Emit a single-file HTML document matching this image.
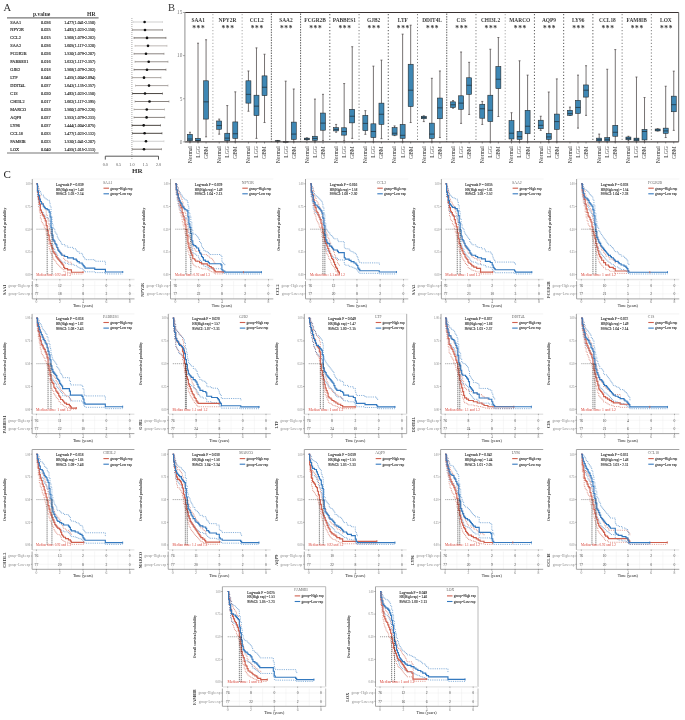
<!DOCTYPE html>
<html><head><meta charset="utf-8"><title>Figure</title>
<style>
html,body{margin:0;padding:0;background:#fff;}
body{width:685px;height:720px;overflow:hidden;}
svg{display:block;}
text{font-family:"Liberation Serif",serif;}
</style></head><body>
<svg width="685" height="720" viewBox="0 0 685 720">
<rect width="685" height="720" fill="#fff"/>
<text x="3.5" y="10.6" font-size="10.5" font-family="Liberation Serif, serif" fill="#333">A</text>
<text x="168" y="10.6" font-size="10.5" font-family="Liberation Serif, serif" fill="#333">B</text>
<text x="3.6" y="178.2" font-size="11" font-family="Liberation Serif, serif" fill="#222">C</text>
<g font-family="Liberation Serif, serif" stroke-width="0.14">
<text x="33" y="15.6" font-size="5.6" font-weight="bold" fill="#333">p.value</text>
<text x="95.5" y="15.6" font-size="5.6" font-weight="bold" fill="#333" text-anchor="end">HR</text>
<line x1="7" y1="17.9" x2="98.6" y2="17.9" stroke="#777" stroke-width="1.1"/>
<line x1="7" y1="153" x2="98.6" y2="153" stroke="#777" stroke-width="1.1"/>
<text x="10.3" y="23.5" font-size="4.3" fill="#2a2a2a" stroke="#2a2a2a">SAA1</text>
<text x="41" y="23.5" font-size="4.3" fill="#2a2a2a" stroke="#2a2a2a">0.036</text>
<text x="95.3" y="23.5" font-size="4.3" fill="#2a2a2a" stroke="#2a2a2a" text-anchor="end" textLength="31" lengthAdjust="spacingAndGlyphs">1.477(1.041-2.150)</text>
<text x="10.3" y="31.45" font-size="4.3" fill="#2a2a2a" stroke="#2a2a2a">NPY2R</text>
<text x="41" y="31.45" font-size="4.3" fill="#2a2a2a" stroke="#2a2a2a">0.025</text>
<text x="95.3" y="31.45" font-size="4.3" fill="#2a2a2a" stroke="#2a2a2a" text-anchor="end" textLength="31" lengthAdjust="spacingAndGlyphs">1.492(1.023-2.150)</text>
<text x="10.3" y="39.4" font-size="4.3" fill="#2a2a2a" stroke="#2a2a2a">CCL2</text>
<text x="41" y="39.4" font-size="4.3" fill="#2a2a2a" stroke="#2a2a2a">0.015</text>
<text x="95.3" y="39.4" font-size="4.3" fill="#2a2a2a" stroke="#2a2a2a" text-anchor="end" textLength="31" lengthAdjust="spacingAndGlyphs">1.568(1.079-2.282)</text>
<text x="10.3" y="47.35" font-size="4.3" fill="#2a2a2a" stroke="#2a2a2a">SAA2</text>
<text x="41" y="47.35" font-size="4.3" fill="#2a2a2a" stroke="#2a2a2a">0.036</text>
<text x="95.3" y="47.35" font-size="4.3" fill="#2a2a2a" stroke="#2a2a2a" text-anchor="end" textLength="31" lengthAdjust="spacingAndGlyphs">1.605(1.117-2.320)</text>
<text x="10.3" y="55.3" font-size="4.3" fill="#2a2a2a" stroke="#2a2a2a">FCGR2B</text>
<text x="41" y="55.3" font-size="4.3" fill="#2a2a2a" stroke="#2a2a2a">0.026</text>
<text x="95.3" y="55.3" font-size="4.3" fill="#2a2a2a" stroke="#2a2a2a" text-anchor="end" textLength="31" lengthAdjust="spacingAndGlyphs">1.530(1.079-2.207)</text>
<text x="10.3" y="63.25" font-size="4.3" fill="#2a2a2a" stroke="#2a2a2a">PABBES1</text>
<text x="41" y="63.25" font-size="4.3" fill="#2a2a2a" stroke="#2a2a2a">0.016</text>
<text x="95.3" y="63.25" font-size="4.3" fill="#2a2a2a" stroke="#2a2a2a" text-anchor="end" textLength="31" lengthAdjust="spacingAndGlyphs">1.632(1.117-2.357)</text>
<text x="10.3" y="71.2" font-size="4.3" fill="#2a2a2a" stroke="#2a2a2a">GJB2</text>
<text x="41" y="71.2" font-size="4.3" fill="#2a2a2a" stroke="#2a2a2a">0.018</text>
<text x="95.3" y="71.2" font-size="4.3" fill="#2a2a2a" stroke="#2a2a2a" text-anchor="end" textLength="31" lengthAdjust="spacingAndGlyphs">1.568(1.079-2.282)</text>
<text x="10.3" y="79.15" font-size="4.3" fill="#2a2a2a" stroke="#2a2a2a">LTF</text>
<text x="41" y="79.15" font-size="4.3" fill="#2a2a2a" stroke="#2a2a2a">0.046</text>
<text x="95.3" y="79.15" font-size="4.3" fill="#2a2a2a" stroke="#2a2a2a" text-anchor="end" textLength="31" lengthAdjust="spacingAndGlyphs">1.455(1.004-2.094)</text>
<text x="10.3" y="87.1" font-size="4.3" fill="#2a2a2a" stroke="#2a2a2a">DDIT4L</text>
<text x="41" y="87.1" font-size="4.3" fill="#2a2a2a" stroke="#2a2a2a">0.037</text>
<text x="95.3" y="87.1" font-size="4.3" fill="#2a2a2a" stroke="#2a2a2a" text-anchor="end" textLength="31" lengthAdjust="spacingAndGlyphs">1.643(1.135-2.357)</text>
<text x="10.3" y="95.05" font-size="4.3" fill="#2a2a2a" stroke="#2a2a2a">C1S</text>
<text x="41" y="95.05" font-size="4.3" fill="#2a2a2a" stroke="#2a2a2a">0.020</text>
<text x="95.3" y="95.05" font-size="4.3" fill="#2a2a2a" stroke="#2a2a2a" text-anchor="end" textLength="31" lengthAdjust="spacingAndGlyphs">1.492(1.023-2.150)</text>
<text x="10.3" y="103" font-size="4.3" fill="#2a2a2a" stroke="#2a2a2a">CHI3L2</text>
<text x="41" y="103" font-size="4.3" fill="#2a2a2a" stroke="#2a2a2a">0.017</text>
<text x="95.3" y="103" font-size="4.3" fill="#2a2a2a" stroke="#2a2a2a" text-anchor="end" textLength="31" lengthAdjust="spacingAndGlyphs">1.662(1.117-2.395)</text>
<text x="10.3" y="110.95" font-size="4.3" fill="#2a2a2a" stroke="#2a2a2a">MARCO</text>
<text x="41" y="110.95" font-size="4.3" fill="#2a2a2a" stroke="#2a2a2a">0.028</text>
<text x="95.3" y="110.95" font-size="4.3" fill="#2a2a2a" stroke="#2a2a2a" text-anchor="end" textLength="31" lengthAdjust="spacingAndGlyphs">1.560(1.079-2.226)</text>
<text x="10.3" y="118.9" font-size="4.3" fill="#2a2a2a" stroke="#2a2a2a">AQP9</text>
<text x="41" y="118.9" font-size="4.3" fill="#2a2a2a" stroke="#2a2a2a">0.037</text>
<text x="95.3" y="118.9" font-size="4.3" fill="#2a2a2a" stroke="#2a2a2a" text-anchor="end" textLength="31" lengthAdjust="spacingAndGlyphs">1.553(1.079-2.233)</text>
<text x="10.3" y="126.85" font-size="4.3" fill="#2a2a2a" stroke="#2a2a2a">LY96</text>
<text x="41" y="126.85" font-size="4.3" fill="#2a2a2a" stroke="#2a2a2a">0.037</text>
<text x="95.3" y="126.85" font-size="4.3" fill="#2a2a2a" stroke="#2a2a2a" text-anchor="end" textLength="31" lengthAdjust="spacingAndGlyphs">1.444(1.004-2.075)</text>
<text x="10.3" y="134.8" font-size="4.3" fill="#2a2a2a" stroke="#2a2a2a">CCL18</text>
<text x="41" y="134.8" font-size="4.3" fill="#2a2a2a" stroke="#2a2a2a">0.033</text>
<text x="95.3" y="134.8" font-size="4.3" fill="#2a2a2a" stroke="#2a2a2a" text-anchor="end" textLength="31" lengthAdjust="spacingAndGlyphs">1.477(1.023-2.132)</text>
<text x="10.3" y="142.75" font-size="4.3" fill="#2a2a2a" stroke="#2a2a2a">FAM8IB</text>
<text x="41" y="142.75" font-size="4.3" fill="#2a2a2a" stroke="#2a2a2a">0.023</text>
<text x="95.3" y="142.75" font-size="4.3" fill="#2a2a2a" stroke="#2a2a2a" text-anchor="end" textLength="31" lengthAdjust="spacingAndGlyphs">1.530(1.041-2.207)</text>
<text x="10.3" y="150.7" font-size="4.3" fill="#2a2a2a" stroke="#2a2a2a">LOX</text>
<text x="41" y="150.7" font-size="4.3" fill="#2a2a2a" stroke="#2a2a2a">0.040</text>
<text x="95.3" y="150.7" font-size="4.3" fill="#2a2a2a" stroke="#2a2a2a" text-anchor="end" textLength="31" lengthAdjust="spacingAndGlyphs">1.455(1.015-2.113)</text>
</g>
<line x1="131.9" y1="18" x2="131.9" y2="159.5" stroke="#777" stroke-width="0.7" stroke-dasharray="0.9 1.1"/>
<line x1="133" y1="22" x2="162.5" y2="22" stroke="#cfcfcf" stroke-width="1.0"/>
<line x1="133" y1="21" x2="133" y2="23" stroke="#cfcfcf" stroke-width="0.6"/>
<line x1="162.5" y1="21" x2="162.5" y2="23" stroke="#cfcfcf" stroke-width="0.6"/>
<circle cx="144.6" cy="22" r="1.3" fill="#111"/>
<line x1="132.5" y1="29.95" x2="162.5" y2="29.95" stroke="#8a8480" stroke-width="1.0"/>
<line x1="132.5" y1="28.95" x2="132.5" y2="30.95" stroke="#8a8480" stroke-width="0.6"/>
<line x1="162.5" y1="28.95" x2="162.5" y2="30.95" stroke="#8a8480" stroke-width="0.6"/>
<circle cx="145" cy="29.95" r="1.3" fill="#111"/>
<line x1="134" y1="37.9" x2="166" y2="37.9" stroke="#6e6864" stroke-width="1.0"/>
<line x1="134" y1="36.9" x2="134" y2="38.9" stroke="#6e6864" stroke-width="0.6"/>
<line x1="166" y1="36.9" x2="166" y2="38.9" stroke="#6e6864" stroke-width="0.6"/>
<circle cx="147" cy="37.9" r="1.3" fill="#111"/>
<line x1="135" y1="45.85" x2="167" y2="45.85" stroke="#bdb8b4" stroke-width="1.0"/>
<line x1="135" y1="44.85" x2="135" y2="46.85" stroke="#bdb8b4" stroke-width="0.6"/>
<line x1="167" y1="44.85" x2="167" y2="46.85" stroke="#bdb8b4" stroke-width="0.6"/>
<circle cx="148" cy="45.85" r="1.3" fill="#111"/>
<line x1="134" y1="53.8" x2="164" y2="53.8" stroke="#8a8480" stroke-width="1.0"/>
<line x1="134" y1="52.8" x2="134" y2="54.8" stroke="#8a8480" stroke-width="0.6"/>
<line x1="164" y1="52.8" x2="164" y2="54.8" stroke="#8a8480" stroke-width="0.6"/>
<circle cx="146" cy="53.8" r="1.3" fill="#111"/>
<line x1="135" y1="61.75" x2="168" y2="61.75" stroke="#9a9490" stroke-width="1.0"/>
<line x1="135" y1="60.75" x2="135" y2="62.75" stroke="#9a9490" stroke-width="0.6"/>
<line x1="168" y1="60.75" x2="168" y2="62.75" stroke="#9a9490" stroke-width="0.6"/>
<circle cx="148.7" cy="61.75" r="1.3" fill="#111"/>
<line x1="134" y1="69.7" x2="166" y2="69.7" stroke="#6e6864" stroke-width="1.0"/>
<line x1="134" y1="68.7" x2="134" y2="70.7" stroke="#6e6864" stroke-width="0.6"/>
<line x1="166" y1="68.7" x2="166" y2="70.7" stroke="#6e6864" stroke-width="0.6"/>
<circle cx="147" cy="69.7" r="1.3" fill="#111"/>
<line x1="132" y1="77.65" x2="161" y2="77.65" stroke="#aaa5a0" stroke-width="1.0"/>
<line x1="132" y1="76.65" x2="132" y2="78.65" stroke="#aaa5a0" stroke-width="0.6"/>
<line x1="161" y1="76.65" x2="161" y2="78.65" stroke="#aaa5a0" stroke-width="0.6"/>
<circle cx="144" cy="77.65" r="1.3" fill="#111"/>
<line x1="135.5" y1="85.6" x2="168" y2="85.6" stroke="#a8a3a0" stroke-width="1.0"/>
<line x1="135.5" y1="84.6" x2="135.5" y2="86.6" stroke="#a8a3a0" stroke-width="0.6"/>
<line x1="168" y1="84.6" x2="168" y2="86.6" stroke="#a8a3a0" stroke-width="0.6"/>
<circle cx="149" cy="85.6" r="1.3" fill="#111"/>
<line x1="132.5" y1="93.55" x2="162.5" y2="93.55" stroke="#4a4540" stroke-width="1.0"/>
<line x1="132.5" y1="92.55" x2="132.5" y2="94.55" stroke="#4a4540" stroke-width="0.6"/>
<line x1="162.5" y1="92.55" x2="162.5" y2="94.55" stroke="#4a4540" stroke-width="0.6"/>
<circle cx="145" cy="93.55" r="1.3" fill="#111"/>
<line x1="135" y1="101.5" x2="169" y2="101.5" stroke="#8a8480" stroke-width="1.0"/>
<line x1="135" y1="100.5" x2="135" y2="102.5" stroke="#8a8480" stroke-width="0.6"/>
<line x1="169" y1="100.5" x2="169" y2="102.5" stroke="#8a8480" stroke-width="0.6"/>
<circle cx="149.5" cy="101.5" r="1.3" fill="#111"/>
<line x1="134" y1="109.45" x2="164.5" y2="109.45" stroke="#aaa5a0" stroke-width="1.0"/>
<line x1="134" y1="108.45" x2="134" y2="110.45" stroke="#aaa5a0" stroke-width="0.6"/>
<line x1="164.5" y1="108.45" x2="164.5" y2="110.45" stroke="#aaa5a0" stroke-width="0.6"/>
<circle cx="146.8" cy="109.45" r="1.3" fill="#111"/>
<line x1="134" y1="117.4" x2="164.7" y2="117.4" stroke="#8a8480" stroke-width="1.0"/>
<line x1="134" y1="116.4" x2="134" y2="118.4" stroke="#8a8480" stroke-width="0.6"/>
<line x1="164.7" y1="116.4" x2="164.7" y2="118.4" stroke="#8a8480" stroke-width="0.6"/>
<circle cx="146.6" cy="117.4" r="1.3" fill="#111"/>
<line x1="132" y1="125.35" x2="160.5" y2="125.35" stroke="#4a4540" stroke-width="1.0"/>
<line x1="132" y1="124.35" x2="132" y2="126.35" stroke="#4a4540" stroke-width="0.6"/>
<line x1="160.5" y1="124.35" x2="160.5" y2="126.35" stroke="#4a4540" stroke-width="0.6"/>
<circle cx="143.7" cy="125.35" r="1.3" fill="#111"/>
<line x1="132.5" y1="133.3" x2="162" y2="133.3" stroke="#4a4540" stroke-width="1.0"/>
<line x1="132.5" y1="132.3" x2="132.5" y2="134.3" stroke="#4a4540" stroke-width="0.6"/>
<line x1="162" y1="132.3" x2="162" y2="134.3" stroke="#4a4540" stroke-width="0.6"/>
<circle cx="144.6" cy="133.3" r="1.3" fill="#111"/>
<line x1="133" y1="141.25" x2="164" y2="141.25" stroke="#d0d0d0" stroke-width="1.0"/>
<line x1="133" y1="140.25" x2="133" y2="142.25" stroke="#d0d0d0" stroke-width="0.6"/>
<line x1="164" y1="140.25" x2="164" y2="142.25" stroke="#d0d0d0" stroke-width="0.6"/>
<circle cx="146" cy="141.25" r="1.3" fill="#111"/>
<line x1="132.3" y1="149.2" x2="161.5" y2="149.2" stroke="#7a7470" stroke-width="1.0"/>
<line x1="132.3" y1="148.2" x2="132.3" y2="150.2" stroke="#7a7470" stroke-width="0.6"/>
<line x1="161.5" y1="148.2" x2="161.5" y2="150.2" stroke="#7a7470" stroke-width="0.6"/>
<circle cx="144" cy="149.2" r="1.3" fill="#111"/>
<path d="M105.3 159.6V156.2H158.5V159.6" fill="none" stroke="#444" stroke-width="0.9"/>
<text x="105.3" y="166" font-size="4.2" fill="#555" text-anchor="middle" font-family="Liberation Serif, serif">0.0</text>
<text x="118.6" y="166" font-size="4.2" fill="#555" text-anchor="middle" font-family="Liberation Serif, serif">0.5</text>
<text x="131.9" y="166" font-size="4.2" fill="#555" text-anchor="middle" font-family="Liberation Serif, serif">1.0</text>
<text x="145.2" y="166" font-size="4.2" fill="#555" text-anchor="middle" font-family="Liberation Serif, serif">1.5</text>
<text x="158.5" y="166" font-size="4.2" fill="#555" text-anchor="middle" font-family="Liberation Serif, serif">2.0</text>
<text x="137.3" y="173" font-size="7" font-weight="bold" fill="#333" text-anchor="middle" font-family="Liberation Serif, serif">HR</text>
<g>
<line x1="212.9" y1="14.0" x2="212.9" y2="141.85" stroke="#a8a8a8" stroke-width="1.0" stroke-dasharray="1.2 2"/>
<line x1="242.13" y1="14.0" x2="242.13" y2="141.85" stroke="#a8a8a8" stroke-width="1.0" stroke-dasharray="1.2 2"/>
<line x1="271.36" y1="13.5" x2="271.36" y2="141.85" stroke="#3a3a3a" stroke-width="0.8" stroke-dasharray="1.5 1.1"/>
<line x1="300.59" y1="13.5" x2="300.59" y2="141.85" stroke="#3a3a3a" stroke-width="0.8" stroke-dasharray="1.5 1.1"/>
<line x1="329.82" y1="14.0" x2="329.82" y2="141.85" stroke="#555" stroke-width="1.0" stroke-dasharray="1.2 2"/>
<line x1="359.05" y1="14.0" x2="359.05" y2="141.85" stroke="#808080" stroke-width="1.0" stroke-dasharray="1.2 2"/>
<line x1="388.28" y1="14.0" x2="388.28" y2="141.85" stroke="#555" stroke-width="1.0" stroke-dasharray="1.2 2"/>
<line x1="417.51" y1="14.0" x2="417.51" y2="141.85" stroke="#808080" stroke-width="1.0" stroke-dasharray="1.2 2"/>
<line x1="446.74" y1="13.5" x2="446.74" y2="141.85" stroke="#3a3a3a" stroke-width="0.8" stroke-dasharray="1.5 1.1"/>
<line x1="475.97" y1="14.0" x2="475.97" y2="141.85" stroke="#808080" stroke-width="1.0" stroke-dasharray="1.2 2"/>
<line x1="505.2" y1="14.0" x2="505.2" y2="141.85" stroke="#a8a8a8" stroke-width="1.0" stroke-dasharray="1.2 2"/>
<line x1="534.43" y1="14.0" x2="534.43" y2="141.85" stroke="#555" stroke-width="1.0" stroke-dasharray="1.2 2"/>
<line x1="563.66" y1="14.0" x2="563.66" y2="141.85" stroke="#555" stroke-width="1.0" stroke-dasharray="1.2 2"/>
<line x1="592.89" y1="14.0" x2="592.89" y2="141.85" stroke="#555" stroke-width="1.0" stroke-dasharray="1.2 2"/>
<line x1="622.12" y1="14.0" x2="622.12" y2="141.85" stroke="#808080" stroke-width="1.0" stroke-dasharray="1.2 2"/>
<line x1="651.35" y1="14.0" x2="651.35" y2="141.85" stroke="#808080" stroke-width="1.0" stroke-dasharray="1.2 2"/>
<text x="198.22" y="22.3" font-size="5.4" font-family="Liberation Serif, serif" font-weight="bold" fill="#3a3a3a" text-anchor="middle">SAA1</text>
<text x="198.82" y="30.6" font-size="7.4" font-family="Liberation Serif, serif" font-weight="bold" fill="#333" text-anchor="middle" letter-spacing="0.7">***</text>
<line x1="189.97" y1="132.28" x2="189.97" y2="141.85" stroke="#4a4444" stroke-width="0.75"/>
<line x1="188.97" y1="132.28" x2="190.97" y2="132.28" stroke="#4a4444" stroke-width="0.7"/>
<line x1="188.97" y1="141.85" x2="190.97" y2="141.85" stroke="#4a4444" stroke-width="0.7"/>
<rect x="187.47" y="134.35" width="5" height="6.38" fill="#3e87b4" stroke="#222" stroke-width="0.55"/>
<line x1="187.47" y1="139" x2="192.47" y2="139" stroke="#1a1a1a" stroke-width="0.6"/>
<line x1="189.97" y1="141.85" x2="189.97" y2="143.45" stroke="#555" stroke-width="0.7"/>
<text transform="translate(191.87,146.15) rotate(-90)" font-size="5.6" font-family="Liberation Serif, serif" fill="#333" text-anchor="end">Normal</text>
<line x1="198.02" y1="43.2" x2="198.02" y2="141.85" stroke="#4a4444" stroke-width="0.75"/>
<line x1="197.02" y1="43.2" x2="199.02" y2="43.2" stroke="#4a4444" stroke-width="0.7"/>
<line x1="197.02" y1="141.85" x2="199.02" y2="141.85" stroke="#4a4444" stroke-width="0.7"/>
<rect x="195.52" y="138.31" width="5" height="2.67" fill="#3e87b4" stroke="#222" stroke-width="0.55"/>
<line x1="195.52" y1="140.56" x2="200.52" y2="140.56" stroke="#1a1a1a" stroke-width="0.6"/>
<line x1="198.02" y1="141.85" x2="198.02" y2="143.45" stroke="#555" stroke-width="0.7"/>
<text transform="translate(199.92,146.15) rotate(-90)" font-size="5.6" font-family="Liberation Serif, serif" fill="#333" text-anchor="end">LGG</text>
<line x1="206.07" y1="39.75" x2="206.07" y2="136.85" stroke="#4a4444" stroke-width="0.75"/>
<line x1="205.07" y1="39.75" x2="207.07" y2="39.75" stroke="#4a4444" stroke-width="0.7"/>
<line x1="205.07" y1="136.85" x2="207.07" y2="136.85" stroke="#4a4444" stroke-width="0.7"/>
<rect x="203.57" y="80.8" width="5" height="38.29" fill="#3e87b4" stroke="#222" stroke-width="0.55"/>
<line x1="203.57" y1="101.84" x2="208.57" y2="101.84" stroke="#1a1a1a" stroke-width="0.6"/>
<line x1="206.07" y1="141.85" x2="206.07" y2="143.45" stroke="#555" stroke-width="0.7"/>
<text transform="translate(207.97,146.15) rotate(-90)" font-size="5.6" font-family="Liberation Serif, serif" fill="#333" text-anchor="end">GBM</text>
<text x="227.45" y="22.3" font-size="5.4" font-family="Liberation Serif, serif" font-weight="bold" fill="#3a3a3a" text-anchor="middle">NPY2R</text>
<text x="228.05" y="30.6" font-size="7.4" font-family="Liberation Serif, serif" font-weight="bold" fill="#333" text-anchor="middle" letter-spacing="0.7">***</text>
<line x1="219.2" y1="119.08" x2="219.2" y2="134.18" stroke="#4a4444" stroke-width="0.75"/>
<line x1="218.2" y1="119.08" x2="220.2" y2="119.08" stroke="#4a4444" stroke-width="0.7"/>
<line x1="218.2" y1="134.18" x2="220.2" y2="134.18" stroke="#4a4444" stroke-width="0.7"/>
<rect x="216.7" y="120.98" width="5" height="8.28" fill="#3e87b4" stroke="#222" stroke-width="0.55"/>
<line x1="216.7" y1="125.47" x2="221.7" y2="125.47" stroke="#1a1a1a" stroke-width="0.6"/>
<line x1="219.2" y1="141.85" x2="219.2" y2="143.45" stroke="#555" stroke-width="0.7"/>
<text transform="translate(221.1,146.15) rotate(-90)" font-size="5.6" font-family="Liberation Serif, serif" fill="#333" text-anchor="end">Normal</text>
<line x1="227.25" y1="105.55" x2="227.25" y2="141.85" stroke="#4a4444" stroke-width="0.75"/>
<line x1="226.25" y1="105.55" x2="228.25" y2="105.55" stroke="#4a4444" stroke-width="0.7"/>
<line x1="226.25" y1="141.85" x2="228.25" y2="141.85" stroke="#4a4444" stroke-width="0.7"/>
<rect x="224.75" y="133.23" width="5" height="7.5" fill="#3e87b4" stroke="#222" stroke-width="0.55"/>
<line x1="224.75" y1="138.14" x2="229.75" y2="138.14" stroke="#1a1a1a" stroke-width="0.6"/>
<line x1="227.25" y1="141.85" x2="227.25" y2="143.45" stroke="#555" stroke-width="0.7"/>
<text transform="translate(229.15,146.15) rotate(-90)" font-size="5.6" font-family="Liberation Serif, serif" fill="#333" text-anchor="end">LGG</text>
<line x1="235.3" y1="91.83" x2="235.3" y2="141.85" stroke="#4a4444" stroke-width="0.75"/>
<line x1="234.3" y1="91.83" x2="236.3" y2="91.83" stroke="#4a4444" stroke-width="0.7"/>
<line x1="234.3" y1="141.85" x2="236.3" y2="141.85" stroke="#4a4444" stroke-width="0.7"/>
<rect x="232.8" y="121.93" width="5" height="16.47" fill="#3e87b4" stroke="#222" stroke-width="0.55"/>
<line x1="232.8" y1="133.74" x2="237.8" y2="133.74" stroke="#1a1a1a" stroke-width="0.6"/>
<line x1="235.3" y1="141.85" x2="235.3" y2="143.45" stroke="#555" stroke-width="0.7"/>
<text transform="translate(237.2,146.15) rotate(-90)" font-size="5.6" font-family="Liberation Serif, serif" fill="#333" text-anchor="end">GBM</text>
<text x="256.68" y="22.3" font-size="5.4" font-family="Liberation Serif, serif" font-weight="bold" fill="#3a3a3a" text-anchor="middle">CCL2</text>
<text x="257.28" y="30.6" font-size="7.4" font-family="Liberation Serif, serif" font-weight="bold" fill="#333" text-anchor="middle" letter-spacing="0.7">***</text>
<line x1="248.43" y1="70.97" x2="248.43" y2="111.24" stroke="#4a4444" stroke-width="0.75"/>
<line x1="247.43" y1="70.97" x2="249.43" y2="70.97" stroke="#4a4444" stroke-width="0.7"/>
<line x1="247.43" y1="111.24" x2="249.43" y2="111.24" stroke="#4a4444" stroke-width="0.7"/>
<rect x="245.93" y="80.8" width="5" height="22.33" fill="#3e87b4" stroke="#222" stroke-width="0.55"/>
<line x1="245.93" y1="94.34" x2="250.93" y2="94.34" stroke="#1a1a1a" stroke-width="0.6"/>
<line x1="248.43" y1="141.85" x2="248.43" y2="143.45" stroke="#555" stroke-width="0.7"/>
<text transform="translate(250.33,146.15) rotate(-90)" font-size="5.6" font-family="Liberation Serif, serif" fill="#333" text-anchor="end">Normal</text>
<line x1="256.48" y1="47.86" x2="256.48" y2="138.4" stroke="#4a4444" stroke-width="0.75"/>
<line x1="255.48" y1="47.86" x2="257.48" y2="47.86" stroke="#4a4444" stroke-width="0.7"/>
<line x1="255.48" y1="138.4" x2="257.48" y2="138.4" stroke="#4a4444" stroke-width="0.7"/>
<rect x="253.98" y="95.2" width="5" height="20.35" fill="#3e87b4" stroke="#222" stroke-width="0.55"/>
<line x1="253.98" y1="106.15" x2="258.98" y2="106.15" stroke="#1a1a1a" stroke-width="0.6"/>
<line x1="256.48" y1="141.85" x2="256.48" y2="143.45" stroke="#555" stroke-width="0.7"/>
<text transform="translate(258.38,146.15) rotate(-90)" font-size="5.6" font-family="Liberation Serif, serif" fill="#333" text-anchor="end">LGG</text>
<line x1="264.53" y1="54.24" x2="264.53" y2="122.53" stroke="#4a4444" stroke-width="0.75"/>
<line x1="263.53" y1="54.24" x2="265.53" y2="54.24" stroke="#4a4444" stroke-width="0.7"/>
<line x1="263.53" y1="122.53" x2="265.53" y2="122.53" stroke="#4a4444" stroke-width="0.7"/>
<rect x="262.03" y="75.88" width="5" height="19.75" fill="#3e87b4" stroke="#222" stroke-width="0.55"/>
<line x1="262.03" y1="87.26" x2="267.03" y2="87.26" stroke="#1a1a1a" stroke-width="0.6"/>
<line x1="264.53" y1="141.85" x2="264.53" y2="143.45" stroke="#555" stroke-width="0.7"/>
<text transform="translate(266.43,146.15) rotate(-90)" font-size="5.6" font-family="Liberation Serif, serif" fill="#333" text-anchor="end">GBM</text>
<text x="285.91" y="22.3" font-size="5.4" font-family="Liberation Serif, serif" font-weight="bold" fill="#3a3a3a" text-anchor="middle">SAA2</text>
<text x="286.51" y="30.6" font-size="7.4" font-family="Liberation Serif, serif" font-weight="bold" fill="#333" text-anchor="middle" letter-spacing="0.7">***</text>
<line x1="277.66" y1="140.47" x2="277.66" y2="141.85" stroke="#4a4444" stroke-width="0.75"/>
<line x1="276.66" y1="140.47" x2="278.66" y2="140.47" stroke="#4a4444" stroke-width="0.7"/>
<line x1="276.66" y1="141.85" x2="278.66" y2="141.85" stroke="#4a4444" stroke-width="0.7"/>
<rect x="275.16" y="140.73" width="5" height="0.78" fill="#3e87b4" stroke="#222" stroke-width="0.55"/>
<line x1="275.16" y1="141.16" x2="280.16" y2="141.16" stroke="#1a1a1a" stroke-width="0.6"/>
<line x1="277.66" y1="141.85" x2="277.66" y2="143.45" stroke="#555" stroke-width="0.7"/>
<text transform="translate(279.56,146.15) rotate(-90)" font-size="5.6" font-family="Liberation Serif, serif" fill="#333" text-anchor="end">Normal</text>
<line x1="285.71" y1="81.14" x2="285.71" y2="141.85" stroke="#4a4444" stroke-width="0.75"/>
<line x1="284.71" y1="81.14" x2="286.71" y2="81.14" stroke="#4a4444" stroke-width="0.7"/>
<line x1="284.71" y1="141.85" x2="286.71" y2="141.85" stroke="#4a4444" stroke-width="0.7"/>
<rect x="283.21" y="141.59" width="5" height="0.6" fill="#3e87b4" stroke="#222" stroke-width="0.55"/>
<line x1="283.21" y1="141.76" x2="288.21" y2="141.76" stroke="#1a1a1a" stroke-width="0.6"/>
<line x1="285.71" y1="141.85" x2="285.71" y2="143.45" stroke="#555" stroke-width="0.7"/>
<text transform="translate(287.61,146.15) rotate(-90)" font-size="5.6" font-family="Liberation Serif, serif" fill="#333" text-anchor="end">LGG</text>
<line x1="293.76" y1="88.99" x2="293.76" y2="141.85" stroke="#4a4444" stroke-width="0.75"/>
<line x1="292.76" y1="88.99" x2="294.76" y2="88.99" stroke="#4a4444" stroke-width="0.7"/>
<line x1="292.76" y1="141.85" x2="294.76" y2="141.85" stroke="#4a4444" stroke-width="0.7"/>
<rect x="291.26" y="122.1" width="5" height="17.33" fill="#3e87b4" stroke="#222" stroke-width="0.55"/>
<line x1="291.26" y1="134.09" x2="296.26" y2="134.09" stroke="#1a1a1a" stroke-width="0.6"/>
<line x1="293.76" y1="141.85" x2="293.76" y2="143.45" stroke="#555" stroke-width="0.7"/>
<text transform="translate(295.66,146.15) rotate(-90)" font-size="5.6" font-family="Liberation Serif, serif" fill="#333" text-anchor="end">GBM</text>
<text x="315.14" y="22.3" font-size="5.4" font-family="Liberation Serif, serif" font-weight="bold" fill="#3a3a3a" text-anchor="middle">FCGR2B</text>
<text x="315.74" y="30.6" font-size="7.4" font-family="Liberation Serif, serif" font-weight="bold" fill="#333" text-anchor="middle" letter-spacing="0.7">***</text>
<line x1="306.89" y1="137.8" x2="306.89" y2="140.13" stroke="#4a4444" stroke-width="0.75"/>
<line x1="305.89" y1="137.8" x2="307.89" y2="137.8" stroke="#4a4444" stroke-width="0.7"/>
<line x1="305.89" y1="140.13" x2="307.89" y2="140.13" stroke="#4a4444" stroke-width="0.7"/>
<rect x="304.39" y="138.14" width="5" height="1.64" fill="#3e87b4" stroke="#222" stroke-width="0.55"/>
<line x1="304.39" y1="139" x2="309.39" y2="139" stroke="#1a1a1a" stroke-width="0.6"/>
<line x1="306.89" y1="141.85" x2="306.89" y2="143.45" stroke="#555" stroke-width="0.7"/>
<text transform="translate(308.79,146.15) rotate(-90)" font-size="5.6" font-family="Liberation Serif, serif" fill="#333" text-anchor="end">Normal</text>
<line x1="314.94" y1="99.08" x2="314.94" y2="141.85" stroke="#4a4444" stroke-width="0.75"/>
<line x1="313.94" y1="99.08" x2="315.94" y2="99.08" stroke="#4a4444" stroke-width="0.7"/>
<line x1="313.94" y1="141.85" x2="315.94" y2="141.85" stroke="#4a4444" stroke-width="0.7"/>
<rect x="312.44" y="136.24" width="5" height="4.14" fill="#3e87b4" stroke="#222" stroke-width="0.55"/>
<line x1="312.44" y1="138.4" x2="317.44" y2="138.4" stroke="#1a1a1a" stroke-width="0.6"/>
<line x1="314.94" y1="141.85" x2="314.94" y2="143.45" stroke="#555" stroke-width="0.7"/>
<text transform="translate(316.84,146.15) rotate(-90)" font-size="5.6" font-family="Liberation Serif, serif" fill="#333" text-anchor="end">LGG</text>
<line x1="322.99" y1="94.34" x2="322.99" y2="140.73" stroke="#4a4444" stroke-width="0.75"/>
<line x1="321.99" y1="94.34" x2="323.99" y2="94.34" stroke="#4a4444" stroke-width="0.7"/>
<line x1="321.99" y1="140.73" x2="323.99" y2="140.73" stroke="#4a4444" stroke-width="0.7"/>
<rect x="320.49" y="113.05" width="5" height="17.16" fill="#3e87b4" stroke="#222" stroke-width="0.55"/>
<line x1="320.49" y1="123.14" x2="325.49" y2="123.14" stroke="#1a1a1a" stroke-width="0.6"/>
<line x1="322.99" y1="141.85" x2="322.99" y2="143.45" stroke="#555" stroke-width="0.7"/>
<text transform="translate(324.89,146.15) rotate(-90)" font-size="5.6" font-family="Liberation Serif, serif" fill="#333" text-anchor="end">GBM</text>
<text x="344.37" y="22.3" font-size="5.4" font-family="Liberation Serif, serif" font-weight="bold" fill="#3a3a3a" text-anchor="middle">PABBES1</text>
<text x="344.97" y="30.6" font-size="7.4" font-family="Liberation Serif, serif" font-weight="bold" fill="#333" text-anchor="middle" letter-spacing="0.7">***</text>
<line x1="336.12" y1="124.43" x2="336.12" y2="132.28" stroke="#4a4444" stroke-width="0.75"/>
<line x1="335.12" y1="124.43" x2="337.12" y2="124.43" stroke="#4a4444" stroke-width="0.7"/>
<line x1="335.12" y1="132.28" x2="337.12" y2="132.28" stroke="#4a4444" stroke-width="0.7"/>
<rect x="333.62" y="127.62" width="5" height="3.28" fill="#3e87b4" stroke="#222" stroke-width="0.55"/>
<line x1="333.62" y1="129.35" x2="338.62" y2="129.35" stroke="#1a1a1a" stroke-width="0.6"/>
<line x1="336.12" y1="141.85" x2="336.12" y2="143.45" stroke="#555" stroke-width="0.7"/>
<text transform="translate(338.02,146.15) rotate(-90)" font-size="5.6" font-family="Liberation Serif, serif" fill="#333" text-anchor="end">Normal</text>
<line x1="344.17" y1="83.56" x2="344.17" y2="140.73" stroke="#4a4444" stroke-width="0.75"/>
<line x1="343.17" y1="83.56" x2="345.17" y2="83.56" stroke="#4a4444" stroke-width="0.7"/>
<line x1="343.17" y1="140.73" x2="345.17" y2="140.73" stroke="#4a4444" stroke-width="0.7"/>
<rect x="341.67" y="127.79" width="5" height="7.33" fill="#3e87b4" stroke="#222" stroke-width="0.55"/>
<line x1="341.67" y1="131.5" x2="346.67" y2="131.5" stroke="#1a1a1a" stroke-width="0.6"/>
<line x1="344.17" y1="141.85" x2="344.17" y2="143.45" stroke="#555" stroke-width="0.7"/>
<text transform="translate(346.07,146.15) rotate(-90)" font-size="5.6" font-family="Liberation Serif, serif" fill="#333" text-anchor="end">LGG</text>
<line x1="352.22" y1="46.73" x2="352.22" y2="138.4" stroke="#4a4444" stroke-width="0.75"/>
<line x1="351.22" y1="46.73" x2="353.22" y2="46.73" stroke="#4a4444" stroke-width="0.7"/>
<line x1="351.22" y1="138.4" x2="353.22" y2="138.4" stroke="#4a4444" stroke-width="0.7"/>
<rect x="349.72" y="109.34" width="5" height="13.54" fill="#3e87b4" stroke="#222" stroke-width="0.55"/>
<line x1="349.72" y1="116.24" x2="354.72" y2="116.24" stroke="#1a1a1a" stroke-width="0.6"/>
<line x1="352.22" y1="141.85" x2="352.22" y2="143.45" stroke="#555" stroke-width="0.7"/>
<text transform="translate(354.12,146.15) rotate(-90)" font-size="5.6" font-family="Liberation Serif, serif" fill="#333" text-anchor="end">GBM</text>
<text x="373.6" y="22.3" font-size="5.4" font-family="Liberation Serif, serif" font-weight="bold" fill="#3a3a3a" text-anchor="middle">GJB2</text>
<text x="374.2" y="30.6" font-size="7.4" font-family="Liberation Serif, serif" font-weight="bold" fill="#333" text-anchor="middle" letter-spacing="0.7">***</text>
<line x1="365.35" y1="110.63" x2="365.35" y2="134.35" stroke="#4a4444" stroke-width="0.75"/>
<line x1="364.35" y1="110.63" x2="366.35" y2="110.63" stroke="#4a4444" stroke-width="0.7"/>
<line x1="364.35" y1="134.35" x2="366.35" y2="134.35" stroke="#4a4444" stroke-width="0.7"/>
<rect x="362.85" y="115.38" width="5" height="15.26" fill="#3e87b4" stroke="#222" stroke-width="0.55"/>
<line x1="362.85" y1="123.4" x2="367.85" y2="123.4" stroke="#1a1a1a" stroke-width="0.6"/>
<line x1="365.35" y1="141.85" x2="365.35" y2="143.45" stroke="#555" stroke-width="0.7"/>
<text transform="translate(367.25,146.15) rotate(-90)" font-size="5.6" font-family="Liberation Serif, serif" fill="#333" text-anchor="end">Normal</text>
<line x1="373.4" y1="66.14" x2="373.4" y2="141.85" stroke="#4a4444" stroke-width="0.75"/>
<line x1="372.4" y1="66.14" x2="374.4" y2="66.14" stroke="#4a4444" stroke-width="0.7"/>
<line x1="372.4" y1="141.85" x2="374.4" y2="141.85" stroke="#4a4444" stroke-width="0.7"/>
<rect x="370.9" y="123.83" width="5" height="13.71" fill="#3e87b4" stroke="#222" stroke-width="0.55"/>
<line x1="370.9" y1="131.5" x2="375.9" y2="131.5" stroke="#1a1a1a" stroke-width="0.6"/>
<line x1="373.4" y1="141.85" x2="373.4" y2="143.45" stroke="#555" stroke-width="0.7"/>
<text transform="translate(375.3,146.15) rotate(-90)" font-size="5.6" font-family="Liberation Serif, serif" fill="#333" text-anchor="end">LGG</text>
<line x1="381.45" y1="60.1" x2="381.45" y2="138.66" stroke="#4a4444" stroke-width="0.75"/>
<line x1="380.45" y1="60.1" x2="382.45" y2="60.1" stroke="#4a4444" stroke-width="0.7"/>
<line x1="380.45" y1="138.66" x2="382.45" y2="138.66" stroke="#4a4444" stroke-width="0.7"/>
<rect x="378.95" y="103.13" width="5" height="21.3" fill="#3e87b4" stroke="#222" stroke-width="0.55"/>
<line x1="378.95" y1="114.26" x2="383.95" y2="114.26" stroke="#1a1a1a" stroke-width="0.6"/>
<line x1="381.45" y1="141.85" x2="381.45" y2="143.45" stroke="#555" stroke-width="0.7"/>
<text transform="translate(383.35,146.15) rotate(-90)" font-size="5.6" font-family="Liberation Serif, serif" fill="#333" text-anchor="end">GBM</text>
<text x="402.83" y="22.3" font-size="5.4" font-family="Liberation Serif, serif" font-weight="bold" fill="#3a3a3a" text-anchor="middle">LTF</text>
<text x="403.43" y="30.6" font-size="7.4" font-family="Liberation Serif, serif" font-weight="bold" fill="#333" text-anchor="middle" letter-spacing="0.7">***</text>
<line x1="394.58" y1="125.9" x2="394.58" y2="135.64" stroke="#4a4444" stroke-width="0.75"/>
<line x1="393.58" y1="125.9" x2="395.58" y2="125.9" stroke="#4a4444" stroke-width="0.7"/>
<line x1="393.58" y1="135.64" x2="395.58" y2="135.64" stroke="#4a4444" stroke-width="0.7"/>
<rect x="392.08" y="127.62" width="5" height="7.5" fill="#3e87b4" stroke="#222" stroke-width="0.55"/>
<line x1="392.08" y1="133.23" x2="397.08" y2="133.23" stroke="#1a1a1a" stroke-width="0.6"/>
<line x1="394.58" y1="141.85" x2="394.58" y2="143.45" stroke="#555" stroke-width="0.7"/>
<text transform="translate(396.48,146.15) rotate(-90)" font-size="5.6" font-family="Liberation Serif, serif" fill="#333" text-anchor="end">Normal</text>
<line x1="402.63" y1="34.14" x2="402.63" y2="141.85" stroke="#4a4444" stroke-width="0.75"/>
<line x1="401.63" y1="34.14" x2="403.63" y2="34.14" stroke="#4a4444" stroke-width="0.7"/>
<line x1="401.63" y1="141.85" x2="403.63" y2="141.85" stroke="#4a4444" stroke-width="0.7"/>
<rect x="400.13" y="124.43" width="5" height="13.97" fill="#3e87b4" stroke="#222" stroke-width="0.55"/>
<line x1="400.13" y1="135.3" x2="405.13" y2="135.3" stroke="#1a1a1a" stroke-width="0.6"/>
<line x1="402.63" y1="141.85" x2="402.63" y2="143.45" stroke="#555" stroke-width="0.7"/>
<text transform="translate(404.53,146.15) rotate(-90)" font-size="5.6" font-family="Liberation Serif, serif" fill="#333" text-anchor="end">LGG</text>
<line x1="410.68" y1="25.18" x2="410.68" y2="122.53" stroke="#4a4444" stroke-width="0.75"/>
<line x1="409.68" y1="25.18" x2="411.68" y2="25.18" stroke="#4a4444" stroke-width="0.7"/>
<line x1="409.68" y1="122.53" x2="411.68" y2="122.53" stroke="#4a4444" stroke-width="0.7"/>
<rect x="408.18" y="64.24" width="5" height="42.34" fill="#3e87b4" stroke="#222" stroke-width="0.55"/>
<line x1="408.18" y1="90.2" x2="413.18" y2="90.2" stroke="#1a1a1a" stroke-width="0.6"/>
<line x1="410.68" y1="141.85" x2="410.68" y2="143.45" stroke="#555" stroke-width="0.7"/>
<text transform="translate(412.58,146.15) rotate(-90)" font-size="5.6" font-family="Liberation Serif, serif" fill="#333" text-anchor="end">GBM</text>
<text x="432.06" y="22.3" font-size="5.4" font-family="Liberation Serif, serif" font-weight="bold" fill="#3a3a3a" text-anchor="middle">DDIT4L</text>
<text x="432.66" y="30.6" font-size="7.4" font-family="Liberation Serif, serif" font-weight="bold" fill="#333" text-anchor="middle" letter-spacing="0.7">***</text>
<line x1="423.81" y1="115.81" x2="423.81" y2="121.59" stroke="#4a4444" stroke-width="0.75"/>
<line x1="422.81" y1="115.81" x2="424.81" y2="115.81" stroke="#4a4444" stroke-width="0.7"/>
<line x1="422.81" y1="121.59" x2="424.81" y2="121.59" stroke="#4a4444" stroke-width="0.7"/>
<rect x="421.31" y="116.24" width="5" height="2.5" fill="#3e87b4" stroke="#222" stroke-width="0.55"/>
<line x1="421.31" y1="117.45" x2="426.31" y2="117.45" stroke="#1a1a1a" stroke-width="0.6"/>
<line x1="423.81" y1="141.85" x2="423.81" y2="143.45" stroke="#555" stroke-width="0.7"/>
<text transform="translate(425.71,146.15) rotate(-90)" font-size="5.6" font-family="Liberation Serif, serif" fill="#333" text-anchor="end">Normal</text>
<line x1="431.86" y1="78.3" x2="431.86" y2="141.85" stroke="#4a4444" stroke-width="0.75"/>
<line x1="430.86" y1="78.3" x2="432.86" y2="78.3" stroke="#4a4444" stroke-width="0.7"/>
<line x1="430.86" y1="141.85" x2="432.86" y2="141.85" stroke="#4a4444" stroke-width="0.7"/>
<rect x="429.36" y="123.14" width="5" height="15.26" fill="#3e87b4" stroke="#222" stroke-width="0.55"/>
<line x1="429.36" y1="134.09" x2="434.36" y2="134.09" stroke="#1a1a1a" stroke-width="0.6"/>
<line x1="431.86" y1="141.85" x2="431.86" y2="143.45" stroke="#555" stroke-width="0.7"/>
<text transform="translate(433.76,146.15) rotate(-90)" font-size="5.6" font-family="Liberation Serif, serif" fill="#333" text-anchor="end">LGG</text>
<line x1="439.91" y1="70.97" x2="439.91" y2="137.54" stroke="#4a4444" stroke-width="0.75"/>
<line x1="438.91" y1="70.97" x2="440.91" y2="70.97" stroke="#4a4444" stroke-width="0.7"/>
<line x1="438.91" y1="137.54" x2="440.91" y2="137.54" stroke="#4a4444" stroke-width="0.7"/>
<rect x="437.41" y="98.04" width="5" height="20.7" fill="#3e87b4" stroke="#222" stroke-width="0.55"/>
<line x1="437.41" y1="107.87" x2="442.41" y2="107.87" stroke="#1a1a1a" stroke-width="0.6"/>
<line x1="439.91" y1="141.85" x2="439.91" y2="143.45" stroke="#555" stroke-width="0.7"/>
<text transform="translate(441.81,146.15) rotate(-90)" font-size="5.6" font-family="Liberation Serif, serif" fill="#333" text-anchor="end">GBM</text>
<text x="461.29" y="22.3" font-size="5.4" font-family="Liberation Serif, serif" font-weight="bold" fill="#3a3a3a" text-anchor="middle">C1S</text>
<text x="461.89" y="30.6" font-size="7.4" font-family="Liberation Serif, serif" font-weight="bold" fill="#333" text-anchor="middle" letter-spacing="0.7">***</text>
<line x1="453.04" y1="100.54" x2="453.04" y2="108.22" stroke="#4a4444" stroke-width="0.75"/>
<line x1="452.04" y1="100.54" x2="454.04" y2="100.54" stroke="#4a4444" stroke-width="0.7"/>
<line x1="452.04" y1="108.22" x2="454.04" y2="108.22" stroke="#4a4444" stroke-width="0.7"/>
<rect x="450.54" y="101.84" width="5" height="5.61" fill="#3e87b4" stroke="#222" stroke-width="0.55"/>
<line x1="450.54" y1="104.77" x2="455.54" y2="104.77" stroke="#1a1a1a" stroke-width="0.6"/>
<line x1="453.04" y1="141.85" x2="453.04" y2="143.45" stroke="#555" stroke-width="0.7"/>
<text transform="translate(454.94,146.15) rotate(-90)" font-size="5.6" font-family="Liberation Serif, serif" fill="#333" text-anchor="end">Normal</text>
<line x1="461.09" y1="51.99" x2="461.09" y2="123.4" stroke="#4a4444" stroke-width="0.75"/>
<line x1="460.09" y1="51.99" x2="462.09" y2="51.99" stroke="#4a4444" stroke-width="0.7"/>
<line x1="460.09" y1="123.4" x2="462.09" y2="123.4" stroke="#4a4444" stroke-width="0.7"/>
<rect x="458.59" y="95.8" width="5" height="13.54" fill="#3e87b4" stroke="#222" stroke-width="0.55"/>
<line x1="458.59" y1="103.13" x2="463.59" y2="103.13" stroke="#1a1a1a" stroke-width="0.6"/>
<line x1="461.09" y1="141.85" x2="461.09" y2="143.45" stroke="#555" stroke-width="0.7"/>
<text transform="translate(462.99,146.15) rotate(-90)" font-size="5.6" font-family="Liberation Serif, serif" fill="#333" text-anchor="end">LGG</text>
<line x1="469.14" y1="62.34" x2="469.14" y2="114.43" stroke="#4a4444" stroke-width="0.75"/>
<line x1="468.14" y1="62.34" x2="470.14" y2="62.34" stroke="#4a4444" stroke-width="0.7"/>
<line x1="468.14" y1="114.43" x2="470.14" y2="114.43" stroke="#4a4444" stroke-width="0.7"/>
<rect x="466.64" y="77.78" width="5" height="16.56" fill="#3e87b4" stroke="#222" stroke-width="0.55"/>
<line x1="466.64" y1="85.28" x2="471.64" y2="85.28" stroke="#1a1a1a" stroke-width="0.6"/>
<line x1="469.14" y1="141.85" x2="469.14" y2="143.45" stroke="#555" stroke-width="0.7"/>
<text transform="translate(471.04,146.15) rotate(-90)" font-size="5.6" font-family="Liberation Serif, serif" fill="#333" text-anchor="end">GBM</text>
<text x="490.52" y="22.3" font-size="5.4" font-family="Liberation Serif, serif" font-weight="bold" fill="#3a3a3a" text-anchor="middle">CHI3L2</text>
<text x="491.12" y="30.6" font-size="7.4" font-family="Liberation Serif, serif" font-weight="bold" fill="#333" text-anchor="middle" letter-spacing="0.7">***</text>
<line x1="482.27" y1="101.41" x2="482.27" y2="124.43" stroke="#4a4444" stroke-width="0.75"/>
<line x1="481.27" y1="101.41" x2="483.27" y2="101.41" stroke="#4a4444" stroke-width="0.7"/>
<line x1="481.27" y1="124.43" x2="483.27" y2="124.43" stroke="#4a4444" stroke-width="0.7"/>
<rect x="479.77" y="104.25" width="5" height="13.97" fill="#3e87b4" stroke="#222" stroke-width="0.55"/>
<line x1="479.77" y1="108.74" x2="484.77" y2="108.74" stroke="#1a1a1a" stroke-width="0.6"/>
<line x1="482.27" y1="141.85" x2="482.27" y2="143.45" stroke="#555" stroke-width="0.7"/>
<text transform="translate(484.17,146.15) rotate(-90)" font-size="5.6" font-family="Liberation Serif, serif" fill="#333" text-anchor="end">Normal</text>
<line x1="490.32" y1="49.24" x2="490.32" y2="141.85" stroke="#4a4444" stroke-width="0.75"/>
<line x1="489.32" y1="49.24" x2="491.32" y2="49.24" stroke="#4a4444" stroke-width="0.7"/>
<line x1="489.32" y1="141.85" x2="491.32" y2="141.85" stroke="#4a4444" stroke-width="0.7"/>
<rect x="487.82" y="95.2" width="5" height="26.39" fill="#3e87b4" stroke="#222" stroke-width="0.55"/>
<line x1="487.82" y1="110.29" x2="492.82" y2="110.29" stroke="#1a1a1a" stroke-width="0.6"/>
<line x1="490.32" y1="141.85" x2="490.32" y2="143.45" stroke="#555" stroke-width="0.7"/>
<text transform="translate(492.22,146.15) rotate(-90)" font-size="5.6" font-family="Liberation Serif, serif" fill="#333" text-anchor="end">LGG</text>
<line x1="498.37" y1="37.51" x2="498.37" y2="116.5" stroke="#4a4444" stroke-width="0.75"/>
<line x1="497.37" y1="37.51" x2="499.37" y2="37.51" stroke="#4a4444" stroke-width="0.7"/>
<line x1="497.37" y1="116.5" x2="499.37" y2="116.5" stroke="#4a4444" stroke-width="0.7"/>
<rect x="495.87" y="66.48" width="5" height="22.16" fill="#3e87b4" stroke="#222" stroke-width="0.55"/>
<line x1="495.87" y1="79.24" x2="500.87" y2="79.24" stroke="#1a1a1a" stroke-width="0.6"/>
<line x1="498.37" y1="141.85" x2="498.37" y2="143.45" stroke="#555" stroke-width="0.7"/>
<text transform="translate(500.27,146.15) rotate(-90)" font-size="5.6" font-family="Liberation Serif, serif" fill="#333" text-anchor="end">GBM</text>
<text x="519.75" y="22.3" font-size="5.4" font-family="Liberation Serif, serif" font-weight="bold" fill="#3a3a3a" text-anchor="middle">MARCO</text>
<text x="520.35" y="30.6" font-size="7.4" font-family="Liberation Serif, serif" font-weight="bold" fill="#333" text-anchor="middle" letter-spacing="0.7">***</text>
<line x1="511.5" y1="112.7" x2="511.5" y2="140.99" stroke="#4a4444" stroke-width="0.75"/>
<line x1="510.5" y1="112.7" x2="512.5" y2="112.7" stroke="#4a4444" stroke-width="0.7"/>
<line x1="510.5" y1="140.99" x2="512.5" y2="140.99" stroke="#4a4444" stroke-width="0.7"/>
<rect x="509" y="120.55" width="5" height="18.45" fill="#3e87b4" stroke="#222" stroke-width="0.55"/>
<line x1="509" y1="133.23" x2="514" y2="133.23" stroke="#1a1a1a" stroke-width="0.6"/>
<line x1="511.5" y1="141.85" x2="511.5" y2="143.45" stroke="#555" stroke-width="0.7"/>
<text transform="translate(513.4,146.15) rotate(-90)" font-size="5.6" font-family="Liberation Serif, serif" fill="#333" text-anchor="end">Normal</text>
<line x1="519.55" y1="60.79" x2="519.55" y2="141.85" stroke="#4a4444" stroke-width="0.75"/>
<line x1="518.55" y1="60.79" x2="520.55" y2="60.79" stroke="#4a4444" stroke-width="0.7"/>
<line x1="518.55" y1="141.85" x2="520.55" y2="141.85" stroke="#4a4444" stroke-width="0.7"/>
<rect x="517.05" y="131.33" width="5" height="8.11" fill="#3e87b4" stroke="#222" stroke-width="0.55"/>
<line x1="517.05" y1="136.68" x2="522.05" y2="136.68" stroke="#1a1a1a" stroke-width="0.6"/>
<line x1="519.55" y1="141.85" x2="519.55" y2="143.45" stroke="#555" stroke-width="0.7"/>
<text transform="translate(521.45,146.15) rotate(-90)" font-size="5.6" font-family="Liberation Serif, serif" fill="#333" text-anchor="end">LGG</text>
<line x1="527.6" y1="75.11" x2="527.6" y2="141.85" stroke="#4a4444" stroke-width="0.75"/>
<line x1="526.6" y1="75.11" x2="528.6" y2="75.11" stroke="#4a4444" stroke-width="0.7"/>
<line x1="526.6" y1="141.85" x2="528.6" y2="141.85" stroke="#4a4444" stroke-width="0.7"/>
<rect x="525.1" y="110.29" width="5" height="23.46" fill="#3e87b4" stroke="#222" stroke-width="0.55"/>
<line x1="525.1" y1="126.24" x2="530.1" y2="126.24" stroke="#1a1a1a" stroke-width="0.6"/>
<line x1="527.6" y1="141.85" x2="527.6" y2="143.45" stroke="#555" stroke-width="0.7"/>
<text transform="translate(529.5,146.15) rotate(-90)" font-size="5.6" font-family="Liberation Serif, serif" fill="#333" text-anchor="end">GBM</text>
<text x="548.98" y="22.3" font-size="5.4" font-family="Liberation Serif, serif" font-weight="bold" fill="#3a3a3a" text-anchor="middle">AQP9</text>
<text x="549.58" y="30.6" font-size="7.4" font-family="Liberation Serif, serif" font-weight="bold" fill="#333" text-anchor="middle" letter-spacing="0.7">***</text>
<line x1="540.73" y1="116.24" x2="540.73" y2="130.38" stroke="#4a4444" stroke-width="0.75"/>
<line x1="539.73" y1="116.24" x2="541.73" y2="116.24" stroke="#4a4444" stroke-width="0.7"/>
<line x1="539.73" y1="130.38" x2="541.73" y2="130.38" stroke="#4a4444" stroke-width="0.7"/>
<rect x="538.23" y="120.21" width="5" height="8.54" fill="#3e87b4" stroke="#222" stroke-width="0.55"/>
<line x1="538.23" y1="125.29" x2="543.23" y2="125.29" stroke="#1a1a1a" stroke-width="0.6"/>
<line x1="540.73" y1="141.85" x2="540.73" y2="143.45" stroke="#555" stroke-width="0.7"/>
<text transform="translate(542.63,146.15) rotate(-90)" font-size="5.6" font-family="Liberation Serif, serif" fill="#333" text-anchor="end">Normal</text>
<line x1="548.78" y1="92.01" x2="548.78" y2="141.85" stroke="#4a4444" stroke-width="0.75"/>
<line x1="547.78" y1="92.01" x2="549.78" y2="92.01" stroke="#4a4444" stroke-width="0.7"/>
<line x1="547.78" y1="141.85" x2="549.78" y2="141.85" stroke="#4a4444" stroke-width="0.7"/>
<rect x="546.28" y="133.4" width="5" height="6.04" fill="#3e87b4" stroke="#222" stroke-width="0.55"/>
<line x1="546.28" y1="136.93" x2="551.28" y2="136.93" stroke="#1a1a1a" stroke-width="0.6"/>
<line x1="548.78" y1="141.85" x2="548.78" y2="143.45" stroke="#555" stroke-width="0.7"/>
<text transform="translate(550.68,146.15) rotate(-90)" font-size="5.6" font-family="Liberation Serif, serif" fill="#333" text-anchor="end">LGG</text>
<line x1="556.83" y1="78.9" x2="556.83" y2="141.85" stroke="#4a4444" stroke-width="0.75"/>
<line x1="555.83" y1="78.9" x2="557.83" y2="78.9" stroke="#4a4444" stroke-width="0.7"/>
<line x1="555.83" y1="141.85" x2="557.83" y2="141.85" stroke="#4a4444" stroke-width="0.7"/>
<rect x="554.33" y="114.08" width="5" height="15.35" fill="#3e87b4" stroke="#222" stroke-width="0.55"/>
<line x1="554.33" y1="121.59" x2="559.33" y2="121.59" stroke="#1a1a1a" stroke-width="0.6"/>
<line x1="556.83" y1="141.85" x2="556.83" y2="143.45" stroke="#555" stroke-width="0.7"/>
<text transform="translate(558.73,146.15) rotate(-90)" font-size="5.6" font-family="Liberation Serif, serif" fill="#333" text-anchor="end">GBM</text>
<text x="578.21" y="22.3" font-size="5.4" font-family="Liberation Serif, serif" font-weight="bold" fill="#3a3a3a" text-anchor="middle">LY96</text>
<text x="578.81" y="30.6" font-size="7.4" font-family="Liberation Serif, serif" font-weight="bold" fill="#333" text-anchor="middle" letter-spacing="0.7">***</text>
<line x1="569.96" y1="107.1" x2="569.96" y2="115.38" stroke="#4a4444" stroke-width="0.75"/>
<line x1="568.96" y1="107.1" x2="570.96" y2="107.1" stroke="#4a4444" stroke-width="0.7"/>
<line x1="568.96" y1="115.38" x2="570.96" y2="115.38" stroke="#4a4444" stroke-width="0.7"/>
<rect x="567.46" y="110.29" width="5" height="5.09" fill="#3e87b4" stroke="#222" stroke-width="0.55"/>
<line x1="567.46" y1="113.65" x2="572.46" y2="113.65" stroke="#1a1a1a" stroke-width="0.6"/>
<line x1="569.96" y1="141.85" x2="569.96" y2="143.45" stroke="#555" stroke-width="0.7"/>
<text transform="translate(571.86,146.15) rotate(-90)" font-size="5.6" font-family="Liberation Serif, serif" fill="#333" text-anchor="end">Normal</text>
<line x1="578.01" y1="75.11" x2="578.01" y2="128.14" stroke="#4a4444" stroke-width="0.75"/>
<line x1="577.01" y1="75.11" x2="579.01" y2="75.11" stroke="#4a4444" stroke-width="0.7"/>
<line x1="577.01" y1="128.14" x2="579.01" y2="128.14" stroke="#4a4444" stroke-width="0.7"/>
<rect x="575.51" y="100.37" width="5" height="13.11" fill="#3e87b4" stroke="#222" stroke-width="0.55"/>
<line x1="575.51" y1="107.44" x2="580.51" y2="107.44" stroke="#1a1a1a" stroke-width="0.6"/>
<line x1="578.01" y1="141.85" x2="578.01" y2="143.45" stroke="#555" stroke-width="0.7"/>
<text transform="translate(579.91,146.15) rotate(-90)" font-size="5.6" font-family="Liberation Serif, serif" fill="#333" text-anchor="end">LGG</text>
<line x1="586.06" y1="65.71" x2="586.06" y2="115.38" stroke="#4a4444" stroke-width="0.75"/>
<line x1="585.06" y1="65.71" x2="587.06" y2="65.71" stroke="#4a4444" stroke-width="0.7"/>
<line x1="585.06" y1="115.38" x2="587.06" y2="115.38" stroke="#4a4444" stroke-width="0.7"/>
<rect x="583.56" y="84.94" width="5" height="12.16" fill="#3e87b4" stroke="#222" stroke-width="0.55"/>
<line x1="583.56" y1="90.2" x2="588.56" y2="90.2" stroke="#1a1a1a" stroke-width="0.6"/>
<line x1="586.06" y1="141.85" x2="586.06" y2="143.45" stroke="#555" stroke-width="0.7"/>
<text transform="translate(587.96,146.15) rotate(-90)" font-size="5.6" font-family="Liberation Serif, serif" fill="#333" text-anchor="end">GBM</text>
<text x="607.44" y="22.3" font-size="5.4" font-family="Liberation Serif, serif" font-weight="bold" fill="#3a3a3a" text-anchor="middle">CCL18</text>
<text x="608.04" y="30.6" font-size="7.4" font-family="Liberation Serif, serif" font-weight="bold" fill="#333" text-anchor="middle" letter-spacing="0.7">***</text>
<line x1="599.19" y1="134.09" x2="599.19" y2="141.85" stroke="#4a4444" stroke-width="0.75"/>
<line x1="598.19" y1="134.09" x2="600.19" y2="134.09" stroke="#4a4444" stroke-width="0.7"/>
<line x1="598.19" y1="141.85" x2="600.19" y2="141.85" stroke="#4a4444" stroke-width="0.7"/>
<rect x="596.69" y="138.14" width="5" height="2.85" fill="#3e87b4" stroke="#222" stroke-width="0.55"/>
<line x1="596.69" y1="139.69" x2="601.69" y2="139.69" stroke="#1a1a1a" stroke-width="0.6"/>
<line x1="599.19" y1="141.85" x2="599.19" y2="143.45" stroke="#555" stroke-width="0.7"/>
<text transform="translate(601.09,146.15) rotate(-90)" font-size="5.6" font-family="Liberation Serif, serif" fill="#333" text-anchor="end">Normal</text>
<line x1="607.24" y1="69.24" x2="607.24" y2="141.85" stroke="#4a4444" stroke-width="0.75"/>
<line x1="606.24" y1="69.24" x2="608.24" y2="69.24" stroke="#4a4444" stroke-width="0.7"/>
<line x1="606.24" y1="141.85" x2="608.24" y2="141.85" stroke="#4a4444" stroke-width="0.7"/>
<rect x="604.74" y="137.54" width="5" height="3.45" fill="#3e87b4" stroke="#222" stroke-width="0.55"/>
<line x1="604.74" y1="139.26" x2="609.74" y2="139.26" stroke="#1a1a1a" stroke-width="0.6"/>
<line x1="607.24" y1="141.85" x2="607.24" y2="143.45" stroke="#555" stroke-width="0.7"/>
<text transform="translate(609.14,146.15) rotate(-90)" font-size="5.6" font-family="Liberation Serif, serif" fill="#333" text-anchor="end">LGG</text>
<line x1="615.29" y1="49.58" x2="615.29" y2="141.85" stroke="#4a4444" stroke-width="0.75"/>
<line x1="614.29" y1="49.58" x2="616.29" y2="49.58" stroke="#4a4444" stroke-width="0.7"/>
<line x1="614.29" y1="141.85" x2="616.29" y2="141.85" stroke="#4a4444" stroke-width="0.7"/>
<rect x="612.79" y="125.29" width="5" height="10.95" fill="#3e87b4" stroke="#222" stroke-width="0.55"/>
<line x1="612.79" y1="132.28" x2="617.79" y2="132.28" stroke="#1a1a1a" stroke-width="0.6"/>
<line x1="615.29" y1="141.85" x2="615.29" y2="143.45" stroke="#555" stroke-width="0.7"/>
<text transform="translate(617.19,146.15) rotate(-90)" font-size="5.6" font-family="Liberation Serif, serif" fill="#333" text-anchor="end">GBM</text>
<text x="636.67" y="22.3" font-size="5.4" font-family="Liberation Serif, serif" font-weight="bold" fill="#3a3a3a" text-anchor="middle">FAM8IB</text>
<text x="637.27" y="30.6" font-size="7.4" font-family="Liberation Serif, serif" font-weight="bold" fill="#333" text-anchor="middle" letter-spacing="0.7">***</text>
<line x1="628.42" y1="136.24" x2="628.42" y2="140.99" stroke="#4a4444" stroke-width="0.75"/>
<line x1="627.42" y1="136.24" x2="629.42" y2="136.24" stroke="#4a4444" stroke-width="0.7"/>
<line x1="627.42" y1="140.99" x2="629.42" y2="140.99" stroke="#4a4444" stroke-width="0.7"/>
<rect x="625.92" y="137.02" width="5" height="2.76" fill="#3e87b4" stroke="#222" stroke-width="0.55"/>
<line x1="625.92" y1="138.4" x2="630.92" y2="138.4" stroke="#1a1a1a" stroke-width="0.6"/>
<line x1="628.42" y1="141.85" x2="628.42" y2="143.45" stroke="#555" stroke-width="0.7"/>
<text transform="translate(630.32,146.15) rotate(-90)" font-size="5.6" font-family="Liberation Serif, serif" fill="#333" text-anchor="end">Normal</text>
<line x1="636.47" y1="77" x2="636.47" y2="141.85" stroke="#4a4444" stroke-width="0.75"/>
<line x1="635.47" y1="77" x2="637.47" y2="77" stroke="#4a4444" stroke-width="0.7"/>
<line x1="635.47" y1="141.85" x2="637.47" y2="141.85" stroke="#4a4444" stroke-width="0.7"/>
<rect x="633.97" y="138.14" width="5" height="2.59" fill="#3e87b4" stroke="#222" stroke-width="0.55"/>
<line x1="633.97" y1="139.26" x2="638.97" y2="139.26" stroke="#1a1a1a" stroke-width="0.6"/>
<line x1="636.47" y1="141.85" x2="636.47" y2="143.45" stroke="#555" stroke-width="0.7"/>
<text transform="translate(638.37,146.15) rotate(-90)" font-size="5.6" font-family="Liberation Serif, serif" fill="#333" text-anchor="end">LGG</text>
<line x1="644.52" y1="97.53" x2="644.52" y2="141.85" stroke="#4a4444" stroke-width="0.75"/>
<line x1="643.52" y1="97.53" x2="645.52" y2="97.53" stroke="#4a4444" stroke-width="0.7"/>
<line x1="643.52" y1="141.85" x2="645.52" y2="141.85" stroke="#4a4444" stroke-width="0.7"/>
<rect x="642.02" y="129.43" width="5" height="10.52" fill="#3e87b4" stroke="#222" stroke-width="0.55"/>
<line x1="642.02" y1="131.5" x2="647.02" y2="131.5" stroke="#1a1a1a" stroke-width="0.6"/>
<line x1="644.52" y1="141.85" x2="644.52" y2="143.45" stroke="#555" stroke-width="0.7"/>
<text transform="translate(646.42,146.15) rotate(-90)" font-size="5.6" font-family="Liberation Serif, serif" fill="#333" text-anchor="end">GBM</text>
<text x="665.9" y="22.3" font-size="5.4" font-family="Liberation Serif, serif" font-weight="bold" fill="#3a3a3a" text-anchor="middle">LOX</text>
<text x="666.5" y="30.6" font-size="7.4" font-family="Liberation Serif, serif" font-weight="bold" fill="#333" text-anchor="middle" letter-spacing="0.7">***</text>
<line x1="657.65" y1="128.74" x2="657.65" y2="131.07" stroke="#4a4444" stroke-width="0.75"/>
<line x1="656.65" y1="128.74" x2="658.65" y2="128.74" stroke="#4a4444" stroke-width="0.7"/>
<line x1="656.65" y1="131.07" x2="658.65" y2="131.07" stroke="#4a4444" stroke-width="0.7"/>
<rect x="655.15" y="129" width="5" height="1.9" fill="#3e87b4" stroke="#222" stroke-width="0.55"/>
<line x1="655.15" y1="129.95" x2="660.15" y2="129.95" stroke="#1a1a1a" stroke-width="0.6"/>
<line x1="657.65" y1="141.85" x2="657.65" y2="143.45" stroke="#555" stroke-width="0.7"/>
<text transform="translate(659.55,146.15) rotate(-90)" font-size="5.6" font-family="Liberation Serif, serif" fill="#333" text-anchor="end">Normal</text>
<line x1="665.7" y1="86.23" x2="665.7" y2="137.54" stroke="#4a4444" stroke-width="0.75"/>
<line x1="664.7" y1="86.23" x2="666.7" y2="86.23" stroke="#4a4444" stroke-width="0.7"/>
<line x1="664.7" y1="137.54" x2="666.7" y2="137.54" stroke="#4a4444" stroke-width="0.7"/>
<rect x="663.2" y="128.14" width="5" height="5.26" fill="#3e87b4" stroke="#222" stroke-width="0.55"/>
<line x1="663.2" y1="130.9" x2="668.2" y2="130.9" stroke="#1a1a1a" stroke-width="0.6"/>
<line x1="665.7" y1="141.85" x2="665.7" y2="143.45" stroke="#555" stroke-width="0.7"/>
<text transform="translate(667.6,146.15) rotate(-90)" font-size="5.6" font-family="Liberation Serif, serif" fill="#333" text-anchor="end">LGG</text>
<line x1="673.75" y1="71.14" x2="673.75" y2="130.38" stroke="#4a4444" stroke-width="0.75"/>
<line x1="672.75" y1="71.14" x2="674.75" y2="71.14" stroke="#4a4444" stroke-width="0.7"/>
<line x1="672.75" y1="130.38" x2="674.75" y2="130.38" stroke="#4a4444" stroke-width="0.7"/>
<rect x="671.25" y="96.15" width="5" height="15.61" fill="#3e87b4" stroke="#222" stroke-width="0.55"/>
<line x1="671.25" y1="104.68" x2="676.25" y2="104.68" stroke="#1a1a1a" stroke-width="0.6"/>
<line x1="673.75" y1="141.85" x2="673.75" y2="143.45" stroke="#555" stroke-width="0.7"/>
<text transform="translate(675.65,146.15) rotate(-90)" font-size="5.6" font-family="Liberation Serif, serif" fill="#333" text-anchor="end">GBM</text>
<line x1="184.9" y1="12.5" x2="678.7" y2="12.5" stroke="#3a3232" stroke-width="1.1"/>
<line x1="678.7" y1="12.5" x2="678.7" y2="141.85" stroke="#555" stroke-width="0.9"/>
<line x1="184.9" y1="141.85" x2="678.7" y2="141.85" stroke="#4a4444" stroke-width="1.1"/>
<line x1="184.9" y1="12.0" x2="184.9" y2="142.35" stroke="#9a9a9a" stroke-width="1.1"/>
<line x1="183.1" y1="141.85" x2="184.9" y2="141.85" stroke="#888" stroke-width="0.8"/>
<text x="182.3" y="143.65" font-size="5.2" font-family="Liberation Serif, serif" fill="#777" text-anchor="end">0</text>
<line x1="183.1" y1="98.73" x2="184.9" y2="98.73" stroke="#888" stroke-width="0.8"/>
<text x="182.3" y="100.53" font-size="5.2" font-family="Liberation Serif, serif" fill="#777" text-anchor="end">5</text>
<line x1="183.1" y1="55.62" x2="184.9" y2="55.62" stroke="#888" stroke-width="0.8"/>
<text x="182.3" y="57.42" font-size="5.2" font-family="Liberation Serif, serif" fill="#777" text-anchor="end">10</text>
<line x1="183.1" y1="12.5" x2="184.9" y2="12.5" stroke="#888" stroke-width="0.8"/>
<text x="182.3" y="14.3" font-size="5.2" font-family="Liberation Serif, serif" fill="#777" text-anchor="end">15</text>
</g>
<g font-family="Liberation Serif, serif"><line x1="36.5" y1="281.1" x2="36.5" y2="298.9" stroke="#e4e4e4" stroke-width="0.4"/>
<line x1="48.15" y1="281.1" x2="48.15" y2="298.9" stroke="#ececec" stroke-width="0.4"/>
<line x1="59.8" y1="281.1" x2="59.8" y2="298.9" stroke="#e4e4e4" stroke-width="0.4"/>
<line x1="71.45" y1="281.1" x2="71.45" y2="298.9" stroke="#ececec" stroke-width="0.4"/>
<line x1="83.1" y1="281.1" x2="83.1" y2="298.9" stroke="#e4e4e4" stroke-width="0.4"/>
<line x1="94.75" y1="281.1" x2="94.75" y2="298.9" stroke="#ececec" stroke-width="0.4"/>
<line x1="106.4" y1="281.1" x2="106.4" y2="298.9" stroke="#e4e4e4" stroke-width="0.4"/>
<line x1="118.05" y1="281.1" x2="118.05" y2="298.9" stroke="#ececec" stroke-width="0.4"/>
<line x1="129.7" y1="281.1" x2="129.7" y2="298.9" stroke="#e4e4e4" stroke-width="0.4"/>
<line x1="32.3" y1="285.6" x2="134.5" y2="285.6" stroke="#ececec" stroke-width="0.4"/>
<line x1="32.3" y1="293.9" x2="134.5" y2="293.9" stroke="#ececec" stroke-width="0.4"/>
<line x1="32.3" y1="179" x2="134.5" y2="179" stroke="#f2f2f2" stroke-width="0.8"/>
<line x1="32.3" y1="279.5" x2="134.5" y2="279.5" stroke="#e6e6e6" stroke-width="1.4"/>
<line x1="32.3" y1="179" x2="32.3" y2="279.5" stroke="#999" stroke-width="0.9"/>
<line x1="32.3" y1="281.1" x2="32.3" y2="298.9" stroke="#999" stroke-width="0.9"/>
<line x1="32.3" y1="298.9" x2="134.5" y2="298.9" stroke="#9a9a9a" stroke-width="0.9"/>
<line x1="31" y1="274.6" x2="32.3" y2="274.6" stroke="#666" stroke-width="0.5"/>
<text x="30.3" y="275.9" font-size="3.6" fill="#777" text-anchor="end" textLength="4.9" lengthAdjust="spacingAndGlyphs">0.00</text>
<line x1="31" y1="251.9" x2="32.3" y2="251.9" stroke="#666" stroke-width="0.5"/>
<text x="30.3" y="253.2" font-size="3.6" fill="#777" text-anchor="end" textLength="4.9" lengthAdjust="spacingAndGlyphs">0.25</text>
<line x1="31" y1="229.2" x2="32.3" y2="229.2" stroke="#666" stroke-width="0.5"/>
<text x="30.3" y="230.5" font-size="3.6" fill="#777" text-anchor="end" textLength="4.9" lengthAdjust="spacingAndGlyphs">0.50</text>
<line x1="31" y1="206.5" x2="32.3" y2="206.5" stroke="#666" stroke-width="0.5"/>
<text x="30.3" y="207.8" font-size="3.6" fill="#777" text-anchor="end" textLength="4.9" lengthAdjust="spacingAndGlyphs">0.75</text>
<line x1="31" y1="183.8" x2="32.3" y2="183.8" stroke="#666" stroke-width="0.5"/>
<text x="30.3" y="185.1" font-size="3.6" fill="#777" text-anchor="end" textLength="4.9" lengthAdjust="spacingAndGlyphs">1.00</text>
<line x1="36.5" y1="279.1" x2="36.5" y2="280.5" stroke="#666" stroke-width="0.5"/>
<line x1="36.5" y1="298.9" x2="36.5" y2="300.1" stroke="#555" stroke-width="0.6"/>
<text x="36.5" y="303.1" font-size="3.7" fill="#777" text-anchor="middle">0</text>
<line x1="59.8" y1="279.1" x2="59.8" y2="280.5" stroke="#666" stroke-width="0.5"/>
<line x1="59.8" y1="298.9" x2="59.8" y2="300.1" stroke="#555" stroke-width="0.6"/>
<text x="59.8" y="303.1" font-size="3.7" fill="#777" text-anchor="middle">2</text>
<line x1="83.1" y1="279.1" x2="83.1" y2="280.5" stroke="#666" stroke-width="0.5"/>
<line x1="83.1" y1="298.9" x2="83.1" y2="300.1" stroke="#555" stroke-width="0.6"/>
<text x="83.1" y="303.1" font-size="3.7" fill="#777" text-anchor="middle">4</text>
<line x1="106.4" y1="279.1" x2="106.4" y2="280.5" stroke="#666" stroke-width="0.5"/>
<line x1="106.4" y1="298.9" x2="106.4" y2="300.1" stroke="#555" stroke-width="0.6"/>
<text x="106.4" y="303.1" font-size="3.7" fill="#777" text-anchor="middle">6</text>
<line x1="129.7" y1="279.1" x2="129.7" y2="280.5" stroke="#666" stroke-width="0.5"/>
<line x1="129.7" y1="298.9" x2="129.7" y2="300.1" stroke="#555" stroke-width="0.6"/>
<text x="129.7" y="303.1" font-size="3.7" fill="#777" text-anchor="middle">8</text>
<text x="83" y="306.8" font-size="4.6" fill="#111" text-anchor="middle" textLength="20" lengthAdjust="spacingAndGlyphs">Time (years)</text>
<text transform="translate(6.3,229.2) rotate(-90)" font-size="3.6" fill="#3a3a3a" font-weight="bold" text-anchor="middle" textLength="43" lengthAdjust="spacingAndGlyphs">Overall survival probability</text>
<text x="30.3" y="286.9" font-size="3.8" fill="#8a8a8a" text-anchor="end" textLength="22" lengthAdjust="spacingAndGlyphs">group=High exp</text>
<text x="30.3" y="295.2" font-size="3.8" fill="#8a8a8a" text-anchor="end" textLength="21.7" lengthAdjust="spacingAndGlyphs">group=Low exp</text>
<line x1="31.1" y1="285.6" x2="32.3" y2="285.6" stroke="#666" stroke-width="0.5"/>
<line x1="31.1" y1="293.9" x2="32.3" y2="293.9" stroke="#666" stroke-width="0.5"/>
<text transform="translate(6,289.8) rotate(-90)" font-size="4.2" font-weight="bold" fill="#333" text-anchor="middle">SAA1</text>
<path d="M36.5 183.8H37.47V197.86H38.44V206.64H39.41V212.12H40.38V218.71H41.35V221.27H42.33V223.8H43.3V225.06H44.27V227.54H45.24V229.99H46.21V234.8H47.18V239.51H48.15V244.1H49.12V248.58H50.09V251.86H51.06V254.01H52.03V256.12H53V259.22H53.98V260.24H54.95V261.24H55.92V263.21H56.89V264.18H57.86V265.13H58.83V266.07H59.8V266.99H60.77V267.89H61.74V268.78H62.71V269.64H63.68V271.27H64.65V272.04H67.57V272.76H71.45V273.99H83.1" fill="none" stroke="#cf5f4e" stroke-width="0.75" stroke-dasharray="1.1 1.1" opacity="0.8"/>
<path d="M36.5 183.8H37.47V186.04H38.44V191.24H39.41V195.07H40.38V200.13H41.35V202.22H42.33V204.35H43.3V205.43H44.27V207.6H45.24V209.81H46.21V214.31H47.18V218.92H48.15V223.64H49.12V228.47H50.09V232.17H51.06V234.68H52.03V237.22H53V241.09H53.98V242.4H54.95V243.72H55.92V246.4H56.89V247.75H57.86V249.12H58.83V250.5H59.8V251.9H60.77V253.31H61.74V254.74H62.71V256.19H63.68V259.15H64.65V260.66H67.57V262.2H71.45V265.22H72.03" fill="none" stroke="#cf5f4e" stroke-width="0.75" stroke-dasharray="1.1 1.1" opacity="0.8"/>
<path d="M36.5 183.8H37.47V196.14H38.44V202.12H39.41V206.36H40.38V209.1H41.35V211.78H43.3V214.41H44.27V215.71H45.24V217.01H47.18V218.29H49.12V220.88H50.09V225.95H51.06V236.92H52.03V243.9H53V248.41H53.98V249.57H54.95V251.95H55.92V253.13H56.89V255.46H57.86V257.74H58.83V258.86H59.8V259.96H60.77V261.06H61.74V262.14H64.65V263.2H67.57V264.25H73.39V265.28H76.3V266.29H77.28V267.28H79.22V268.25H82.13V269.19H83.1V270.1H84.07V270.98H85.04V271.81H94.75V272.6H105.43V273.94H122.71" fill="none" stroke="#3479bf" stroke-width="0.75" stroke-dasharray="1.1 1.1" opacity="0.8"/>
<path d="M36.5 183.8H37.47V185.26H38.44V188.47H39.41V191.14H40.38V193H41.35V194.91H43.3V196.88H44.27V197.88H45.24V198.88H47.18V199.9H49.12V201.99H50.09V206.28H51.06V216.38H52.03V223.43H53V228.28H53.98V229.54H54.95V232.15H55.92V233.48H56.89V236.16H57.86V238.88H58.83V240.26H59.8V241.65H60.77V243.06H61.74V244.48H64.65V245.91H67.57V247.36H73.39V248.82H76.3V250.3H77.28V251.8H79.22V253.32H82.13V254.86H83.1V256.42H84.07V258.01H85.04V259.63H94.75V261.26H105.43V264.5H106.01" fill="none" stroke="#3479bf" stroke-width="0.75" stroke-dasharray="1.1 1.1" opacity="0.8"/>
<path d="M36.5 183.8H37.47V192.16H38.44V199.33H39.41V204.11H40.38V210.08H41.35V212.47H42.33V214.86H43.3V216.06H44.27V218.45H45.24V220.84H46.21V225.62H47.18V230.39H48.15V235.17H49.12V239.95H50.09V243.54H51.06V245.93H52.03V248.32H53V251.9H53.98V253.09H54.95V254.29H55.92V256.68H56.89V257.87H57.86V259.07H58.83V260.26H59.8V261.46H60.77V262.65H61.74V263.85H62.71V265.04H63.68V267.43H64.65V268.63H67.57V269.82H71.45V272.21H83.1" fill="none" stroke="#cf5f4e" stroke-width="1.15"/>
<line x1="83.1" y1="271.31" x2="83.1" y2="273.11" stroke="#cf5f4e" stroke-width="0.6"/>
<line x1="83.1" y1="271.21" x2="83.1" y2="273.21" stroke="#cf5f4e" stroke-width="0.7"/>
<path d="M36.5 183.8H37.47V190.88H38.44V195.59H39.41V199.13H40.38V201.49H41.35V203.85H43.3V206.21H44.27V207.38H45.24V208.56H47.18V209.74H49.12V212.14H50.09V216.95H51.06V227.76H52.03V234.97H53V239.77H53.98V241.01H54.95V243.6H55.92V244.89H56.89V247.47H57.86V250.06H58.83V251.35H59.8V252.64H60.77V253.93H61.74V255.22H64.65V256.51H67.57V257.81H73.39V259.1H76.3V260.39H77.28V261.68H79.22V262.97H82.13V264.27H83.1V265.56H84.07V266.85H85.04V268.14H94.75V269.43H105.43V272.02H122.71" fill="none" stroke="#3479bf" stroke-width="1.15"/>
<line x1="48.15" y1="208.84" x2="48.15" y2="210.64" stroke="#3479bf" stroke-width="0.6"/>
<line x1="53" y1="238.87" x2="53" y2="240.67" stroke="#3479bf" stroke-width="0.6"/>
<line x1="53.98" y1="240.11" x2="53.98" y2="241.91" stroke="#3479bf" stroke-width="0.6"/>
<line x1="122.71" y1="271.12" x2="122.71" y2="272.92" stroke="#3479bf" stroke-width="0.6"/>
<line x1="122.71" y1="271.02" x2="122.71" y2="273.02" stroke="#3479bf" stroke-width="0.7"/>
<line x1="36.5" y1="229.2" x2="52.03" y2="229.2" stroke="#777" stroke-width="0.7" stroke-dasharray="1.1 0.9"/>
<line x1="47.18" y1="229.2" x2="47.18" y2="274.6" stroke="#222" stroke-width="0.7" stroke-dasharray="1.1 0.9"/>
<line x1="52.03" y1="229.2" x2="52.03" y2="274.6" stroke="#222" stroke-width="0.7" stroke-dasharray="1.1 0.9"/>
<text x="69.8" y="186" font-size="3.9" fill="#333" stroke="#333" stroke-width="0.12" text-anchor="middle" textLength="27.5" lengthAdjust="spacingAndGlyphs">Log-rank P = 0.039</text>
<text x="69.8" y="190.7" font-size="3.9" fill="#333" stroke="#333" stroke-width="0.12" text-anchor="middle" textLength="27.5" lengthAdjust="spacingAndGlyphs">HR(High exp) = 1.48</text>
<text x="69.8" y="195.4" font-size="3.9" fill="#333" stroke="#333" stroke-width="0.12" text-anchor="middle" textLength="27.5" lengthAdjust="spacingAndGlyphs">95%CI: 1.03 - 2.14</text>
<text x="103" y="183.5" font-size="3.8" fill="#666">SAA1</text>
<line x1="103.5" y1="188.2" x2="109" y2="188.2" stroke="#cf5f4e" stroke-width="1.1"/>
<line x1="103.5" y1="193.8" x2="109" y2="193.8" stroke="#3479bf" stroke-width="1.1"/>
<text x="110.3" y="189.5" font-size="3.9" fill="#333" stroke="#333" stroke-width="0.1" textLength="22.2" lengthAdjust="spacingAndGlyphs">group=High exp</text>
<text x="110.3" y="195.1" font-size="3.9" fill="#333" stroke="#333" stroke-width="0.1" textLength="21.7" lengthAdjust="spacingAndGlyphs">group=Low exp</text>
<text x="36.2" y="275.8" font-size="3.8" fill="#d9453a" textLength="35" lengthAdjust="spacingAndGlyphs">Median time: 0.92 and 1.3</text>
<text x="36.5" y="286.9" font-size="3.7" fill="#444" text-anchor="middle">76</text>
<text x="59.8" y="286.9" font-size="3.7" fill="#444" text-anchor="middle">12</text>
<text x="83.1" y="286.9" font-size="3.7" fill="#444" text-anchor="middle">2</text>
<text x="106.4" y="286.9" font-size="3.7" fill="#444" text-anchor="middle">0</text>
<text x="129.7" y="286.9" font-size="3.7" fill="#444" text-anchor="middle">0</text>
<text x="36.5" y="295.2" font-size="3.7" fill="#444" text-anchor="middle">77</text>
<text x="59.8" y="295.2" font-size="3.7" fill="#444" text-anchor="middle">18</text>
<text x="83.1" y="295.2" font-size="3.7" fill="#444" text-anchor="middle">8</text>
<text x="106.4" y="295.2" font-size="3.7" fill="#444" text-anchor="middle">2</text>
<text x="129.7" y="295.2" font-size="3.7" fill="#444" text-anchor="middle">0</text></g><g font-family="Liberation Serif, serif"><line x1="175.3" y1="281.1" x2="175.3" y2="298.9" stroke="#e4e4e4" stroke-width="0.4"/>
<line x1="186.95" y1="281.1" x2="186.95" y2="298.9" stroke="#ececec" stroke-width="0.4"/>
<line x1="198.6" y1="281.1" x2="198.6" y2="298.9" stroke="#e4e4e4" stroke-width="0.4"/>
<line x1="210.25" y1="281.1" x2="210.25" y2="298.9" stroke="#ececec" stroke-width="0.4"/>
<line x1="221.9" y1="281.1" x2="221.9" y2="298.9" stroke="#e4e4e4" stroke-width="0.4"/>
<line x1="233.55" y1="281.1" x2="233.55" y2="298.9" stroke="#ececec" stroke-width="0.4"/>
<line x1="245.2" y1="281.1" x2="245.2" y2="298.9" stroke="#e4e4e4" stroke-width="0.4"/>
<line x1="256.85" y1="281.1" x2="256.85" y2="298.9" stroke="#ececec" stroke-width="0.4"/>
<line x1="268.5" y1="281.1" x2="268.5" y2="298.9" stroke="#e4e4e4" stroke-width="0.4"/>
<line x1="170.5" y1="285.6" x2="273.3" y2="285.6" stroke="#ececec" stroke-width="0.4"/>
<line x1="170.5" y1="293.9" x2="273.3" y2="293.9" stroke="#ececec" stroke-width="0.4"/>
<line x1="170.5" y1="179" x2="273.3" y2="179" stroke="#f2f2f2" stroke-width="0.8"/>
<line x1="170.5" y1="279.5" x2="273.3" y2="279.5" stroke="#e6e6e6" stroke-width="1.4"/>
<line x1="170.5" y1="179" x2="170.5" y2="279.5" stroke="#999" stroke-width="0.9"/>
<line x1="170.5" y1="281.1" x2="170.5" y2="298.9" stroke="#999" stroke-width="0.9"/>
<line x1="170.5" y1="298.9" x2="273.3" y2="298.9" stroke="#9a9a9a" stroke-width="0.9"/>
<line x1="169.2" y1="274.6" x2="170.5" y2="274.6" stroke="#666" stroke-width="0.5"/>
<text x="168.5" y="275.9" font-size="3.6" fill="#777" text-anchor="end" textLength="4.9" lengthAdjust="spacingAndGlyphs">0.00</text>
<line x1="169.2" y1="251.9" x2="170.5" y2="251.9" stroke="#666" stroke-width="0.5"/>
<text x="168.5" y="253.2" font-size="3.6" fill="#777" text-anchor="end" textLength="4.9" lengthAdjust="spacingAndGlyphs">0.25</text>
<line x1="169.2" y1="229.2" x2="170.5" y2="229.2" stroke="#666" stroke-width="0.5"/>
<text x="168.5" y="230.5" font-size="3.6" fill="#777" text-anchor="end" textLength="4.9" lengthAdjust="spacingAndGlyphs">0.50</text>
<line x1="169.2" y1="206.5" x2="170.5" y2="206.5" stroke="#666" stroke-width="0.5"/>
<text x="168.5" y="207.8" font-size="3.6" fill="#777" text-anchor="end" textLength="4.9" lengthAdjust="spacingAndGlyphs">0.75</text>
<line x1="169.2" y1="183.8" x2="170.5" y2="183.8" stroke="#666" stroke-width="0.5"/>
<text x="168.5" y="185.1" font-size="3.6" fill="#777" text-anchor="end" textLength="4.9" lengthAdjust="spacingAndGlyphs">1.00</text>
<line x1="175.3" y1="279.1" x2="175.3" y2="280.5" stroke="#666" stroke-width="0.5"/>
<line x1="175.3" y1="298.9" x2="175.3" y2="300.1" stroke="#555" stroke-width="0.6"/>
<text x="175.3" y="303.1" font-size="3.7" fill="#777" text-anchor="middle">0</text>
<line x1="198.6" y1="279.1" x2="198.6" y2="280.5" stroke="#666" stroke-width="0.5"/>
<line x1="198.6" y1="298.9" x2="198.6" y2="300.1" stroke="#555" stroke-width="0.6"/>
<text x="198.6" y="303.1" font-size="3.7" fill="#777" text-anchor="middle">2</text>
<line x1="221.9" y1="279.1" x2="221.9" y2="280.5" stroke="#666" stroke-width="0.5"/>
<line x1="221.9" y1="298.9" x2="221.9" y2="300.1" stroke="#555" stroke-width="0.6"/>
<text x="221.9" y="303.1" font-size="3.7" fill="#777" text-anchor="middle">4</text>
<line x1="245.2" y1="279.1" x2="245.2" y2="280.5" stroke="#666" stroke-width="0.5"/>
<line x1="245.2" y1="298.9" x2="245.2" y2="300.1" stroke="#555" stroke-width="0.6"/>
<text x="245.2" y="303.1" font-size="3.7" fill="#777" text-anchor="middle">6</text>
<line x1="268.5" y1="279.1" x2="268.5" y2="280.5" stroke="#666" stroke-width="0.5"/>
<line x1="268.5" y1="298.9" x2="268.5" y2="300.1" stroke="#555" stroke-width="0.6"/>
<text x="268.5" y="303.1" font-size="3.7" fill="#777" text-anchor="middle">8</text>
<text x="221.8" y="306.8" font-size="4.6" fill="#111" text-anchor="middle" textLength="20" lengthAdjust="spacingAndGlyphs">Time (years)</text>
<text transform="translate(144.5,229.2) rotate(-90)" font-size="3.6" fill="#3a3a3a" font-weight="bold" text-anchor="middle" textLength="43" lengthAdjust="spacingAndGlyphs">Overall survival probability</text>
<text x="168.5" y="286.9" font-size="3.8" fill="#8a8a8a" text-anchor="end" textLength="22" lengthAdjust="spacingAndGlyphs">group=High exp</text>
<text x="168.5" y="295.2" font-size="3.8" fill="#8a8a8a" text-anchor="end" textLength="21.7" lengthAdjust="spacingAndGlyphs">group=Low exp</text>
<line x1="169.3" y1="285.6" x2="170.5" y2="285.6" stroke="#666" stroke-width="0.5"/>
<line x1="169.3" y1="293.9" x2="170.5" y2="293.9" stroke="#666" stroke-width="0.5"/>
<text transform="translate(144.2,289.8) rotate(-90)" font-size="4.2" font-weight="bold" fill="#333" text-anchor="middle">NPY2R</text>
<path d="M175.3 183.8H176.27V194.69H177.24V199.39H178.21V205.23H179.18V209.41H180.15V213.46H181.12V216.11H182.1V221.38H183.07V225.24H184.04V229.02H185.01V233.96H185.98V238.77H186.95V244.62H187.92V251.4H188.89V255.75H189.86V257.87H190.83V259.95H191.8V261.99H192.78V264.95H194.72V265.9H195.69V266.84H199.57V267.88H201.51V268.88H207.34V269.85H209.28V270.78H211.22V271.67H213.16V272.5H214.13V273.25H215.1V273.91H223.41" fill="none" stroke="#cf5f4e" stroke-width="0.75" stroke-dasharray="1.1 1.1" opacity="0.8"/>
<path d="M175.3 183.8H176.27V184.56H177.24V186.85H178.21V190.32H179.18V193.13H180.15V196.06H181.12V198.07H182.1V202.28H183.07V205.53H184.04V208.85H185.01V213.4H185.98V218.06H186.95V224.05H187.92V231.49H188.89V236.61H189.86V239.22H190.83V241.87H191.8V244.56H192.78V248.69H194.72V250.1H195.69V251.51H199.57V253.02H201.51V254.56H207.34V256.12H209.28V257.7H211.22V259.32H213.16V260.97H214.13V262.63H215.1V264.23H215.69" fill="none" stroke="#cf5f4e" stroke-width="0.75" stroke-dasharray="1.1 1.1" opacity="0.8"/>
<path d="M175.3 183.8H176.27V194.55H177.24V200.67H178.21V204.96H179.18V207.73H180.15V210.44H181.12V211.78H182.1V214.41H183.07V215.71H184.04V217.01H185.01V218.29H186.95V219.56H187.92V225.8H188.89V233.03H189.86V236.55H190.83V242.45H191.8V249.29H192.78V252.61H193.75V253.69H195.69V254.77H196.66V255.84H198.6V257.96H199.57V260.03H200.54V261.05H201.51V263.05H202.48V264.03H203.45V265.95H205.4V266.88H208.31V267.8H209.28V268.7H220.93V269.57H221.9V272.73H222.87V273.4H224.81V273.98H261.51" fill="none" stroke="#3479bf" stroke-width="0.75" stroke-dasharray="1.1 1.1" opacity="0.8"/>
<path d="M175.3 183.8H176.27V184.55H177.24V187.62H178.21V190.23H179.18V192.06H180.15V193.95H181.12V194.91H182.1V196.88H183.07V197.88H184.04V198.88H185.01V199.9H186.95V200.93H187.92V206.19H188.89V212.75H189.86V216.13H190.83V222H191.8V229.28H192.78V233.03H193.75V234.3H195.69V235.57H196.66V236.85H198.6V239.45H199.57V242.08H200.54V243.41H201.51V246.11H202.48V247.48H203.45V250.25H205.4V251.66H208.31V253.08H209.28V254.53H220.93V255.99H221.9V262.05H222.87V263.61H224.81V265.11H225.4" fill="none" stroke="#3479bf" stroke-width="0.75" stroke-dasharray="1.1 1.1" opacity="0.8"/>
<path d="M175.3 183.8H176.27V189.77H177.24V193.36H178.21V198.14H179.18V201.72H180.15V205.31H181.12V207.69H182.1V212.56H183.07V216.21H184.04V219.86H185.01V224.73H185.98V229.59H186.95V235.67H187.92V242.97H188.89V247.84H189.86V250.27H190.83V252.7H191.8V255.14H192.78V258.79H194.72V260H195.69V261.22H199.57V262.56H201.51V263.9H207.34V265.23H209.28V266.57H211.22V267.91H213.16V269.25H214.13V270.59H215.1V271.92H223.41" fill="none" stroke="#cf5f4e" stroke-width="1.15"/>
<line x1="181.12" y1="206.79" x2="181.12" y2="208.59" stroke="#cf5f4e" stroke-width="0.6"/>
<line x1="197.63" y1="260.32" x2="197.63" y2="262.12" stroke="#cf5f4e" stroke-width="0.6"/>
<line x1="223.41" y1="271.02" x2="223.41" y2="272.82" stroke="#cf5f4e" stroke-width="0.6"/>
<line x1="223.41" y1="270.92" x2="223.41" y2="272.92" stroke="#cf5f4e" stroke-width="0.7"/>
<path d="M175.3 183.8H176.27V189.7H177.24V194.41H178.21V197.95H179.18V200.31H180.15V202.67H181.12V203.85H182.1V206.21H183.07V207.38H184.04V208.56H185.01V209.74H186.95V210.92H187.92V216.82H188.89V223.89H189.86V227.43H190.83V233.48H191.8V240.74H192.78V244.36H193.75V245.57H195.69V246.78H196.66V247.99H198.6V250.41H199.57V252.83H200.54V254.04H201.51V256.46H202.48V257.67H203.45V260.09H205.4V261.3H208.31V262.51H209.28V263.71H220.93V264.92H221.9V269.76H222.87V270.97H224.81V272.18H261.51" fill="none" stroke="#3479bf" stroke-width="1.15"/>
<line x1="189.86" y1="226.53" x2="189.86" y2="228.33" stroke="#3479bf" stroke-width="0.6"/>
<line x1="261.51" y1="271.28" x2="261.51" y2="273.08" stroke="#3479bf" stroke-width="0.6"/>
<line x1="261.51" y1="271.18" x2="261.51" y2="273.18" stroke="#3479bf" stroke-width="0.7"/>
<line x1="243.45" y1="271.08" x2="243.45" y2="273.28" stroke="#cf5f4e" stroke-width="0.8"/>
<line x1="175.3" y1="229.2" x2="190.83" y2="229.2" stroke="#777" stroke-width="0.7" stroke-dasharray="1.1 0.9"/>
<line x1="185.98" y1="229.2" x2="185.98" y2="274.6" stroke="#222" stroke-width="0.7" stroke-dasharray="1.1 0.9"/>
<line x1="190.83" y1="229.2" x2="190.83" y2="274.6" stroke="#222" stroke-width="0.7" stroke-dasharray="1.1 0.9"/>
<text x="208.6" y="186" font-size="3.9" fill="#333" stroke="#333" stroke-width="0.12" text-anchor="middle" textLength="27.5" lengthAdjust="spacingAndGlyphs">Log-rank P = 0.029</text>
<text x="208.6" y="190.7" font-size="3.9" fill="#333" stroke="#333" stroke-width="0.12" text-anchor="middle" textLength="27.5" lengthAdjust="spacingAndGlyphs">HR(High exp) = 1.49</text>
<text x="208.6" y="195.4" font-size="3.9" fill="#333" stroke="#333" stroke-width="0.12" text-anchor="middle" textLength="27.5" lengthAdjust="spacingAndGlyphs">95%CI: 1.04 - 2.13</text>
<text x="241.8" y="183.5" font-size="3.8" fill="#666">NPY2R</text>
<line x1="242.3" y1="188.2" x2="247.8" y2="188.2" stroke="#cf5f4e" stroke-width="1.1"/>
<line x1="242.3" y1="193.8" x2="247.8" y2="193.8" stroke="#3479bf" stroke-width="1.1"/>
<text x="249.1" y="189.5" font-size="3.9" fill="#333" stroke="#333" stroke-width="0.1" textLength="22.2" lengthAdjust="spacingAndGlyphs">group=High exp</text>
<text x="249.1" y="195.1" font-size="3.9" fill="#333" stroke="#333" stroke-width="0.1" textLength="21.7" lengthAdjust="spacingAndGlyphs">group=Low exp</text>
<text x="175" y="275.8" font-size="3.8" fill="#d9453a" textLength="35" lengthAdjust="spacingAndGlyphs">Median time: 0.92 and 1.3</text>
<text x="175.3" y="286.9" font-size="3.7" fill="#444" text-anchor="middle">76</text>
<text x="198.6" y="286.9" font-size="3.7" fill="#444" text-anchor="middle">10</text>
<text x="221.9" y="286.9" font-size="3.7" fill="#444" text-anchor="middle">2</text>
<text x="245.2" y="286.9" font-size="3.7" fill="#444" text-anchor="middle">0</text>
<text x="268.5" y="286.9" font-size="3.7" fill="#444" text-anchor="middle">0</text>
<text x="175.3" y="295.2" font-size="3.7" fill="#444" text-anchor="middle">77</text>
<text x="198.6" y="295.2" font-size="3.7" fill="#444" text-anchor="middle">22</text>
<text x="221.9" y="295.2" font-size="3.7" fill="#444" text-anchor="middle">8</text>
<text x="245.2" y="295.2" font-size="3.7" fill="#444" text-anchor="middle">2</text>
<text x="268.5" y="295.2" font-size="3.7" fill="#444" text-anchor="middle">0</text></g><g font-family="Liberation Serif, serif"><line x1="310.3" y1="281.1" x2="310.3" y2="298.9" stroke="#e4e4e4" stroke-width="0.4"/>
<line x1="321.95" y1="281.1" x2="321.95" y2="298.9" stroke="#ececec" stroke-width="0.4"/>
<line x1="333.6" y1="281.1" x2="333.6" y2="298.9" stroke="#e4e4e4" stroke-width="0.4"/>
<line x1="345.25" y1="281.1" x2="345.25" y2="298.9" stroke="#ececec" stroke-width="0.4"/>
<line x1="356.9" y1="281.1" x2="356.9" y2="298.9" stroke="#e4e4e4" stroke-width="0.4"/>
<line x1="368.55" y1="281.1" x2="368.55" y2="298.9" stroke="#ececec" stroke-width="0.4"/>
<line x1="380.2" y1="281.1" x2="380.2" y2="298.9" stroke="#e4e4e4" stroke-width="0.4"/>
<line x1="391.85" y1="281.1" x2="391.85" y2="298.9" stroke="#ececec" stroke-width="0.4"/>
<line x1="403.5" y1="281.1" x2="403.5" y2="298.9" stroke="#e4e4e4" stroke-width="0.4"/>
<line x1="305.5" y1="285.6" x2="408.3" y2="285.6" stroke="#ececec" stroke-width="0.4"/>
<line x1="305.5" y1="293.9" x2="408.3" y2="293.9" stroke="#ececec" stroke-width="0.4"/>
<line x1="305.5" y1="179" x2="408.3" y2="179" stroke="#f2f2f2" stroke-width="0.8"/>
<line x1="305.5" y1="279.5" x2="408.3" y2="279.5" stroke="#e6e6e6" stroke-width="1.4"/>
<line x1="305.5" y1="179" x2="305.5" y2="279.5" stroke="#999" stroke-width="0.9"/>
<line x1="305.5" y1="281.1" x2="305.5" y2="298.9" stroke="#999" stroke-width="0.9"/>
<line x1="305.5" y1="298.9" x2="408.3" y2="298.9" stroke="#9a9a9a" stroke-width="0.9"/>
<line x1="304.2" y1="274.6" x2="305.5" y2="274.6" stroke="#666" stroke-width="0.5"/>
<text x="303.5" y="275.9" font-size="3.6" fill="#777" text-anchor="end" textLength="4.9" lengthAdjust="spacingAndGlyphs">0.00</text>
<line x1="304.2" y1="251.9" x2="305.5" y2="251.9" stroke="#666" stroke-width="0.5"/>
<text x="303.5" y="253.2" font-size="3.6" fill="#777" text-anchor="end" textLength="4.9" lengthAdjust="spacingAndGlyphs">0.25</text>
<line x1="304.2" y1="229.2" x2="305.5" y2="229.2" stroke="#666" stroke-width="0.5"/>
<text x="303.5" y="230.5" font-size="3.6" fill="#777" text-anchor="end" textLength="4.9" lengthAdjust="spacingAndGlyphs">0.50</text>
<line x1="304.2" y1="206.5" x2="305.5" y2="206.5" stroke="#666" stroke-width="0.5"/>
<text x="303.5" y="207.8" font-size="3.6" fill="#777" text-anchor="end" textLength="4.9" lengthAdjust="spacingAndGlyphs">0.75</text>
<line x1="304.2" y1="183.8" x2="305.5" y2="183.8" stroke="#666" stroke-width="0.5"/>
<text x="303.5" y="185.1" font-size="3.6" fill="#777" text-anchor="end" textLength="4.9" lengthAdjust="spacingAndGlyphs">1.00</text>
<line x1="310.3" y1="279.1" x2="310.3" y2="280.5" stroke="#666" stroke-width="0.5"/>
<line x1="310.3" y1="298.9" x2="310.3" y2="300.1" stroke="#555" stroke-width="0.6"/>
<text x="310.3" y="303.1" font-size="3.7" fill="#777" text-anchor="middle">0</text>
<line x1="333.6" y1="279.1" x2="333.6" y2="280.5" stroke="#666" stroke-width="0.5"/>
<line x1="333.6" y1="298.9" x2="333.6" y2="300.1" stroke="#555" stroke-width="0.6"/>
<text x="333.6" y="303.1" font-size="3.7" fill="#777" text-anchor="middle">2</text>
<line x1="356.9" y1="279.1" x2="356.9" y2="280.5" stroke="#666" stroke-width="0.5"/>
<line x1="356.9" y1="298.9" x2="356.9" y2="300.1" stroke="#555" stroke-width="0.6"/>
<text x="356.9" y="303.1" font-size="3.7" fill="#777" text-anchor="middle">4</text>
<line x1="380.2" y1="279.1" x2="380.2" y2="280.5" stroke="#666" stroke-width="0.5"/>
<line x1="380.2" y1="298.9" x2="380.2" y2="300.1" stroke="#555" stroke-width="0.6"/>
<text x="380.2" y="303.1" font-size="3.7" fill="#777" text-anchor="middle">6</text>
<line x1="403.5" y1="279.1" x2="403.5" y2="280.5" stroke="#666" stroke-width="0.5"/>
<line x1="403.5" y1="298.9" x2="403.5" y2="300.1" stroke="#555" stroke-width="0.6"/>
<text x="403.5" y="303.1" font-size="3.7" fill="#777" text-anchor="middle">8</text>
<text x="356.8" y="306.8" font-size="4.6" fill="#111" text-anchor="middle" textLength="20" lengthAdjust="spacingAndGlyphs">Time (years)</text>
<text transform="translate(279.5,229.2) rotate(-90)" font-size="3.6" fill="#3a3a3a" font-weight="bold" text-anchor="middle" textLength="43" lengthAdjust="spacingAndGlyphs">Overall survival probability</text>
<text x="303.5" y="286.9" font-size="3.8" fill="#8a8a8a" text-anchor="end" textLength="22" lengthAdjust="spacingAndGlyphs">group=High exp</text>
<text x="303.5" y="295.2" font-size="3.8" fill="#8a8a8a" text-anchor="end" textLength="21.7" lengthAdjust="spacingAndGlyphs">group=Low exp</text>
<line x1="304.3" y1="285.6" x2="305.5" y2="285.6" stroke="#666" stroke-width="0.5"/>
<line x1="304.3" y1="293.9" x2="305.5" y2="293.9" stroke="#666" stroke-width="0.5"/>
<text transform="translate(279.2,289.8) rotate(-90)" font-size="4.2" font-weight="bold" fill="#333" text-anchor="middle">CCL2</text>
<path d="M310.3 183.8H311.27V196.3H312.24V200.88H313.21V206.64H314.18V213.46H315.15V216.11H316.12V220H317.1V221.27H318.07V223.8H319.04V226.3H320.01V228.77H320.98V232.41H321.95V237.17H322.92V241.82H323.89V246.35H324.86V249.68H325.83V251.86H326.8V254.11H327.78V256.32H328.75V258.48H329.72V260.61H330.69V262.68H331.66V264.69H332.63V265.68H333.6V267.59H334.57V269.42H335.54V271.13H336.51V271.93H337.48V273.37H338.45V273.97H339.43V274.42H339.43" fill="none" stroke="#cf5f4e" stroke-width="0.75" stroke-dasharray="1.1 1.1" opacity="0.8"/>
<path d="M310.3 183.8H311.27V185.28H312.24V187.68H313.21V191.24H314.18V196.06H315.15V198.07H316.12V201.17H317.1V202.22H318.07V204.35H319.04V206.51H320.01V208.7H320.98V212.04H321.95V216.6H322.92V221.26H323.89V226.04H324.86V229.7H325.83V232.17H326.8V234.75H327.78V237.36H328.75V240.02H329.72V242.72H330.69V245.46H331.66V248.26H332.63V249.68H333.6V252.57H334.57V255.54H335.54V258.59H336.51V260.16H337.48V263.33H338.45V264.87H339.43V265.91H340.01" fill="none" stroke="#cf5f4e" stroke-width="0.75" stroke-dasharray="1.1 1.1" opacity="0.8"/>
<path d="M310.3 183.8H311.27V197.68H312.24V202.12H313.21V209.1H314.18V210.44H315.15V213.1H317.1V214.41H318.07V215.71H319.04V217.01H320.01V218.29H320.98V219.56H321.95V222.08H322.92V227.02H323.89V234.38H324.86V243.79H325.83V248.48H326.8V250.78H327.78V251.91H329.72V254.26H331.66V255.42H332.63V256.57H333.6V257.7H337.48V258.83H338.45V259.94H344.28V264.23H345.25V265.26H349.13V266.28H351.07V267.27H353.99V268.24H355.93V269.18H356.9V270.09H357.87V271.81H358.84V272.59H359.81V273.31H379.23V273.94H396.51" fill="none" stroke="#3479bf" stroke-width="0.75" stroke-dasharray="1.1 1.1" opacity="0.8"/>
<path d="M310.3 183.8H311.27V186.01H312.24V188.47H313.21V193H314.18V193.95H315.15V195.89H317.1V196.88H318.07V197.88H319.04V198.88H320.01V199.9H320.98V200.93H321.95V203.01H322.92V207.27H323.89V213.98H324.86V223.33H325.83V228.3H326.8V230.83H327.78V232.11H329.72V234.77H331.66V236.11H332.63V237.47H333.6V238.84H337.48V240.22H338.45V241.61H344.28V247.32H345.25V248.79H349.13V250.27H351.07V251.77H353.99V253.29H355.93V254.84H356.9V256.4H357.87V259.61H358.84V261.25H359.81V262.89H379.23V264.48H379.81" fill="none" stroke="#3479bf" stroke-width="0.75" stroke-dasharray="1.1 1.1" opacity="0.8"/>
<path d="M310.3 183.8H311.27V190.97H312.24V194.55H313.21V199.33H314.18V205.31H315.15V207.69H316.12V211.28H317.1V212.47H318.07V214.86H319.04V217.25H320.01V219.64H320.98V223.23H321.95V228.01H322.92V232.78H323.89V237.56H324.86V241.15H325.83V243.54H326.8V246.02H327.78V248.51H328.75V250.99H329.72V253.48H330.69V255.96H331.66V258.45H332.63V259.69H333.6V262.17H334.57V264.66H335.54V267.14H336.51V268.39H337.48V270.87H338.45V272.11H339.43V273.36H339.43" fill="none" stroke="#cf5f4e" stroke-width="1.15"/>
<line x1="325.83" y1="242.64" x2="325.83" y2="244.44" stroke="#cf5f4e" stroke-width="0.6"/>
<line x1="339.43" y1="272.46" x2="339.43" y2="274.26" stroke="#cf5f4e" stroke-width="0.6"/>
<line x1="339.43" y1="272.36" x2="339.43" y2="274.36" stroke="#cf5f4e" stroke-width="0.7"/>
<path d="M310.3 183.8H311.27V192.05H312.24V195.59H313.21V201.49H314.18V202.67H315.15V205.03H317.1V206.21H318.07V207.38H319.04V208.56H320.01V209.74H320.98V210.92H321.95V213.28H322.92V218H323.89V225.22H324.86V234.86H325.83V239.83H326.8V242.31H327.78V243.55H329.72V246.14H331.66V247.43H332.63V248.73H333.6V250.02H337.48V251.31H338.45V252.61H344.28V257.78H345.25V259.08H349.13V260.37H351.07V261.66H353.99V262.96H355.93V264.25H356.9V265.54H357.87V268.13H358.84V269.43H359.81V270.72H379.23V272.01H396.51" fill="none" stroke="#3479bf" stroke-width="1.15"/>
<line x1="322.92" y1="217.1" x2="322.92" y2="218.9" stroke="#3479bf" stroke-width="0.6"/>
<line x1="324.86" y1="233.96" x2="324.86" y2="235.76" stroke="#3479bf" stroke-width="0.6"/>
<line x1="327.78" y1="242.65" x2="327.78" y2="244.45" stroke="#3479bf" stroke-width="0.6"/>
<line x1="396.51" y1="271.11" x2="396.51" y2="272.91" stroke="#3479bf" stroke-width="0.6"/>
<line x1="396.51" y1="271.01" x2="396.51" y2="273.01" stroke="#3479bf" stroke-width="0.7"/>
<line x1="310.3" y1="229.2" x2="324.86" y2="229.2" stroke="#777" stroke-width="0.7" stroke-dasharray="1.1 0.9"/>
<line x1="322.92" y1="229.2" x2="322.92" y2="274.6" stroke="#222" stroke-width="0.7" stroke-dasharray="1.1 0.9"/>
<line x1="324.86" y1="229.2" x2="324.86" y2="274.6" stroke="#222" stroke-width="0.7" stroke-dasharray="1.1 0.9"/>
<text x="343.6" y="186" font-size="3.9" fill="#333" stroke="#333" stroke-width="0.12" text-anchor="middle" textLength="27.5" lengthAdjust="spacingAndGlyphs">Log-rank P = 0.016</text>
<text x="343.6" y="190.7" font-size="3.9" fill="#333" stroke="#333" stroke-width="0.12" text-anchor="middle" textLength="27.5" lengthAdjust="spacingAndGlyphs">HR(High exp) = 1.58</text>
<text x="343.6" y="195.4" font-size="3.9" fill="#333" stroke="#333" stroke-width="0.12" text-anchor="middle" textLength="27.5" lengthAdjust="spacingAndGlyphs">95%CI: 1.08 - 2.30</text>
<text x="376.8" y="183.5" font-size="3.8" fill="#666">CCL2</text>
<line x1="377.3" y1="188.2" x2="382.8" y2="188.2" stroke="#cf5f4e" stroke-width="1.1"/>
<line x1="377.3" y1="193.8" x2="382.8" y2="193.8" stroke="#3479bf" stroke-width="1.1"/>
<text x="384.1" y="189.5" font-size="3.9" fill="#333" stroke="#333" stroke-width="0.1" textLength="22.2" lengthAdjust="spacingAndGlyphs">group=High exp</text>
<text x="384.1" y="195.1" font-size="3.9" fill="#333" stroke="#333" stroke-width="0.1" textLength="21.7" lengthAdjust="spacingAndGlyphs">group=Low exp</text>
<text x="310" y="275.8" font-size="3.8" fill="#d9453a" textLength="35" lengthAdjust="spacingAndGlyphs">Median time: 1.1 and 1.2</text>
<text x="310.3" y="286.9" font-size="3.7" fill="#444" text-anchor="middle">76</text>
<text x="333.6" y="286.9" font-size="3.7" fill="#444" text-anchor="middle">12</text>
<text x="356.9" y="286.9" font-size="3.7" fill="#444" text-anchor="middle">0</text>
<text x="380.2" y="286.9" font-size="3.7" fill="#444" text-anchor="middle">0</text>
<text x="403.5" y="286.9" font-size="3.7" fill="#444" text-anchor="middle">0</text>
<text x="310.3" y="295.2" font-size="3.7" fill="#444" text-anchor="middle">77</text>
<text x="333.6" y="295.2" font-size="3.7" fill="#444" text-anchor="middle">20</text>
<text x="356.9" y="295.2" font-size="3.7" fill="#444" text-anchor="middle">8</text>
<text x="380.2" y="295.2" font-size="3.7" fill="#444" text-anchor="middle">2</text>
<text x="403.5" y="295.2" font-size="3.7" fill="#444" text-anchor="middle">0</text></g><g font-family="Liberation Serif, serif"><line x1="445.6" y1="281.1" x2="445.6" y2="298.9" stroke="#e4e4e4" stroke-width="0.4"/>
<line x1="457.25" y1="281.1" x2="457.25" y2="298.9" stroke="#ececec" stroke-width="0.4"/>
<line x1="468.9" y1="281.1" x2="468.9" y2="298.9" stroke="#e4e4e4" stroke-width="0.4"/>
<line x1="480.55" y1="281.1" x2="480.55" y2="298.9" stroke="#ececec" stroke-width="0.4"/>
<line x1="492.2" y1="281.1" x2="492.2" y2="298.9" stroke="#e4e4e4" stroke-width="0.4"/>
<line x1="503.85" y1="281.1" x2="503.85" y2="298.9" stroke="#ececec" stroke-width="0.4"/>
<line x1="515.5" y1="281.1" x2="515.5" y2="298.9" stroke="#e4e4e4" stroke-width="0.4"/>
<line x1="527.15" y1="281.1" x2="527.15" y2="298.9" stroke="#ececec" stroke-width="0.4"/>
<line x1="538.8" y1="281.1" x2="538.8" y2="298.9" stroke="#e4e4e4" stroke-width="0.4"/>
<line x1="441.4" y1="285.6" x2="543.6" y2="285.6" stroke="#ececec" stroke-width="0.4"/>
<line x1="441.4" y1="293.9" x2="543.6" y2="293.9" stroke="#ececec" stroke-width="0.4"/>
<line x1="441.4" y1="179" x2="543.6" y2="179" stroke="#f2f2f2" stroke-width="0.8"/>
<line x1="441.4" y1="279.5" x2="543.6" y2="279.5" stroke="#e6e6e6" stroke-width="1.4"/>
<line x1="441.4" y1="179" x2="441.4" y2="279.5" stroke="#999" stroke-width="0.9"/>
<line x1="441.4" y1="281.1" x2="441.4" y2="298.9" stroke="#999" stroke-width="0.9"/>
<line x1="441.4" y1="298.9" x2="543.6" y2="298.9" stroke="#9a9a9a" stroke-width="0.9"/>
<line x1="440.1" y1="274.6" x2="441.4" y2="274.6" stroke="#666" stroke-width="0.5"/>
<text x="439.4" y="275.9" font-size="3.6" fill="#777" text-anchor="end" textLength="4.9" lengthAdjust="spacingAndGlyphs">0.00</text>
<line x1="440.1" y1="251.9" x2="441.4" y2="251.9" stroke="#666" stroke-width="0.5"/>
<text x="439.4" y="253.2" font-size="3.6" fill="#777" text-anchor="end" textLength="4.9" lengthAdjust="spacingAndGlyphs">0.25</text>
<line x1="440.1" y1="229.2" x2="441.4" y2="229.2" stroke="#666" stroke-width="0.5"/>
<text x="439.4" y="230.5" font-size="3.6" fill="#777" text-anchor="end" textLength="4.9" lengthAdjust="spacingAndGlyphs">0.50</text>
<line x1="440.1" y1="206.5" x2="441.4" y2="206.5" stroke="#666" stroke-width="0.5"/>
<text x="439.4" y="207.8" font-size="3.6" fill="#777" text-anchor="end" textLength="4.9" lengthAdjust="spacingAndGlyphs">0.75</text>
<line x1="440.1" y1="183.8" x2="441.4" y2="183.8" stroke="#666" stroke-width="0.5"/>
<text x="439.4" y="185.1" font-size="3.6" fill="#777" text-anchor="end" textLength="4.9" lengthAdjust="spacingAndGlyphs">1.00</text>
<line x1="445.6" y1="279.1" x2="445.6" y2="280.5" stroke="#666" stroke-width="0.5"/>
<line x1="445.6" y1="298.9" x2="445.6" y2="300.1" stroke="#555" stroke-width="0.6"/>
<text x="445.6" y="303.1" font-size="3.7" fill="#777" text-anchor="middle">0</text>
<line x1="468.9" y1="279.1" x2="468.9" y2="280.5" stroke="#666" stroke-width="0.5"/>
<line x1="468.9" y1="298.9" x2="468.9" y2="300.1" stroke="#555" stroke-width="0.6"/>
<text x="468.9" y="303.1" font-size="3.7" fill="#777" text-anchor="middle">2</text>
<line x1="492.2" y1="279.1" x2="492.2" y2="280.5" stroke="#666" stroke-width="0.5"/>
<line x1="492.2" y1="298.9" x2="492.2" y2="300.1" stroke="#555" stroke-width="0.6"/>
<text x="492.2" y="303.1" font-size="3.7" fill="#777" text-anchor="middle">4</text>
<line x1="515.5" y1="279.1" x2="515.5" y2="280.5" stroke="#666" stroke-width="0.5"/>
<line x1="515.5" y1="298.9" x2="515.5" y2="300.1" stroke="#555" stroke-width="0.6"/>
<text x="515.5" y="303.1" font-size="3.7" fill="#777" text-anchor="middle">6</text>
<line x1="538.8" y1="279.1" x2="538.8" y2="280.5" stroke="#666" stroke-width="0.5"/>
<line x1="538.8" y1="298.9" x2="538.8" y2="300.1" stroke="#555" stroke-width="0.6"/>
<text x="538.8" y="303.1" font-size="3.7" fill="#777" text-anchor="middle">8</text>
<text x="492.1" y="306.8" font-size="4.6" fill="#111" text-anchor="middle" textLength="20" lengthAdjust="spacingAndGlyphs">Time (years)</text>
<text transform="translate(415.4,229.2) rotate(-90)" font-size="3.6" fill="#3a3a3a" font-weight="bold" text-anchor="middle" textLength="43" lengthAdjust="spacingAndGlyphs">Overall survival probability</text>
<text x="439.4" y="286.9" font-size="3.8" fill="#8a8a8a" text-anchor="end" textLength="22" lengthAdjust="spacingAndGlyphs">group=High exp</text>
<text x="439.4" y="295.2" font-size="3.8" fill="#8a8a8a" text-anchor="end" textLength="21.7" lengthAdjust="spacingAndGlyphs">group=Low exp</text>
<line x1="440.2" y1="285.6" x2="441.4" y2="285.6" stroke="#666" stroke-width="0.5"/>
<line x1="440.2" y1="293.9" x2="441.4" y2="293.9" stroke="#666" stroke-width="0.5"/>
<text transform="translate(415.1,289.8) rotate(-90)" font-size="4.2" font-weight="bold" fill="#333" text-anchor="middle">SAA2</text>
<path d="M445.6 183.8H446.57V196.3H447.54V203.8H448.51V210.77H449.48V216.11H450.45V220H451.43V221.27H452.4V223.8H453.37V225.06H454.34V228.77H455.31V232.41H456.28V235.99H457.25V241.82H458.22V247.47H459.19V251.86H460.16V254.01H461.13V256.12H462.1V258.2H463.08V260.36H464.05V261.43H465.02V263.51H465.99V264.53H466.96V265.53H467.93V267.48H468.9V268.42H470.84V269.34H471.81V270.22H473.75V271.08H476.67V271.89H480.55V273.96H492.67" fill="none" stroke="#cf5f4e" stroke-width="0.75" stroke-dasharray="1.1 1.1" opacity="0.8"/>
<path d="M445.6 183.8H446.57V185.28H447.54V189.42H448.51V194.09H449.48V198.07H450.45V201.17H451.43V202.22H452.4V204.35H453.37V205.43H454.34V208.7H455.31V212.04H456.28V215.45H457.25V221.26H458.22V227.25H459.19V232.17H460.16V234.68H461.13V237.22H462.1V239.79H463.08V242.49H464.05V243.86H465.02V246.64H465.99V248.06H466.96V249.48H467.93V252.39H468.9V253.87H470.84V255.37H471.81V256.9H473.75V258.44H476.67V260.02H480.55V264.76H481.13" fill="none" stroke="#cf5f4e" stroke-width="0.75" stroke-dasharray="1.1 1.1" opacity="0.8"/>
<path d="M445.6 183.8H446.57V197.68H447.54V202.12H448.51V207.73H449.48V211.78H450.45V213.1H451.43V214.41H452.4V215.71H455.31V217.01H457.25V219.56H458.22V224.56H459.19V231.84H460.16V239.05H461.13V244.86H462.1V248.25H463.08V249.37H464.05V251.58H465.02V253.76H465.99V254.83H466.96V255.9H467.93V256.96H468.9V258H469.87V260.07H470.84V261.08H471.81V262.09H475.7V263.08H477.64V264.06H481.52V265.02H485.4V266.91H490.26V267.82H492.2V269.58H493.17V271.24H494.14V272.01H495.11V272.74H514.53V273.41H515.5V273.98H531.81" fill="none" stroke="#3479bf" stroke-width="0.75" stroke-dasharray="1.1 1.1" opacity="0.8"/>
<path d="M445.6 183.8H446.57V186.01H447.54V188.47H448.51V192.06H449.48V194.91H450.45V195.89H451.43V196.88H452.4V197.88H455.31V198.88H457.25V200.93H458.22V205.12H459.19V211.64H460.16V218.53H461.13V224.47H462.1V228.12H463.08V229.36H464.05V231.84H465.02V234.36H465.99V235.64H466.96V236.92H467.93V238.21H468.9V239.51H469.87V242.14H470.84V243.47H471.81V244.81H475.7V246.16H477.64V247.53H481.52V248.9H485.4V251.7H490.26V253.13H492.2V256.03H493.17V259.01H494.14V260.54H495.11V262.08H514.53V263.63H515.5V265.13H516.08" fill="none" stroke="#3479bf" stroke-width="0.75" stroke-dasharray="1.1 1.1" opacity="0.8"/>
<path d="M445.6 183.8H446.57V190.97H447.54V196.94H448.51V202.92H449.48V207.69H450.45V211.28H451.43V212.47H452.4V214.86H453.37V216.06H454.34V219.64H455.31V223.23H456.28V226.81H457.25V232.78H458.22V238.76H459.19V243.54H460.16V245.93H461.13V248.32H462.1V250.71H463.08V253.22H464.05V254.48H465.02V256.99H465.99V258.25H466.96V259.51H467.93V262.02H468.9V263.28H470.84V264.54H471.81V265.8H473.75V267.05H476.67V268.31H480.55V272.08H492.67" fill="none" stroke="#cf5f4e" stroke-width="1.15"/>
<line x1="462.1" y1="249.81" x2="462.1" y2="251.61" stroke="#cf5f4e" stroke-width="0.6"/>
<line x1="492.67" y1="271.18" x2="492.67" y2="272.98" stroke="#cf5f4e" stroke-width="0.6"/>
<line x1="492.67" y1="271.08" x2="492.67" y2="273.08" stroke="#cf5f4e" stroke-width="0.7"/>
<path d="M445.6 183.8H446.57V192.05H447.54V195.59H448.51V200.31H449.48V203.85H450.45V205.03H451.43V206.21H452.4V207.38H455.31V208.56H457.25V210.92H458.22V215.64H459.19V222.71H460.16V229.95H461.13V235.99H462.1V239.61H463.08V240.81H464.05V243.23H465.02V245.64H465.99V246.85H466.96V248.05H467.93V249.26H468.9V250.47H469.87V252.88H470.84V254.09H471.81V255.29H475.7V256.5H477.64V257.71H481.52V258.91H485.4V261.33H490.26V262.53H492.2V264.95H493.17V267.36H494.14V268.57H495.11V269.77H514.53V270.98H515.5V272.19H531.81" fill="none" stroke="#3479bf" stroke-width="1.15"/>
<line x1="459.19" y1="221.81" x2="459.19" y2="223.61" stroke="#3479bf" stroke-width="0.6"/>
<line x1="531.81" y1="271.29" x2="531.81" y2="273.09" stroke="#3479bf" stroke-width="0.6"/>
<line x1="531.81" y1="271.19" x2="531.81" y2="273.19" stroke="#3479bf" stroke-width="0.7"/>
<line x1="445.6" y1="229.2" x2="460.16" y2="229.2" stroke="#777" stroke-width="0.7" stroke-dasharray="1.1 0.9"/>
<line x1="457.25" y1="229.2" x2="457.25" y2="274.6" stroke="#222" stroke-width="0.7" stroke-dasharray="1.1 0.9"/>
<line x1="460.16" y1="229.2" x2="460.16" y2="274.6" stroke="#222" stroke-width="0.7" stroke-dasharray="1.1 0.9"/>
<text x="478.9" y="186" font-size="3.9" fill="#333" stroke="#333" stroke-width="0.12" text-anchor="middle" textLength="27.5" lengthAdjust="spacingAndGlyphs">Log-rank P = 0.035</text>
<text x="478.9" y="190.7" font-size="3.9" fill="#333" stroke="#333" stroke-width="0.12" text-anchor="middle" textLength="27.5" lengthAdjust="spacingAndGlyphs">HR(High exp) = 1.61</text>
<text x="478.9" y="195.4" font-size="3.9" fill="#333" stroke="#333" stroke-width="0.12" text-anchor="middle" textLength="27.5" lengthAdjust="spacingAndGlyphs">95%CI: 1.03 - 2.52</text>
<text x="512.1" y="183.5" font-size="3.8" fill="#666">SAA2</text>
<line x1="512.6" y1="188.2" x2="518.1" y2="188.2" stroke="#cf5f4e" stroke-width="1.1"/>
<line x1="512.6" y1="193.8" x2="518.1" y2="193.8" stroke="#3479bf" stroke-width="1.1"/>
<text x="519.4" y="189.5" font-size="3.9" fill="#333" stroke="#333" stroke-width="0.1" textLength="22.2" lengthAdjust="spacingAndGlyphs">group=High exp</text>
<text x="519.4" y="195.1" font-size="3.9" fill="#333" stroke="#333" stroke-width="0.1" textLength="21.7" lengthAdjust="spacingAndGlyphs">group=Low exp</text>
<text x="445.3" y="275.8" font-size="3.8" fill="#d9453a" textLength="35" lengthAdjust="spacingAndGlyphs">Median time: 1 and 1.2</text>
<text x="445.6" y="286.9" font-size="3.7" fill="#444" text-anchor="middle">76</text>
<text x="468.9" y="286.9" font-size="3.7" fill="#444" text-anchor="middle">10</text>
<text x="492.2" y="286.9" font-size="3.7" fill="#444" text-anchor="middle">2</text>
<text x="515.5" y="286.9" font-size="3.7" fill="#444" text-anchor="middle">0</text>
<text x="538.8" y="286.9" font-size="3.7" fill="#444" text-anchor="middle">0</text>
<text x="445.6" y="295.2" font-size="3.7" fill="#444" text-anchor="middle">77</text>
<text x="468.9" y="295.2" font-size="3.7" fill="#444" text-anchor="middle">21</text>
<text x="492.2" y="295.2" font-size="3.7" fill="#444" text-anchor="middle">10</text>
<text x="515.5" y="295.2" font-size="3.7" fill="#444" text-anchor="middle">3</text>
<text x="538.8" y="295.2" font-size="3.7" fill="#444" text-anchor="middle">0</text></g><g font-family="Liberation Serif, serif"><line x1="581.3" y1="281.1" x2="581.3" y2="298.9" stroke="#e4e4e4" stroke-width="0.4"/>
<line x1="592.95" y1="281.1" x2="592.95" y2="298.9" stroke="#ececec" stroke-width="0.4"/>
<line x1="604.6" y1="281.1" x2="604.6" y2="298.9" stroke="#e4e4e4" stroke-width="0.4"/>
<line x1="616.25" y1="281.1" x2="616.25" y2="298.9" stroke="#ececec" stroke-width="0.4"/>
<line x1="627.9" y1="281.1" x2="627.9" y2="298.9" stroke="#e4e4e4" stroke-width="0.4"/>
<line x1="639.55" y1="281.1" x2="639.55" y2="298.9" stroke="#ececec" stroke-width="0.4"/>
<line x1="651.2" y1="281.1" x2="651.2" y2="298.9" stroke="#e4e4e4" stroke-width="0.4"/>
<line x1="662.85" y1="281.1" x2="662.85" y2="298.9" stroke="#ececec" stroke-width="0.4"/>
<line x1="674.5" y1="281.1" x2="674.5" y2="298.9" stroke="#e4e4e4" stroke-width="0.4"/>
<line x1="576.6" y1="285.6" x2="679.3" y2="285.6" stroke="#ececec" stroke-width="0.4"/>
<line x1="576.6" y1="293.9" x2="679.3" y2="293.9" stroke="#ececec" stroke-width="0.4"/>
<line x1="576.6" y1="179" x2="679.3" y2="179" stroke="#f2f2f2" stroke-width="0.8"/>
<line x1="576.6" y1="279.5" x2="679.3" y2="279.5" stroke="#e6e6e6" stroke-width="1.4"/>
<line x1="576.6" y1="179" x2="576.6" y2="279.5" stroke="#999" stroke-width="0.9"/>
<line x1="576.6" y1="281.1" x2="576.6" y2="298.9" stroke="#999" stroke-width="0.9"/>
<line x1="576.6" y1="298.9" x2="679.3" y2="298.9" stroke="#9a9a9a" stroke-width="0.9"/>
<line x1="575.3" y1="274.6" x2="576.6" y2="274.6" stroke="#666" stroke-width="0.5"/>
<text x="574.6" y="275.9" font-size="3.6" fill="#777" text-anchor="end" textLength="4.9" lengthAdjust="spacingAndGlyphs">0.00</text>
<line x1="575.3" y1="251.9" x2="576.6" y2="251.9" stroke="#666" stroke-width="0.5"/>
<text x="574.6" y="253.2" font-size="3.6" fill="#777" text-anchor="end" textLength="4.9" lengthAdjust="spacingAndGlyphs">0.25</text>
<line x1="575.3" y1="229.2" x2="576.6" y2="229.2" stroke="#666" stroke-width="0.5"/>
<text x="574.6" y="230.5" font-size="3.6" fill="#777" text-anchor="end" textLength="4.9" lengthAdjust="spacingAndGlyphs">0.50</text>
<line x1="575.3" y1="206.5" x2="576.6" y2="206.5" stroke="#666" stroke-width="0.5"/>
<text x="574.6" y="207.8" font-size="3.6" fill="#777" text-anchor="end" textLength="4.9" lengthAdjust="spacingAndGlyphs">0.75</text>
<line x1="575.3" y1="183.8" x2="576.6" y2="183.8" stroke="#666" stroke-width="0.5"/>
<text x="574.6" y="185.1" font-size="3.6" fill="#777" text-anchor="end" textLength="4.9" lengthAdjust="spacingAndGlyphs">1.00</text>
<line x1="581.3" y1="279.1" x2="581.3" y2="280.5" stroke="#666" stroke-width="0.5"/>
<line x1="581.3" y1="298.9" x2="581.3" y2="300.1" stroke="#555" stroke-width="0.6"/>
<text x="581.3" y="303.1" font-size="3.7" fill="#777" text-anchor="middle">0</text>
<line x1="604.6" y1="279.1" x2="604.6" y2="280.5" stroke="#666" stroke-width="0.5"/>
<line x1="604.6" y1="298.9" x2="604.6" y2="300.1" stroke="#555" stroke-width="0.6"/>
<text x="604.6" y="303.1" font-size="3.7" fill="#777" text-anchor="middle">2</text>
<line x1="627.9" y1="279.1" x2="627.9" y2="280.5" stroke="#666" stroke-width="0.5"/>
<line x1="627.9" y1="298.9" x2="627.9" y2="300.1" stroke="#555" stroke-width="0.6"/>
<text x="627.9" y="303.1" font-size="3.7" fill="#777" text-anchor="middle">4</text>
<line x1="651.2" y1="279.1" x2="651.2" y2="280.5" stroke="#666" stroke-width="0.5"/>
<line x1="651.2" y1="298.9" x2="651.2" y2="300.1" stroke="#555" stroke-width="0.6"/>
<text x="651.2" y="303.1" font-size="3.7" fill="#777" text-anchor="middle">6</text>
<line x1="674.5" y1="279.1" x2="674.5" y2="280.5" stroke="#666" stroke-width="0.5"/>
<line x1="674.5" y1="298.9" x2="674.5" y2="300.1" stroke="#555" stroke-width="0.6"/>
<text x="674.5" y="303.1" font-size="3.7" fill="#777" text-anchor="middle">8</text>
<text x="627.8" y="306.8" font-size="4.6" fill="#111" text-anchor="middle" textLength="20" lengthAdjust="spacingAndGlyphs">Time (years)</text>
<text transform="translate(550.6,229.2) rotate(-90)" font-size="3.6" fill="#3a3a3a" font-weight="bold" text-anchor="middle" textLength="43" lengthAdjust="spacingAndGlyphs">Overall survival probability</text>
<text x="574.6" y="286.9" font-size="3.8" fill="#8a8a8a" text-anchor="end" textLength="22" lengthAdjust="spacingAndGlyphs">group=High exp</text>
<text x="574.6" y="295.2" font-size="3.8" fill="#8a8a8a" text-anchor="end" textLength="21.7" lengthAdjust="spacingAndGlyphs">group=Low exp</text>
<line x1="575.4" y1="285.6" x2="576.6" y2="285.6" stroke="#666" stroke-width="0.5"/>
<line x1="575.4" y1="293.9" x2="576.6" y2="293.9" stroke="#666" stroke-width="0.5"/>
<text transform="translate(550.3,289.8) rotate(-90)" font-size="4.2" font-weight="bold" fill="#333" text-anchor="middle">FCGR2B</text>
<path d="M581.3 183.8H582.27V196.3H583.24V202.35H584.21V206.64H585.18V212.12H586.15V217.41H587.12V221.27H588.1V225.06H589.07V226.3H590.04V228.77H591.01V231.2H591.98V235.99H592.95V240.66H593.92V244.1H594.89V247.47H595.86V251.86H596.83V255.07H597.8V258.2H598.77V261.24H599.75V263.21H600.72V264.18H601.69V266.07H603.63V267.89H605.57V269.64H608.48V270.47H609.45V271.27H613.34V272.04H615.28V273.42H628.6" fill="none" stroke="#cf5f4e" stroke-width="0.75" stroke-dasharray="1.1 1.1" opacity="0.8"/>
<path d="M581.3 183.8H582.27V185.28H583.24V188.54H584.21V191.24H585.18V195.07H586.15V199.1H587.12V202.22H588.1V205.43H589.07V206.51H590.04V208.7H591.01V210.92H591.98V215.45H592.95V220.09H593.92V223.64H594.89V227.25H595.86V232.17H596.83V235.94H597.8V239.79H598.77V243.72H599.75V246.4H600.72V247.75H601.69V250.5H603.63V253.31H605.57V256.19H608.48V257.66H609.45V259.15H613.34V260.66H615.28V263.73H615.86" fill="none" stroke="#cf5f4e" stroke-width="0.75" stroke-dasharray="1.1 1.1" opacity="0.8"/>
<path d="M581.3 183.8H582.27V192.9H583.24V199.19H584.21V203.55H585.18V204.96H587.12V206.36H588.1V207.73H589.07V210.44H590.04V211.78H591.01V213.1H591.98V214.41H592.95V218.29H593.92V224.7H594.89V233.33H595.86V240.44H596.83V246.17H597.8V248.41H598.77V250.62H599.75V251.71H600.72V253.88H601.69V254.94H602.66V256H603.63V257.06H604.6V258.1H605.57V259.13H606.54V260.15H607.51V261.16H608.48V262.16H610.42V263.14H611.4V264.12H613.34V265.08H614.31V266.02H615.28V266.95H618.19V267.86H619.16V268.74H621.1V269.61H624.02V270.45H625.96V271.26H626.93V272.03H627.9V273.41H628.87V273.99H667.51" fill="none" stroke="#3479bf" stroke-width="0.75" stroke-dasharray="1.1 1.1" opacity="0.8"/>
<path d="M581.3 183.8H582.27V183.9H583.24V186.8H584.21V189.34H585.18V190.23H587.12V191.14H588.1V192.06H589.07V193.95H590.04V194.91H591.01V195.89H591.98V196.88H592.95V199.9H593.92V205.19H594.89V212.94H595.86V219.87H596.83V225.84H597.8V228.28H598.77V230.75H599.75V231.99H600.72V234.51H601.69V235.78H602.66V237.05H603.63V238.34H604.6V239.64H605.57V240.94H606.54V242.26H607.51V243.58H608.48V244.92H610.42V246.27H611.4V247.63H613.34V249H614.31V250.39H615.28V251.79H618.19V253.21H619.16V254.65H621.1V256.1H624.02V257.58H625.96V259.07H626.93V260.59H627.9V263.68H628.87V265.17H629.45" fill="none" stroke="#3479bf" stroke-width="0.75" stroke-dasharray="1.1 1.1" opacity="0.8"/>
<path d="M581.3 183.8H582.27V190.97H583.24V195.75H584.21V199.33H585.18V204.11H586.15V208.89H587.12V212.47H588.1V216.06H589.07V217.25H590.04V219.64H591.01V222.03H591.98V226.81H592.95V231.59H593.92V235.17H594.89V238.76H595.86V243.54H596.83V247.12H597.8V250.71H598.77V254.29H599.75V256.68H600.72V257.87H601.69V260.26H603.63V262.65H605.57V265.04H608.48V266.24H609.45V267.43H613.34V268.63H615.28V271.02H628.6" fill="none" stroke="#cf5f4e" stroke-width="1.15"/>
<line x1="628.6" y1="270.12" x2="628.6" y2="271.92" stroke="#cf5f4e" stroke-width="0.6"/>
<line x1="628.6" y1="270.02" x2="628.6" y2="272.02" stroke="#cf5f4e" stroke-width="0.7"/>
<path d="M581.3 183.8H582.27V188.52H583.24V193.23H584.21V196.77H585.18V197.95H587.12V199.13H588.1V200.31H589.07V202.67H590.04V203.85H591.01V205.03H591.98V206.21H592.95V209.74H593.92V215.75H594.89V224.16H595.86V231.36H596.83V237.37H597.8V239.77H598.77V242.17H599.75V243.37H600.72V245.77H601.69V246.98H602.66V248.18H603.63V249.38H604.6V250.58H605.57V251.78H606.54V252.98H607.51V254.18H608.48V255.38H610.42V256.58H611.4V257.79H613.34V258.99H614.31V260.19H615.28V261.39H618.19V262.59H619.16V263.79H621.1V264.99H624.02V266.19H625.96V267.39H626.93V268.59H627.9V271H628.87V272.2H667.51" fill="none" stroke="#3479bf" stroke-width="1.15"/>
<line x1="592.95" y1="208.84" x2="592.95" y2="210.64" stroke="#3479bf" stroke-width="0.6"/>
<line x1="667.51" y1="271.3" x2="667.51" y2="273.1" stroke="#3479bf" stroke-width="0.6"/>
<line x1="667.51" y1="271.2" x2="667.51" y2="273.2" stroke="#3479bf" stroke-width="0.7"/>
<line x1="649.8" y1="271.1" x2="649.8" y2="273.3" stroke="#cf5f4e" stroke-width="0.8"/>
<line x1="581.3" y1="229.2" x2="595.86" y2="229.2" stroke="#777" stroke-width="0.7" stroke-dasharray="1.1 0.9"/>
<line x1="592.95" y1="229.2" x2="592.95" y2="274.6" stroke="#222" stroke-width="0.7" stroke-dasharray="1.1 0.9"/>
<line x1="595.86" y1="229.2" x2="595.86" y2="274.6" stroke="#222" stroke-width="0.7" stroke-dasharray="1.1 0.9"/>
<text x="614.6" y="186" font-size="3.9" fill="#333" stroke="#333" stroke-width="0.12" text-anchor="middle" textLength="27.5" lengthAdjust="spacingAndGlyphs">Log-rank P = 0.028</text>
<text x="614.6" y="190.7" font-size="3.9" fill="#333" stroke="#333" stroke-width="0.12" text-anchor="middle" textLength="27.5" lengthAdjust="spacingAndGlyphs">HR(High exp) = 1.54</text>
<text x="614.6" y="195.4" font-size="3.9" fill="#333" stroke="#333" stroke-width="0.12" text-anchor="middle" textLength="27.5" lengthAdjust="spacingAndGlyphs">95%CI: 1.04 - 2.28</text>
<text x="647.8" y="183.5" font-size="3.8" fill="#666">FCGR2B</text>
<line x1="648.3" y1="188.2" x2="653.8" y2="188.2" stroke="#cf5f4e" stroke-width="1.1"/>
<line x1="648.3" y1="193.8" x2="653.8" y2="193.8" stroke="#3479bf" stroke-width="1.1"/>
<text x="655.1" y="189.5" font-size="3.9" fill="#333" stroke="#333" stroke-width="0.1" textLength="22.2" lengthAdjust="spacingAndGlyphs">group=High exp</text>
<text x="655.1" y="195.1" font-size="3.9" fill="#333" stroke="#333" stroke-width="0.1" textLength="21.7" lengthAdjust="spacingAndGlyphs">group=Low exp</text>
<text x="581" y="275.8" font-size="3.8" fill="#d9453a" textLength="35" lengthAdjust="spacingAndGlyphs">Median time: 1 and 1.2</text>
<text x="581.3" y="286.9" font-size="3.7" fill="#444" text-anchor="middle">76</text>
<text x="604.6" y="286.9" font-size="3.7" fill="#444" text-anchor="middle">10</text>
<text x="627.9" y="286.9" font-size="3.7" fill="#444" text-anchor="middle">3</text>
<text x="651.2" y="286.9" font-size="3.7" fill="#444" text-anchor="middle">0</text>
<text x="674.5" y="286.9" font-size="3.7" fill="#444" text-anchor="middle">0</text>
<text x="581.3" y="295.2" font-size="3.7" fill="#444" text-anchor="middle">77</text>
<text x="604.6" y="295.2" font-size="3.7" fill="#444" text-anchor="middle">21</text>
<text x="627.9" y="295.2" font-size="3.7" fill="#444" text-anchor="middle">5</text>
<text x="651.2" y="295.2" font-size="3.7" fill="#444" text-anchor="middle">2</text>
<text x="674.5" y="295.2" font-size="3.7" fill="#444" text-anchor="middle">0</text></g><g font-family="Liberation Serif, serif"><line x1="36.4" y1="415.8" x2="36.4" y2="433.6" stroke="#e4e4e4" stroke-width="0.4"/>
<line x1="48.05" y1="415.8" x2="48.05" y2="433.6" stroke="#ececec" stroke-width="0.4"/>
<line x1="59.7" y1="415.8" x2="59.7" y2="433.6" stroke="#e4e4e4" stroke-width="0.4"/>
<line x1="71.35" y1="415.8" x2="71.35" y2="433.6" stroke="#ececec" stroke-width="0.4"/>
<line x1="83" y1="415.8" x2="83" y2="433.6" stroke="#e4e4e4" stroke-width="0.4"/>
<line x1="94.65" y1="415.8" x2="94.65" y2="433.6" stroke="#ececec" stroke-width="0.4"/>
<line x1="106.3" y1="415.8" x2="106.3" y2="433.6" stroke="#e4e4e4" stroke-width="0.4"/>
<line x1="117.95" y1="415.8" x2="117.95" y2="433.6" stroke="#ececec" stroke-width="0.4"/>
<line x1="129.6" y1="415.8" x2="129.6" y2="433.6" stroke="#e4e4e4" stroke-width="0.4"/>
<line x1="32.1" y1="420.3" x2="134.4" y2="420.3" stroke="#ececec" stroke-width="0.4"/>
<line x1="32.1" y1="428.6" x2="134.4" y2="428.6" stroke="#ececec" stroke-width="0.4"/>
<line x1="32.1" y1="313.9" x2="134.4" y2="313.9" stroke="#f0f0f0" stroke-width="0.8"/>
<line x1="32.1" y1="414.2" x2="134.4" y2="414.2" stroke="#e6e6e6" stroke-width="1.4"/>
<line x1="32.1" y1="313.9" x2="32.1" y2="414.2" stroke="#999" stroke-width="0.9"/>
<line x1="32.1" y1="415.8" x2="32.1" y2="433.6" stroke="#999" stroke-width="0.9"/>
<line x1="32.1" y1="433.6" x2="134.4" y2="433.6" stroke="#9a9a9a" stroke-width="0.9"/>
<line x1="30.8" y1="409.3" x2="32.1" y2="409.3" stroke="#666" stroke-width="0.5"/>
<text x="30.1" y="410.6" font-size="3.6" fill="#777" text-anchor="end" textLength="4.9" lengthAdjust="spacingAndGlyphs">0.00</text>
<line x1="30.8" y1="386.5" x2="32.1" y2="386.5" stroke="#666" stroke-width="0.5"/>
<text x="30.1" y="387.8" font-size="3.6" fill="#777" text-anchor="end" textLength="4.9" lengthAdjust="spacingAndGlyphs">0.25</text>
<line x1="30.8" y1="363.7" x2="32.1" y2="363.7" stroke="#666" stroke-width="0.5"/>
<text x="30.1" y="365" font-size="3.6" fill="#777" text-anchor="end" textLength="4.9" lengthAdjust="spacingAndGlyphs">0.50</text>
<line x1="30.8" y1="340.9" x2="32.1" y2="340.9" stroke="#666" stroke-width="0.5"/>
<text x="30.1" y="342.2" font-size="3.6" fill="#777" text-anchor="end" textLength="4.9" lengthAdjust="spacingAndGlyphs">0.75</text>
<line x1="30.8" y1="318.1" x2="32.1" y2="318.1" stroke="#666" stroke-width="0.5"/>
<text x="30.1" y="319.4" font-size="3.6" fill="#777" text-anchor="end" textLength="4.9" lengthAdjust="spacingAndGlyphs">1.00</text>
<line x1="36.4" y1="413.8" x2="36.4" y2="415.2" stroke="#666" stroke-width="0.5"/>
<line x1="36.4" y1="433.6" x2="36.4" y2="434.8" stroke="#555" stroke-width="0.6"/>
<text x="36.4" y="437.8" font-size="3.7" fill="#777" text-anchor="middle">0</text>
<line x1="59.7" y1="413.8" x2="59.7" y2="415.2" stroke="#666" stroke-width="0.5"/>
<line x1="59.7" y1="433.6" x2="59.7" y2="434.8" stroke="#555" stroke-width="0.6"/>
<text x="59.7" y="437.8" font-size="3.7" fill="#777" text-anchor="middle">2</text>
<line x1="83" y1="413.8" x2="83" y2="415.2" stroke="#666" stroke-width="0.5"/>
<line x1="83" y1="433.6" x2="83" y2="434.8" stroke="#555" stroke-width="0.6"/>
<text x="83" y="437.8" font-size="3.7" fill="#777" text-anchor="middle">4</text>
<line x1="106.3" y1="413.8" x2="106.3" y2="415.2" stroke="#666" stroke-width="0.5"/>
<line x1="106.3" y1="433.6" x2="106.3" y2="434.8" stroke="#555" stroke-width="0.6"/>
<text x="106.3" y="437.8" font-size="3.7" fill="#777" text-anchor="middle">6</text>
<line x1="129.6" y1="413.8" x2="129.6" y2="415.2" stroke="#666" stroke-width="0.5"/>
<line x1="129.6" y1="433.6" x2="129.6" y2="434.8" stroke="#555" stroke-width="0.6"/>
<text x="129.6" y="437.8" font-size="3.7" fill="#777" text-anchor="middle">8</text>
<text x="82.9" y="441.5" font-size="4.6" fill="#111" text-anchor="middle" textLength="20" lengthAdjust="spacingAndGlyphs">Time (years)</text>
<text transform="translate(6.1,363.7) rotate(-90)" font-size="3.6" fill="#3a3a3a" font-weight="bold" text-anchor="middle" textLength="43" lengthAdjust="spacingAndGlyphs">Overall survival probability</text>
<text x="30.1" y="421.6" font-size="3.8" fill="#8a8a8a" text-anchor="end" textLength="22" lengthAdjust="spacingAndGlyphs">group=High exp</text>
<text x="30.1" y="429.9" font-size="3.8" fill="#8a8a8a" text-anchor="end" textLength="21.7" lengthAdjust="spacingAndGlyphs">group=Low exp</text>
<line x1="30.9" y1="420.3" x2="32.1" y2="420.3" stroke="#666" stroke-width="0.5"/>
<line x1="30.9" y1="428.6" x2="32.1" y2="428.6" stroke="#666" stroke-width="0.5"/>
<text transform="translate(5.8,424.5) rotate(-90)" font-size="4.2" font-weight="bold" fill="#333" text-anchor="middle">PABBES1</text>
<path d="M36.4 318.1H37.37V330.65H38.34V338.19H39.31V343.82H40.28V349.23H41.25V353.16H42.23V354.46H43.2V357.07H44.17V358.37H45.14V360.93H46.11V363.46H47.08V367.19H48.05V374.46H49.02V379.15H49.99V383.73H50.96V388.17H51.93V390.34H52.9V391.41H53.88V394.57H54.85V395.6H55.82V397.62H56.79V398.62H57.76V399.59H58.73V401.5H59.7V402.43H60.67V404.21H62.61V405.07H63.58V405.89H64.55V406.68H66.5V407.41H69.41V408.09H70.38V408.68H71.35V409.13H76.36" fill="none" stroke="#cf5f4e" stroke-width="0.75" stroke-dasharray="1.1 1.1" opacity="0.8"/>
<path d="M36.4 318.1H37.37V319.58H38.34V323.74H39.31V327.47H40.28V331.42H41.25V334.5H42.23V335.55H43.2V337.7H44.17V338.78H45.14V340.99H46.11V343.22H47.08V346.63H48.05V353.66H49.02V358.49H49.99V363.44H50.96V368.52H51.93V371.11H52.9V372.41H53.88V376.4H54.85V377.74H55.82V380.47H56.79V381.86H57.76V383.25H58.73V386.09H59.7V387.53H60.67V390.47H62.61V391.97H63.58V393.5H64.55V395.04H66.5V396.61H69.41V398.18H70.38V399.7H71.35V400.73H71.93" fill="none" stroke="#cf5f4e" stroke-width="0.75" stroke-dasharray="1.1 1.1" opacity="0.8"/>
<path d="M36.4 318.1H37.37V327.24H38.34V332.05H39.31V336.5H40.28V339.36H41.25V342.14H42.23V344.86H43.2V347.53H44.17V348.85H45.14V351.45H46.11V352.74H47.08V356.55H48.05V360.28H49.02V364.03H49.99V368.93H50.96V374.89H51.93V378.37H52.9V380.66H53.88V381.84H54.85V383.06H55.82V384.27H56.79V386.65H57.76V387.83H58.73V389H59.7V391.3H60.67V392.43H61.64V393.55H62.61V395.75H69.41V397.89H70.38V400.98H82.03V401.97H83V403.88H83.97V406.51H84.94V407.3H105.33V408.64H122.61" fill="none" stroke="#3479bf" stroke-width="0.75" stroke-dasharray="1.1 1.1" opacity="0.8"/>
<path d="M36.4 318.1H37.37V318.2H38.34V320.32H39.31V322.79H40.28V324.56H41.25V326.4H42.23V328.29H43.2V330.24H44.17V331.24H45.14V333.25H46.11V334.27H47.08V337.39H48.05V340.59H49.02V343.9H49.99V348.43H50.96V354.25H51.93V357.82H52.9V360.25H53.88V361.5H54.85V362.79H55.82V364.09H56.79V366.71H57.76V368.04H58.73V369.38H59.7V372.1H60.67V373.47H61.64V374.86H62.61V377.66H69.41V380.53H70.38V384.94H82.03V386.44H83V389.51H83.97V394.29H84.94V395.93H105.33V399.18H105.91" fill="none" stroke="#3479bf" stroke-width="0.75" stroke-dasharray="1.1 1.1" opacity="0.8"/>
<path d="M36.4 318.1H37.37V325.3H38.34V331.3H39.31V336.1H40.28V340.9H41.25V344.5H42.23V345.7H43.2V348.15H44.17V349.37H45.14V351.82H46.11V354.26H47.08V357.93H48.05V365.27H49.02V370.16H49.99V375.05H50.96V379.95H51.93V382.39H52.9V383.62H53.88V387.28H54.85V388.51H55.82V390.95H56.79V392.18H57.76V393.4H58.73V395.85H59.7V397.07H60.67V399.52H62.61V400.74H63.58V401.96H64.55V403.18H66.5V404.41H69.41V405.63H70.38V406.85H71.35V408.08H76.36" fill="none" stroke="#cf5f4e" stroke-width="1.15"/>
<line x1="42.23" y1="344.8" x2="42.23" y2="346.6" stroke="#cf5f4e" stroke-width="0.6"/>
<line x1="76.36" y1="407.18" x2="76.36" y2="408.98" stroke="#cf5f4e" stroke-width="0.6"/>
<line x1="76.36" y1="407.08" x2="76.36" y2="409.08" stroke="#cf5f4e" stroke-width="0.7"/>
<path d="M36.4 318.1H37.37V322.84H38.34V326.39H39.31V329.94H40.28V332.31H41.25V334.68H42.23V337.05H43.2V339.42H44.17V340.6H45.14V342.97H46.11V344.16H47.08V347.71H48.05V351.26H49.02V354.89H49.99V359.73H50.96V365.77H51.93V369.4H52.9V371.82H53.88V373.07H54.85V374.36H55.82V375.66H56.79V378.24H57.76V379.54H58.73V380.83H59.7V383.42H60.67V384.71H61.64V386.01H62.61V388.6H69.41V391.18H70.38V395.07H82.03V396.36H83V398.95H83.97V402.83H84.94V404.12H105.33V406.71H122.61" fill="none" stroke="#3479bf" stroke-width="1.15"/>
<line x1="48.05" y1="350.36" x2="48.05" y2="352.16" stroke="#3479bf" stroke-width="0.6"/>
<line x1="52.9" y1="370.92" x2="52.9" y2="372.72" stroke="#3479bf" stroke-width="0.6"/>
<line x1="53.88" y1="372.17" x2="53.88" y2="373.97" stroke="#3479bf" stroke-width="0.6"/>
<line x1="122.61" y1="405.81" x2="122.61" y2="407.61" stroke="#3479bf" stroke-width="0.6"/>
<line x1="122.61" y1="405.71" x2="122.61" y2="407.71" stroke="#3479bf" stroke-width="0.7"/>
<line x1="36.4" y1="363.7" x2="50.96" y2="363.7" stroke="#777" stroke-width="0.7" stroke-dasharray="1.1 0.9"/>
<line x1="48.05" y1="363.7" x2="48.05" y2="409.3" stroke="#222" stroke-width="0.7" stroke-dasharray="1.1 0.9"/>
<line x1="50.96" y1="363.7" x2="50.96" y2="409.3" stroke="#222" stroke-width="0.7" stroke-dasharray="1.1 0.9"/>
<text x="69.7" y="320.3" font-size="3.9" fill="#333" stroke="#333" stroke-width="0.12" text-anchor="middle" textLength="27.5" lengthAdjust="spacingAndGlyphs">Log-rank P = 0.018</text>
<text x="69.7" y="325" font-size="3.9" fill="#333" stroke="#333" stroke-width="0.12" text-anchor="middle" textLength="27.5" lengthAdjust="spacingAndGlyphs">HR(High exp) = 1.62</text>
<text x="69.7" y="329.7" font-size="3.9" fill="#333" stroke="#333" stroke-width="0.12" text-anchor="middle" textLength="27.5" lengthAdjust="spacingAndGlyphs">95%CI: 1.08 - 2.43</text>
<text x="102.9" y="317.8" font-size="3.8" fill="#666">PABBES1</text>
<line x1="103.4" y1="322.5" x2="108.9" y2="322.5" stroke="#cf5f4e" stroke-width="1.1"/>
<line x1="103.4" y1="328.1" x2="108.9" y2="328.1" stroke="#3479bf" stroke-width="1.1"/>
<text x="110.2" y="323.8" font-size="3.9" fill="#333" stroke="#333" stroke-width="0.1" textLength="22.2" lengthAdjust="spacingAndGlyphs">group=High exp</text>
<text x="110.2" y="329.4" font-size="3.9" fill="#333" stroke="#333" stroke-width="0.1" textLength="21.7" lengthAdjust="spacingAndGlyphs">group=Low exp</text>
<text x="36.1" y="410.5" font-size="3.8" fill="#d9453a" textLength="35" lengthAdjust="spacingAndGlyphs">Median time: 1 and 1.2</text>
<text x="36.4" y="421.6" font-size="3.7" fill="#444" text-anchor="middle">76</text>
<text x="59.7" y="421.6" font-size="3.7" fill="#444" text-anchor="middle">11</text>
<text x="83" y="421.6" font-size="3.7" fill="#444" text-anchor="middle">0</text>
<text x="106.3" y="421.6" font-size="3.7" fill="#444" text-anchor="middle">0</text>
<text x="129.6" y="421.6" font-size="3.7" fill="#444" text-anchor="middle">0</text>
<text x="36.4" y="429.9" font-size="3.7" fill="#444" text-anchor="middle">77</text>
<text x="59.7" y="429.9" font-size="3.7" fill="#444" text-anchor="middle">22</text>
<text x="83" y="429.9" font-size="3.7" fill="#444" text-anchor="middle">10</text>
<text x="106.3" y="429.9" font-size="3.7" fill="#444" text-anchor="middle">2</text>
<text x="129.6" y="429.9" font-size="3.7" fill="#444" text-anchor="middle">0</text></g><g font-family="Liberation Serif, serif"><line x1="172.8" y1="415.8" x2="172.8" y2="433.6" stroke="#e4e4e4" stroke-width="0.4"/>
<line x1="184.45" y1="415.8" x2="184.45" y2="433.6" stroke="#ececec" stroke-width="0.4"/>
<line x1="196.1" y1="415.8" x2="196.1" y2="433.6" stroke="#e4e4e4" stroke-width="0.4"/>
<line x1="207.75" y1="415.8" x2="207.75" y2="433.6" stroke="#ececec" stroke-width="0.4"/>
<line x1="219.4" y1="415.8" x2="219.4" y2="433.6" stroke="#e4e4e4" stroke-width="0.4"/>
<line x1="231.05" y1="415.8" x2="231.05" y2="433.6" stroke="#ececec" stroke-width="0.4"/>
<line x1="242.7" y1="415.8" x2="242.7" y2="433.6" stroke="#e4e4e4" stroke-width="0.4"/>
<line x1="254.35" y1="415.8" x2="254.35" y2="433.6" stroke="#ececec" stroke-width="0.4"/>
<line x1="266" y1="415.8" x2="266" y2="433.6" stroke="#e4e4e4" stroke-width="0.4"/>
<line x1="168.3" y1="420.3" x2="270.8" y2="420.3" stroke="#ececec" stroke-width="0.4"/>
<line x1="168.3" y1="428.6" x2="270.8" y2="428.6" stroke="#ececec" stroke-width="0.4"/>
<line x1="168.3" y1="313.9" x2="270.8" y2="313.9" stroke="#f0f0f0" stroke-width="0.8"/>
<line x1="168.3" y1="414.2" x2="270.8" y2="414.2" stroke="#e6e6e6" stroke-width="1.4"/>
<line x1="168.3" y1="313.9" x2="168.3" y2="414.2" stroke="#999" stroke-width="0.9"/>
<line x1="168.3" y1="415.8" x2="168.3" y2="433.6" stroke="#999" stroke-width="0.9"/>
<line x1="168.3" y1="433.6" x2="270.8" y2="433.6" stroke="#9a9a9a" stroke-width="0.9"/>
<line x1="167" y1="409.3" x2="168.3" y2="409.3" stroke="#666" stroke-width="0.5"/>
<text x="166.3" y="410.6" font-size="3.6" fill="#777" text-anchor="end" textLength="4.9" lengthAdjust="spacingAndGlyphs">0.00</text>
<line x1="167" y1="386.5" x2="168.3" y2="386.5" stroke="#666" stroke-width="0.5"/>
<text x="166.3" y="387.8" font-size="3.6" fill="#777" text-anchor="end" textLength="4.9" lengthAdjust="spacingAndGlyphs">0.25</text>
<line x1="167" y1="363.7" x2="168.3" y2="363.7" stroke="#666" stroke-width="0.5"/>
<text x="166.3" y="365" font-size="3.6" fill="#777" text-anchor="end" textLength="4.9" lengthAdjust="spacingAndGlyphs">0.50</text>
<line x1="167" y1="340.9" x2="168.3" y2="340.9" stroke="#666" stroke-width="0.5"/>
<text x="166.3" y="342.2" font-size="3.6" fill="#777" text-anchor="end" textLength="4.9" lengthAdjust="spacingAndGlyphs">0.75</text>
<line x1="167" y1="318.1" x2="168.3" y2="318.1" stroke="#666" stroke-width="0.5"/>
<text x="166.3" y="319.4" font-size="3.6" fill="#777" text-anchor="end" textLength="4.9" lengthAdjust="spacingAndGlyphs">1.00</text>
<line x1="172.8" y1="413.8" x2="172.8" y2="415.2" stroke="#666" stroke-width="0.5"/>
<line x1="172.8" y1="433.6" x2="172.8" y2="434.8" stroke="#555" stroke-width="0.6"/>
<text x="172.8" y="437.8" font-size="3.7" fill="#777" text-anchor="middle">0</text>
<line x1="196.1" y1="413.8" x2="196.1" y2="415.2" stroke="#666" stroke-width="0.5"/>
<line x1="196.1" y1="433.6" x2="196.1" y2="434.8" stroke="#555" stroke-width="0.6"/>
<text x="196.1" y="437.8" font-size="3.7" fill="#777" text-anchor="middle">2</text>
<line x1="219.4" y1="413.8" x2="219.4" y2="415.2" stroke="#666" stroke-width="0.5"/>
<line x1="219.4" y1="433.6" x2="219.4" y2="434.8" stroke="#555" stroke-width="0.6"/>
<text x="219.4" y="437.8" font-size="3.7" fill="#777" text-anchor="middle">4</text>
<line x1="242.7" y1="413.8" x2="242.7" y2="415.2" stroke="#666" stroke-width="0.5"/>
<line x1="242.7" y1="433.6" x2="242.7" y2="434.8" stroke="#555" stroke-width="0.6"/>
<text x="242.7" y="437.8" font-size="3.7" fill="#777" text-anchor="middle">6</text>
<line x1="266" y1="413.8" x2="266" y2="415.2" stroke="#666" stroke-width="0.5"/>
<line x1="266" y1="433.6" x2="266" y2="434.8" stroke="#555" stroke-width="0.6"/>
<text x="266" y="437.8" font-size="3.7" fill="#777" text-anchor="middle">8</text>
<text x="219.3" y="441.5" font-size="4.6" fill="#111" text-anchor="middle" textLength="20" lengthAdjust="spacingAndGlyphs">Time (years)</text>
<text transform="translate(142.3,363.7) rotate(-90)" font-size="3.6" fill="#3a3a3a" font-weight="bold" text-anchor="middle" textLength="43" lengthAdjust="spacingAndGlyphs">Overall survival probability</text>
<text x="166.3" y="421.6" font-size="3.8" fill="#8a8a8a" text-anchor="end" textLength="22" lengthAdjust="spacingAndGlyphs">group=High exp</text>
<text x="166.3" y="429.9" font-size="3.8" fill="#8a8a8a" text-anchor="end" textLength="21.7" lengthAdjust="spacingAndGlyphs">group=Low exp</text>
<line x1="167.1" y1="420.3" x2="168.3" y2="420.3" stroke="#666" stroke-width="0.5"/>
<line x1="167.1" y1="428.6" x2="168.3" y2="428.6" stroke="#666" stroke-width="0.5"/>
<text transform="translate(142,424.5) rotate(-90)" font-size="4.2" font-weight="bold" fill="#333" text-anchor="middle">GJB2</text>
<path d="M172.8 318.1H173.77V332.22H174.74V339.62H175.71V346.55H176.68V349.23H177.65V350.55H178.62V351.86H179.6V353.16H180.57V354.46H181.54V355.74H182.51V360.79H183.48V366.92H184.45V372.88H185.42V379.8H186.39V385.37H187.36V387.54H188.33V391.79H189.3V393.85H190.28V395.88H191.25V397.86H192.22V399.79H193.19V400.73H194.16V402.57H195.13V403.45H196.1V405.15H197.07V405.96H198.04V406.73H219.63" fill="none" stroke="#cf5f4e" stroke-width="0.75" stroke-dasharray="1.1 1.1" opacity="0.8"/>
<path d="M172.8 318.1H173.77V320.35H174.74V324.65H175.71V329.42H176.68V331.42H177.65V332.44H178.62V333.46H179.6V334.5H180.57V335.55H181.54V336.6H182.51V340.91H183.48V346.47H184.45V352.2H185.42V359.32H186.39V365.44H187.36V367.94H188.33V373.04H189.3V375.64H190.28V378.29H191.25V380.97H192.22V383.71H193.19V385.1H194.16V387.92H195.13V389.36H196.1V392.28H197.07V393.78H198.04V395.3H198.62" fill="none" stroke="#cf5f4e" stroke-width="0.75" stroke-dasharray="1.1 1.1" opacity="0.8"/>
<path d="M172.8 318.1H173.77V332.05H174.74V339.36H175.71V346.2H176.68V348.85H177.65V350.15H178.62V352.74H179.6V354.02H181.54V355.29H182.51V356.55H183.48V359.04H184.45V362.73H185.42V368.73H186.39V373.41H187.36V379.1H188.33V382.43H189.3V383.53H190.28V384.62H191.25V385.7H193.19V387.84H195.13V388.9H196.1V389.95H197.07V392.03H198.04V394.07H199.01V395.07H199.98V397.05H202.9V398.02H205.81V398.98H206.78V401.76H211.63V402.66H217.46V403.53H218.43V404.38H219.4V406H220.37V406.76H221.34V408.13H240.76V408.7H259.01" fill="none" stroke="#3479bf" stroke-width="0.75" stroke-dasharray="1.1 1.1" opacity="0.8"/>
<path d="M172.8 318.1H173.77V320.32H174.74V324.56H175.71V329.26H176.68V331.24H177.65V332.24H178.62V334.27H179.6V335.3H181.54V336.34H182.51V337.39H183.48V339.52H184.45V342.76H185.42V348.3H186.39V352.86H187.36V358.71H188.33V362.31H189.3V363.52H190.28V364.74H191.25V365.96H193.19V368.44H195.13V369.68H196.1V370.94H197.07V373.48H198.04V376.05H199.01V377.36H199.98V379.99H202.9V381.32H205.81V382.67H206.78V386.78H211.63V388.18H217.46V389.6H218.43V391.04H219.4V393.98H220.37V395.48H221.34V398.53H240.76V400H241.34" fill="none" stroke="#3479bf" stroke-width="0.75" stroke-dasharray="1.1 1.1" opacity="0.8"/>
<path d="M172.8 318.1H173.77V326.5H174.74V332.5H175.71V338.5H176.68V340.9H177.65V342.1H178.62V343.3H179.6V344.5H180.57V345.7H181.54V346.9H182.51V351.7H183.48V357.7H184.45V363.7H185.42V370.9H186.39V376.9H187.36V379.3H188.33V384.1H189.3V386.5H190.28V388.9H191.25V391.3H192.22V393.7H193.19V394.9H194.16V397.3H195.13V398.5H196.1V400.9H197.07V402.1H198.04V403.3H219.63" fill="none" stroke="#cf5f4e" stroke-width="1.15"/>
<line x1="219.63" y1="402.4" x2="219.63" y2="404.2" stroke="#cf5f4e" stroke-width="0.6"/>
<line x1="219.63" y1="402.3" x2="219.63" y2="404.3" stroke="#cf5f4e" stroke-width="0.7"/>
<path d="M172.8 318.1H173.77V326.39H174.74V332.31H175.71V338.24H176.68V340.6H177.65V341.79H178.62V344.16H179.6V345.34H181.54V346.53H182.51V347.71H183.48V350.08H184.45V353.63H185.42V359.55H186.39V364.29H187.36V370.21H188.33V373.77H189.3V374.95H190.28V376.14H191.25V377.32H193.19V379.69H195.13V380.87H196.1V382.06H197.07V384.43H198.04V386.8H199.01V387.98H199.98V390.35H202.9V391.53H205.81V392.72H206.78V396.27H211.63V397.46H217.46V398.64H218.43V399.82H219.4V402.19H220.37V403.38H221.34V405.75H240.76V406.93H259.01" fill="none" stroke="#3479bf" stroke-width="1.15"/>
<line x1="259.01" y1="406.03" x2="259.01" y2="407.83" stroke="#3479bf" stroke-width="0.6"/>
<line x1="259.01" y1="405.93" x2="259.01" y2="407.93" stroke="#3479bf" stroke-width="0.7"/>
<line x1="172.8" y1="363.7" x2="186.39" y2="363.7" stroke="#777" stroke-width="0.7" stroke-dasharray="1.1 0.9"/>
<line x1="185.42" y1="363.7" x2="185.42" y2="409.3" stroke="#222" stroke-width="0.7" stroke-dasharray="1.1 0.9"/>
<line x1="186.39" y1="363.7" x2="186.39" y2="409.3" stroke="#222" stroke-width="0.7" stroke-dasharray="1.1 0.9"/>
<text x="206.1" y="320.3" font-size="3.9" fill="#333" stroke="#333" stroke-width="0.12" text-anchor="middle" textLength="27.5" lengthAdjust="spacingAndGlyphs">Log-rank P = 0.020</text>
<text x="206.1" y="325" font-size="3.9" fill="#333" stroke="#333" stroke-width="0.12" text-anchor="middle" textLength="27.5" lengthAdjust="spacingAndGlyphs">HR(High exp) = 1.57</text>
<text x="206.1" y="329.7" font-size="3.9" fill="#333" stroke="#333" stroke-width="0.12" text-anchor="middle" textLength="27.5" lengthAdjust="spacingAndGlyphs">95%CI: 1.07 - 2.31</text>
<text x="239.3" y="317.8" font-size="3.8" fill="#666">GJB2</text>
<line x1="239.8" y1="322.5" x2="245.3" y2="322.5" stroke="#cf5f4e" stroke-width="1.1"/>
<line x1="239.8" y1="328.1" x2="245.3" y2="328.1" stroke="#3479bf" stroke-width="1.1"/>
<text x="246.6" y="323.8" font-size="3.9" fill="#333" stroke="#333" stroke-width="0.1" textLength="22.2" lengthAdjust="spacingAndGlyphs">group=High exp</text>
<text x="246.6" y="329.4" font-size="3.9" fill="#333" stroke="#333" stroke-width="0.1" textLength="21.7" lengthAdjust="spacingAndGlyphs">group=Low exp</text>
<text x="172.5" y="410.5" font-size="3.8" fill="#d9453a" textLength="35" lengthAdjust="spacingAndGlyphs">Median time: 1.1 and 1.2</text>
<text x="172.8" y="421.6" font-size="3.7" fill="#444" text-anchor="middle">76</text>
<text x="196.1" y="421.6" font-size="3.7" fill="#444" text-anchor="middle">9</text>
<text x="219.4" y="421.6" font-size="3.7" fill="#444" text-anchor="middle">5</text>
<text x="242.7" y="421.6" font-size="3.7" fill="#444" text-anchor="middle">0</text>
<text x="266" y="421.6" font-size="3.7" fill="#444" text-anchor="middle">0</text>
<text x="172.8" y="429.9" font-size="3.7" fill="#444" text-anchor="middle">77</text>
<text x="196.1" y="429.9" font-size="3.7" fill="#444" text-anchor="middle">24</text>
<text x="219.4" y="429.9" font-size="3.7" fill="#444" text-anchor="middle">8</text>
<text x="242.7" y="429.9" font-size="3.7" fill="#444" text-anchor="middle">2</text>
<text x="266" y="429.9" font-size="3.7" fill="#444" text-anchor="middle">0</text></g><g font-family="Liberation Serif, serif"><line x1="308.7" y1="415.8" x2="308.7" y2="433.6" stroke="#e4e4e4" stroke-width="0.4"/>
<line x1="320.35" y1="415.8" x2="320.35" y2="433.6" stroke="#ececec" stroke-width="0.4"/>
<line x1="332" y1="415.8" x2="332" y2="433.6" stroke="#e4e4e4" stroke-width="0.4"/>
<line x1="343.65" y1="415.8" x2="343.65" y2="433.6" stroke="#ececec" stroke-width="0.4"/>
<line x1="355.3" y1="415.8" x2="355.3" y2="433.6" stroke="#e4e4e4" stroke-width="0.4"/>
<line x1="366.95" y1="415.8" x2="366.95" y2="433.6" stroke="#ececec" stroke-width="0.4"/>
<line x1="378.6" y1="415.8" x2="378.6" y2="433.6" stroke="#e4e4e4" stroke-width="0.4"/>
<line x1="390.25" y1="415.8" x2="390.25" y2="433.6" stroke="#ececec" stroke-width="0.4"/>
<line x1="401.9" y1="415.8" x2="401.9" y2="433.6" stroke="#e4e4e4" stroke-width="0.4"/>
<line x1="304.3" y1="420.3" x2="406.7" y2="420.3" stroke="#ececec" stroke-width="0.4"/>
<line x1="304.3" y1="428.6" x2="406.7" y2="428.6" stroke="#ececec" stroke-width="0.4"/>
<line x1="304.3" y1="313.9" x2="406.7" y2="313.9" stroke="#f0f0f0" stroke-width="0.8"/>
<line x1="406.7" y1="313.9" x2="406.7" y2="414.2" stroke="#999" stroke-width="0.8"/>
<line x1="406.7" y1="415.8" x2="406.7" y2="433.6" stroke="#999" stroke-width="0.8"/>
<line x1="304.3" y1="414.2" x2="406.7" y2="414.2" stroke="#e6e6e6" stroke-width="1.4"/>
<line x1="304.3" y1="313.9" x2="304.3" y2="414.2" stroke="#999" stroke-width="0.9"/>
<line x1="304.3" y1="415.8" x2="304.3" y2="433.6" stroke="#999" stroke-width="0.9"/>
<line x1="304.3" y1="433.6" x2="406.7" y2="433.6" stroke="#9a9a9a" stroke-width="0.9"/>
<line x1="303" y1="409.3" x2="304.3" y2="409.3" stroke="#666" stroke-width="0.5"/>
<text x="302.3" y="410.6" font-size="3.6" fill="#777" text-anchor="end" textLength="4.9" lengthAdjust="spacingAndGlyphs">0.00</text>
<line x1="303" y1="386.5" x2="304.3" y2="386.5" stroke="#666" stroke-width="0.5"/>
<text x="302.3" y="387.8" font-size="3.6" fill="#777" text-anchor="end" textLength="4.9" lengthAdjust="spacingAndGlyphs">0.25</text>
<line x1="303" y1="363.7" x2="304.3" y2="363.7" stroke="#666" stroke-width="0.5"/>
<text x="302.3" y="365" font-size="3.6" fill="#777" text-anchor="end" textLength="4.9" lengthAdjust="spacingAndGlyphs">0.50</text>
<line x1="303" y1="340.9" x2="304.3" y2="340.9" stroke="#666" stroke-width="0.5"/>
<text x="302.3" y="342.2" font-size="3.6" fill="#777" text-anchor="end" textLength="4.9" lengthAdjust="spacingAndGlyphs">0.75</text>
<line x1="303" y1="318.1" x2="304.3" y2="318.1" stroke="#666" stroke-width="0.5"/>
<text x="302.3" y="319.4" font-size="3.6" fill="#777" text-anchor="end" textLength="4.9" lengthAdjust="spacingAndGlyphs">1.00</text>
<line x1="308.7" y1="413.8" x2="308.7" y2="415.2" stroke="#666" stroke-width="0.5"/>
<line x1="308.7" y1="433.6" x2="308.7" y2="434.8" stroke="#555" stroke-width="0.6"/>
<text x="308.7" y="437.8" font-size="3.7" fill="#777" text-anchor="middle">0</text>
<line x1="332" y1="413.8" x2="332" y2="415.2" stroke="#666" stroke-width="0.5"/>
<line x1="332" y1="433.6" x2="332" y2="434.8" stroke="#555" stroke-width="0.6"/>
<text x="332" y="437.8" font-size="3.7" fill="#777" text-anchor="middle">2</text>
<line x1="355.3" y1="413.8" x2="355.3" y2="415.2" stroke="#666" stroke-width="0.5"/>
<line x1="355.3" y1="433.6" x2="355.3" y2="434.8" stroke="#555" stroke-width="0.6"/>
<text x="355.3" y="437.8" font-size="3.7" fill="#777" text-anchor="middle">4</text>
<line x1="378.6" y1="413.8" x2="378.6" y2="415.2" stroke="#666" stroke-width="0.5"/>
<line x1="378.6" y1="433.6" x2="378.6" y2="434.8" stroke="#555" stroke-width="0.6"/>
<text x="378.6" y="437.8" font-size="3.7" fill="#777" text-anchor="middle">6</text>
<line x1="401.9" y1="413.8" x2="401.9" y2="415.2" stroke="#666" stroke-width="0.5"/>
<line x1="401.9" y1="433.6" x2="401.9" y2="434.8" stroke="#555" stroke-width="0.6"/>
<text x="401.9" y="437.8" font-size="3.7" fill="#777" text-anchor="middle">8</text>
<text x="355.2" y="441.5" font-size="4.6" fill="#111" text-anchor="middle" textLength="20" lengthAdjust="spacingAndGlyphs">Time (years)</text>
<text transform="translate(278.3,363.7) rotate(-90)" font-size="3.6" fill="#3a3a3a" font-weight="bold" text-anchor="middle" textLength="43" lengthAdjust="spacingAndGlyphs">Overall survival probability</text>
<text x="302.3" y="421.6" font-size="3.8" fill="#8a8a8a" text-anchor="end" textLength="22" lengthAdjust="spacingAndGlyphs">group=High exp</text>
<text x="302.3" y="429.9" font-size="3.8" fill="#8a8a8a" text-anchor="end" textLength="21.7" lengthAdjust="spacingAndGlyphs">group=Low exp</text>
<line x1="303.1" y1="420.3" x2="304.3" y2="420.3" stroke="#666" stroke-width="0.5"/>
<line x1="303.1" y1="428.6" x2="304.3" y2="428.6" stroke="#666" stroke-width="0.5"/>
<text transform="translate(278,424.5) rotate(-90)" font-size="4.2" font-weight="bold" fill="#333" text-anchor="middle">LTF</text>
<path d="M308.7 318.1H309.67V327.36H310.64V333.76H311.61V336.74H312.58V342.44H313.55V346.55H314.52V347.89H315.5V351.86H316.47V354.46H317.44V355.74H318.41V357.01H319.38V360.79H320.35V373.47H321.32V379.5H322.29V384.18H323.26V387.6H324.23V392.03H325.2V395.24H326.18V397.32H327.15V399.34H328.12V402.25H329.09V403.18H331.03V404.09H332V404.96H333.94V405.81H335.88V406.61H337.82V407.37H340.74V408.06H342.68V408.66H355.3" fill="none" stroke="#cf5f4e" stroke-width="0.75" stroke-dasharray="1.1 1.1" opacity="0.8"/>
<path d="M308.7 318.1H309.67V318.2H310.64V321.16H311.61V322.86H312.58V326.51H313.55V329.42H314.52V330.41H315.5V333.46H316.47V335.55H317.44V336.6H318.41V337.67H319.38V340.91H320.35V352.59H321.32V358.74H322.29V363.8H323.26V367.68H324.23V372.99H325.2V377.07H326.18V379.86H327.15V382.69H328.12V387.06H329.09V388.55H331.03V390.06H332V391.59H333.94V393.14H335.88V394.72H337.82V396.32H340.74V397.93H342.68V399.48H343.26" fill="none" stroke="#cf5f4e" stroke-width="0.75" stroke-dasharray="1.1 1.1" opacity="0.8"/>
<path d="M308.7 318.1H309.67V327.24H310.64V333.56H311.61V337.94H312.58V342.14H313.55V346.2H314.52V348.85H315.5V351.45H316.47V354.02H318.41V355.29H319.38V356.55H320.35V357.8H321.32V359.04H322.29V363.94H323.26V376.84H324.23V380.22H325.2V381.33H326.18V383.53H327.15V384.62H328.12V385.7H329.09V386.78H330.06V387.84H331.03V388.9H332V389.95H332.97V391H333.94V393.05H334.91V395.07H335.88V396.07H336.85V397.05H340.74V398.02H342.68V398.98H343.65V400.85H348.5V401.76H353.36V402.66H355.3V405.21H356.27V406.76H365.01V407.48H376.66V408.13H377.63V408.7H394.91" fill="none" stroke="#3479bf" stroke-width="0.75" stroke-dasharray="1.1 1.1" opacity="0.8"/>
<path d="M308.7 318.1H309.67V318.2H310.64V321.12H311.61V323.67H312.58V326.4H313.55V329.26H314.52V331.24H315.5V333.25H316.47V335.3H318.41V336.34H319.38V337.39H320.35V338.45H321.32V339.52H322.29V343.85H323.26V356.35H324.23V359.9H325.2V361.1H326.18V363.52H327.15V364.74H328.12V365.96H329.09V367.19H330.06V368.44H331.03V369.68H332V370.94H332.97V372.21H333.94V374.76H334.91V377.36H335.88V378.67H336.85V379.99H340.74V381.32H342.68V382.67H343.65V385.4H348.5V386.78H353.36V388.18H355.3V392.5H356.27V395.48H365.01V397H376.66V398.53H377.63V400H378.21" fill="none" stroke="#3479bf" stroke-width="0.75" stroke-dasharray="1.1 1.1" opacity="0.8"/>
<path d="M308.7 318.1H309.67V322.9H310.64V327.7H311.61V330.1H312.58V334.9H313.55V338.5H314.52V339.7H315.5V343.3H316.47V345.7H317.44V346.9H318.41V348.1H319.38V351.7H320.35V364.22H321.32V370.48H322.29V375.49H323.26V379.25H324.23V384.26H325.2V388.01H326.18V390.52H327.15V393.02H328.12V396.78H329.09V398.03H331.03V399.28H332V400.53H333.94V401.79H335.88V403.04H337.82V404.29H340.74V405.54H342.68V406.8H355.3" fill="none" stroke="#cf5f4e" stroke-width="1.15"/>
<line x1="319.38" y1="350.8" x2="319.38" y2="352.6" stroke="#cf5f4e" stroke-width="0.6"/>
<line x1="355.3" y1="405.9" x2="355.3" y2="407.7" stroke="#cf5f4e" stroke-width="0.6"/>
<line x1="355.3" y1="405.8" x2="355.3" y2="407.8" stroke="#cf5f4e" stroke-width="0.7"/>
<path d="M308.7 318.1H309.67V322.84H310.64V327.58H311.61V331.13H312.58V334.68H313.55V338.24H314.52V340.6H315.5V342.97H316.47V345.34H318.41V346.53H319.38V347.71H320.35V348.89H321.32V350.08H322.29V354.82H323.26V367.85H324.23V371.4H325.2V372.58H326.18V374.95H327.15V376.14H328.12V377.32H329.09V378.51H330.06V379.69H331.03V380.87H332V382.06H332.97V383.24H333.94V385.61H334.91V387.98H335.88V389.16H336.85V390.35H340.74V391.53H342.68V392.72H343.65V395.09H348.5V396.27H353.36V397.46H355.3V401.01H356.27V403.38H365.01V404.56H376.66V405.75H377.63V406.93H394.91" fill="none" stroke="#3479bf" stroke-width="1.15"/>
<line x1="394.91" y1="406.03" x2="394.91" y2="407.83" stroke="#3479bf" stroke-width="0.6"/>
<line x1="394.91" y1="405.93" x2="394.91" y2="407.93" stroke="#3479bf" stroke-width="0.7"/>
<line x1="308.7" y1="363.7" x2="323.26" y2="363.7" stroke="#777" stroke-width="0.7" stroke-dasharray="1.1 0.9"/>
<line x1="320.35" y1="363.7" x2="320.35" y2="409.3" stroke="#222" stroke-width="0.7" stroke-dasharray="1.1 0.9"/>
<line x1="323.26" y1="363.7" x2="323.26" y2="409.3" stroke="#222" stroke-width="0.7" stroke-dasharray="1.1 0.9"/>
<text x="342" y="320.3" font-size="3.9" fill="#333" stroke="#333" stroke-width="0.12" text-anchor="middle" textLength="27.5" lengthAdjust="spacingAndGlyphs">Log-rank P = 0.049</text>
<text x="342" y="325" font-size="3.9" fill="#333" stroke="#333" stroke-width="0.12" text-anchor="middle" textLength="27.5" lengthAdjust="spacingAndGlyphs">HR(High exp) = 1.47</text>
<text x="342" y="329.7" font-size="3.9" fill="#333" stroke="#333" stroke-width="0.12" text-anchor="middle" textLength="27.5" lengthAdjust="spacingAndGlyphs">95%CI: 1.00 - 2.15</text>
<text x="375.2" y="317.8" font-size="3.8" fill="#666">LTF</text>
<line x1="375.7" y1="322.5" x2="381.2" y2="322.5" stroke="#cf5f4e" stroke-width="1.1"/>
<line x1="375.7" y1="328.1" x2="381.2" y2="328.1" stroke="#3479bf" stroke-width="1.1"/>
<text x="382.5" y="323.8" font-size="3.9" fill="#333" stroke="#333" stroke-width="0.1" textLength="22.2" lengthAdjust="spacingAndGlyphs">group=High exp</text>
<text x="382.5" y="329.4" font-size="3.9" fill="#333" stroke="#333" stroke-width="0.1" textLength="21.7" lengthAdjust="spacingAndGlyphs">group=Low exp</text>
<text x="308.4" y="410.5" font-size="3.8" fill="#d9453a" textLength="35" lengthAdjust="spacingAndGlyphs">Median time: 1 and 1.2</text>
<text x="308.7" y="421.6" font-size="3.7" fill="#444" text-anchor="middle">76</text>
<text x="332" y="421.6" font-size="3.7" fill="#444" text-anchor="middle">8</text>
<text x="355.3" y="421.6" font-size="3.7" fill="#444" text-anchor="middle">2</text>
<text x="378.6" y="421.6" font-size="3.7" fill="#444" text-anchor="middle">0</text>
<text x="401.9" y="421.6" font-size="3.7" fill="#444" text-anchor="middle">0</text>
<text x="308.7" y="429.9" font-size="3.7" fill="#444" text-anchor="middle">77</text>
<text x="332" y="429.9" font-size="3.7" fill="#444" text-anchor="middle">24</text>
<text x="355.3" y="429.9" font-size="3.7" fill="#444" text-anchor="middle">10</text>
<text x="378.6" y="429.9" font-size="3.7" fill="#444" text-anchor="middle">2</text>
<text x="401.9" y="429.9" font-size="3.7" fill="#444" text-anchor="middle">0</text></g><g font-family="Liberation Serif, serif"><line x1="445.2" y1="415.8" x2="445.2" y2="433.6" stroke="#e4e4e4" stroke-width="0.4"/>
<line x1="456.85" y1="415.8" x2="456.85" y2="433.6" stroke="#ececec" stroke-width="0.4"/>
<line x1="468.5" y1="415.8" x2="468.5" y2="433.6" stroke="#e4e4e4" stroke-width="0.4"/>
<line x1="480.15" y1="415.8" x2="480.15" y2="433.6" stroke="#ececec" stroke-width="0.4"/>
<line x1="491.8" y1="415.8" x2="491.8" y2="433.6" stroke="#e4e4e4" stroke-width="0.4"/>
<line x1="503.45" y1="415.8" x2="503.45" y2="433.6" stroke="#ececec" stroke-width="0.4"/>
<line x1="515.1" y1="415.8" x2="515.1" y2="433.6" stroke="#e4e4e4" stroke-width="0.4"/>
<line x1="526.75" y1="415.8" x2="526.75" y2="433.6" stroke="#ececec" stroke-width="0.4"/>
<line x1="538.4" y1="415.8" x2="538.4" y2="433.6" stroke="#e4e4e4" stroke-width="0.4"/>
<line x1="441" y1="420.3" x2="543.2" y2="420.3" stroke="#ececec" stroke-width="0.4"/>
<line x1="441" y1="428.6" x2="543.2" y2="428.6" stroke="#ececec" stroke-width="0.4"/>
<line x1="441" y1="313.9" x2="543.2" y2="313.9" stroke="#f0f0f0" stroke-width="0.8"/>
<line x1="441" y1="414.2" x2="543.2" y2="414.2" stroke="#e6e6e6" stroke-width="1.4"/>
<line x1="441" y1="313.9" x2="441" y2="414.2" stroke="#999" stroke-width="0.9"/>
<line x1="441" y1="415.8" x2="441" y2="433.6" stroke="#999" stroke-width="0.9"/>
<line x1="441" y1="433.6" x2="543.2" y2="433.6" stroke="#9a9a9a" stroke-width="0.9"/>
<line x1="439.7" y1="409.3" x2="441" y2="409.3" stroke="#666" stroke-width="0.5"/>
<text x="439" y="410.6" font-size="3.6" fill="#777" text-anchor="end" textLength="4.9" lengthAdjust="spacingAndGlyphs">0.00</text>
<line x1="439.7" y1="386.5" x2="441" y2="386.5" stroke="#666" stroke-width="0.5"/>
<text x="439" y="387.8" font-size="3.6" fill="#777" text-anchor="end" textLength="4.9" lengthAdjust="spacingAndGlyphs">0.25</text>
<line x1="439.7" y1="363.7" x2="441" y2="363.7" stroke="#666" stroke-width="0.5"/>
<text x="439" y="365" font-size="3.6" fill="#777" text-anchor="end" textLength="4.9" lengthAdjust="spacingAndGlyphs">0.50</text>
<line x1="439.7" y1="340.9" x2="441" y2="340.9" stroke="#666" stroke-width="0.5"/>
<text x="439" y="342.2" font-size="3.6" fill="#777" text-anchor="end" textLength="4.9" lengthAdjust="spacingAndGlyphs">0.75</text>
<line x1="439.7" y1="318.1" x2="441" y2="318.1" stroke="#666" stroke-width="0.5"/>
<text x="439" y="319.4" font-size="3.6" fill="#777" text-anchor="end" textLength="4.9" lengthAdjust="spacingAndGlyphs">1.00</text>
<line x1="445.2" y1="413.8" x2="445.2" y2="415.2" stroke="#666" stroke-width="0.5"/>
<line x1="445.2" y1="433.6" x2="445.2" y2="434.8" stroke="#555" stroke-width="0.6"/>
<text x="445.2" y="437.8" font-size="3.7" fill="#777" text-anchor="middle">0</text>
<line x1="468.5" y1="413.8" x2="468.5" y2="415.2" stroke="#666" stroke-width="0.5"/>
<line x1="468.5" y1="433.6" x2="468.5" y2="434.8" stroke="#555" stroke-width="0.6"/>
<text x="468.5" y="437.8" font-size="3.7" fill="#777" text-anchor="middle">2</text>
<line x1="491.8" y1="413.8" x2="491.8" y2="415.2" stroke="#666" stroke-width="0.5"/>
<line x1="491.8" y1="433.6" x2="491.8" y2="434.8" stroke="#555" stroke-width="0.6"/>
<text x="491.8" y="437.8" font-size="3.7" fill="#777" text-anchor="middle">4</text>
<line x1="515.1" y1="413.8" x2="515.1" y2="415.2" stroke="#666" stroke-width="0.5"/>
<line x1="515.1" y1="433.6" x2="515.1" y2="434.8" stroke="#555" stroke-width="0.6"/>
<text x="515.1" y="437.8" font-size="3.7" fill="#777" text-anchor="middle">6</text>
<line x1="538.4" y1="413.8" x2="538.4" y2="415.2" stroke="#666" stroke-width="0.5"/>
<line x1="538.4" y1="433.6" x2="538.4" y2="434.8" stroke="#555" stroke-width="0.6"/>
<text x="538.4" y="437.8" font-size="3.7" fill="#777" text-anchor="middle">8</text>
<text x="491.7" y="441.5" font-size="4.6" fill="#111" text-anchor="middle" textLength="20" lengthAdjust="spacingAndGlyphs">Time (years)</text>
<text transform="translate(415,363.7) rotate(-90)" font-size="3.6" fill="#3a3a3a" font-weight="bold" text-anchor="middle" textLength="43" lengthAdjust="spacingAndGlyphs">Overall survival probability</text>
<text x="439" y="421.6" font-size="3.8" fill="#8a8a8a" text-anchor="end" textLength="22" lengthAdjust="spacingAndGlyphs">group=High exp</text>
<text x="439" y="429.9" font-size="3.8" fill="#8a8a8a" text-anchor="end" textLength="21.7" lengthAdjust="spacingAndGlyphs">group=Low exp</text>
<line x1="439.8" y1="420.3" x2="441" y2="420.3" stroke="#666" stroke-width="0.5"/>
<line x1="439.8" y1="428.6" x2="441" y2="428.6" stroke="#666" stroke-width="0.5"/>
<text transform="translate(414.7,424.5) rotate(-90)" font-size="4.2" font-weight="bold" fill="#333" text-anchor="middle">DDIT4L</text>
<path d="M445.2 318.1H446.17V332.22H447.14V339.62H448.11V346.55H449.08V353.16H450.05V354.46H451.02V357.01H452V358.28H452.97V360.79H453.94V363.27H454.91V365.71H455.88V369.33H456.85V371.7H457.82V377.88H458.79V383.85H459.76V388.46H460.73V391.81H461.7V395.06H462.68V398.2H463.65V401.21H464.62V403.11H466.56V404.02H468.5V404.91H473.35V405.77H477.24V406.58H482.09V407.35H484.03V408.05H487.92V408.65H513.82" fill="none" stroke="#cf5f4e" stroke-width="0.75" stroke-dasharray="1.1 1.1" opacity="0.8"/>
<path d="M445.2 318.1H446.17V320.35H447.14V324.65H448.11V329.42H449.08V334.5H450.05V335.55H451.02V337.67H452V338.74H452.97V340.91H453.94V343.11H454.91V345.34H455.88V348.74H456.85V351.04H457.82V357.15H458.79V363.48H459.76V368.7H460.73V372.71H461.7V376.82H462.68V381.04H463.65V385.39H464.62V388.37H466.56V389.89H468.5V391.43H473.35V393H477.24V394.59H482.09V396.2H484.03V397.82H487.92V399.39H488.5" fill="none" stroke="#cf5f4e" stroke-width="0.75" stroke-dasharray="1.1 1.1" opacity="0.8"/>
<path d="M445.2 318.1H446.17V328.9H447.14V335.05H448.11V339.36H449.08V343.51H451.02V346.25H452V347.61H453.94V348.98H454.91V351.68H455.88V354.35H456.85V356.97H457.82V364.63H458.79V372H459.76V374.39H460.73V379.25H461.7V382.81H462.68V383.98H465.59V385.14H466.56V386.29H467.53V387.43H468.5V389.68H469.47V394.07H470.44V395.13H471.41V396.19H472.38V397.23H473.35V399.27H477.24V400.26H479.18V403.14H488.89V404.05H491.8V405.78H492.77V407.35H493.74V408.05H494.71V408.66H531.41" fill="none" stroke="#3479bf" stroke-width="0.75" stroke-dasharray="1.1 1.1" opacity="0.8"/>
<path d="M445.2 318.1H446.17V318.85H447.14V321.94H448.11V324.56H449.08V327.34H451.02V329.28H452V330.28H453.94V331.29H454.91V333.36H455.88V335.47H456.85V337.61H457.82V344.27H458.79V351.22H459.76V353.59H460.73V358.53H461.7V362.32H462.68V363.6H465.59V364.89H466.56V366.19H467.53V367.49H468.5V370.13H469.47V375.54H470.44V376.92H471.41V378.31H472.38V379.71H473.35V382.56H477.24V384H479.18V388.44H488.89V389.95H491.8V393.06H492.77V396.25H493.74V397.87H494.71V399.42H495.29" fill="none" stroke="#3479bf" stroke-width="0.75" stroke-dasharray="1.1 1.1" opacity="0.8"/>
<path d="M445.2 318.1H446.17V326.5H447.14V332.5H448.11V338.5H449.08V344.5H450.05V345.7H451.02V348.1H452V349.3H452.97V351.7H453.94V354.1H454.91V356.5H455.88V360.1H456.85V362.5H457.82V368.82H458.79V375.15H459.76V380.21H460.73V384H461.7V387.8H462.68V391.59H463.65V395.39H464.62V397.92H466.56V399.18H468.5V400.45H473.35V401.71H477.24V402.98H482.09V404.24H484.03V405.51H487.92V406.77H513.82" fill="none" stroke="#cf5f4e" stroke-width="1.15"/>
<line x1="456.85" y1="361.6" x2="456.85" y2="363.4" stroke="#cf5f4e" stroke-width="0.6"/>
<line x1="513.82" y1="405.87" x2="513.82" y2="407.67" stroke="#cf5f4e" stroke-width="0.6"/>
<line x1="513.82" y1="405.77" x2="513.82" y2="407.77" stroke="#cf5f4e" stroke-width="0.7"/>
<path d="M445.2 318.1H446.17V324.02H447.14V328.76H448.11V332.31H449.08V335.87H451.02V338.27H452V339.48H453.94V340.7H454.91V343.15H455.88V345.6H456.85V348.05H457.82V355.4H458.79V362.75H459.76V365.2H460.73V370.24H461.7V374.02H462.68V375.28H465.59V376.54H466.56V377.8H467.53V379.06H468.5V381.58H469.47V386.62H470.44V387.88H471.41V389.14H472.38V390.4H473.35V392.92H477.24V394.18H479.18V397.96H488.89V399.22H491.8V401.74H492.77V404.26H493.74V405.52H494.71V406.78H531.41" fill="none" stroke="#3479bf" stroke-width="1.15"/>
<line x1="449.08" y1="334.97" x2="449.08" y2="336.77" stroke="#3479bf" stroke-width="0.6"/>
<line x1="452.97" y1="338.58" x2="452.97" y2="340.38" stroke="#3479bf" stroke-width="0.6"/>
<line x1="459.76" y1="364.3" x2="459.76" y2="366.1" stroke="#3479bf" stroke-width="0.6"/>
<line x1="531.41" y1="405.88" x2="531.41" y2="407.68" stroke="#3479bf" stroke-width="0.6"/>
<line x1="531.41" y1="405.78" x2="531.41" y2="407.78" stroke="#3479bf" stroke-width="0.7"/>
<line x1="445.2" y1="363.7" x2="459.76" y2="363.7" stroke="#777" stroke-width="0.7" stroke-dasharray="1.1 0.9"/>
<line x1="457.82" y1="363.7" x2="457.82" y2="409.3" stroke="#222" stroke-width="0.7" stroke-dasharray="1.1 0.9"/>
<line x1="459.76" y1="363.7" x2="459.76" y2="409.3" stroke="#222" stroke-width="0.7" stroke-dasharray="1.1 0.9"/>
<text x="478.5" y="320.3" font-size="3.9" fill="#333" stroke="#333" stroke-width="0.12" text-anchor="middle" textLength="27.5" lengthAdjust="spacingAndGlyphs">Log-rank P = 0.037</text>
<text x="478.5" y="325" font-size="3.9" fill="#333" stroke="#333" stroke-width="0.12" text-anchor="middle" textLength="27.5" lengthAdjust="spacingAndGlyphs">HR(High exp) = 1.66</text>
<text x="478.5" y="329.7" font-size="3.9" fill="#333" stroke="#333" stroke-width="0.12" text-anchor="middle" textLength="27.5" lengthAdjust="spacingAndGlyphs">95%CI: 1.03 - 2.37</text>
<text x="511.7" y="317.8" font-size="3.8" fill="#666">DDIT4L</text>
<line x1="512.2" y1="322.5" x2="517.7" y2="322.5" stroke="#cf5f4e" stroke-width="1.1"/>
<line x1="512.2" y1="328.1" x2="517.7" y2="328.1" stroke="#3479bf" stroke-width="1.1"/>
<text x="519" y="323.8" font-size="3.9" fill="#333" stroke="#333" stroke-width="0.1" textLength="22.2" lengthAdjust="spacingAndGlyphs">group=High exp</text>
<text x="519" y="329.4" font-size="3.9" fill="#333" stroke="#333" stroke-width="0.1" textLength="21.7" lengthAdjust="spacingAndGlyphs">group=Low exp</text>
<text x="444.9" y="410.5" font-size="3.8" fill="#d9453a" textLength="35" lengthAdjust="spacingAndGlyphs">Median time: 1.1 and 1.2</text>
<text x="445.2" y="421.6" font-size="3.7" fill="#444" text-anchor="middle">76</text>
<text x="468.5" y="421.6" font-size="3.7" fill="#444" text-anchor="middle">8</text>
<text x="491.8" y="421.6" font-size="3.7" fill="#444" text-anchor="middle">2</text>
<text x="515.1" y="421.6" font-size="3.7" fill="#444" text-anchor="middle">0</text>
<text x="538.4" y="421.6" font-size="3.7" fill="#444" text-anchor="middle">0</text>
<text x="445.2" y="429.9" font-size="3.7" fill="#444" text-anchor="middle">77</text>
<text x="468.5" y="429.9" font-size="3.7" fill="#444" text-anchor="middle">24</text>
<text x="491.8" y="429.9" font-size="3.7" fill="#444" text-anchor="middle">8</text>
<text x="515.1" y="429.9" font-size="3.7" fill="#444" text-anchor="middle">2</text>
<text x="538.4" y="429.9" font-size="3.7" fill="#444" text-anchor="middle">0</text></g><g font-family="Liberation Serif, serif"><line x1="581.3" y1="415.8" x2="581.3" y2="433.6" stroke="#e4e4e4" stroke-width="0.4"/>
<line x1="592.95" y1="415.8" x2="592.95" y2="433.6" stroke="#ececec" stroke-width="0.4"/>
<line x1="604.6" y1="415.8" x2="604.6" y2="433.6" stroke="#e4e4e4" stroke-width="0.4"/>
<line x1="616.25" y1="415.8" x2="616.25" y2="433.6" stroke="#ececec" stroke-width="0.4"/>
<line x1="627.9" y1="415.8" x2="627.9" y2="433.6" stroke="#e4e4e4" stroke-width="0.4"/>
<line x1="639.55" y1="415.8" x2="639.55" y2="433.6" stroke="#ececec" stroke-width="0.4"/>
<line x1="651.2" y1="415.8" x2="651.2" y2="433.6" stroke="#e4e4e4" stroke-width="0.4"/>
<line x1="662.85" y1="415.8" x2="662.85" y2="433.6" stroke="#ececec" stroke-width="0.4"/>
<line x1="674.5" y1="415.8" x2="674.5" y2="433.6" stroke="#e4e4e4" stroke-width="0.4"/>
<line x1="576.4" y1="420.3" x2="679.3" y2="420.3" stroke="#ececec" stroke-width="0.4"/>
<line x1="576.4" y1="428.6" x2="679.3" y2="428.6" stroke="#ececec" stroke-width="0.4"/>
<line x1="576.4" y1="313.9" x2="679.3" y2="313.9" stroke="#f0f0f0" stroke-width="0.8"/>
<line x1="576.4" y1="414.2" x2="679.3" y2="414.2" stroke="#e6e6e6" stroke-width="1.4"/>
<line x1="576.4" y1="313.9" x2="576.4" y2="414.2" stroke="#999" stroke-width="0.9"/>
<line x1="576.4" y1="415.8" x2="576.4" y2="433.6" stroke="#999" stroke-width="0.9"/>
<line x1="576.4" y1="433.6" x2="679.3" y2="433.6" stroke="#9a9a9a" stroke-width="0.9"/>
<line x1="575.1" y1="409.3" x2="576.4" y2="409.3" stroke="#666" stroke-width="0.5"/>
<text x="574.4" y="410.6" font-size="3.6" fill="#777" text-anchor="end" textLength="4.9" lengthAdjust="spacingAndGlyphs">0.00</text>
<line x1="575.1" y1="386.5" x2="576.4" y2="386.5" stroke="#666" stroke-width="0.5"/>
<text x="574.4" y="387.8" font-size="3.6" fill="#777" text-anchor="end" textLength="4.9" lengthAdjust="spacingAndGlyphs">0.25</text>
<line x1="575.1" y1="363.7" x2="576.4" y2="363.7" stroke="#666" stroke-width="0.5"/>
<text x="574.4" y="365" font-size="3.6" fill="#777" text-anchor="end" textLength="4.9" lengthAdjust="spacingAndGlyphs">0.50</text>
<line x1="575.1" y1="340.9" x2="576.4" y2="340.9" stroke="#666" stroke-width="0.5"/>
<text x="574.4" y="342.2" font-size="3.6" fill="#777" text-anchor="end" textLength="4.9" lengthAdjust="spacingAndGlyphs">0.75</text>
<line x1="575.1" y1="318.1" x2="576.4" y2="318.1" stroke="#666" stroke-width="0.5"/>
<text x="574.4" y="319.4" font-size="3.6" fill="#777" text-anchor="end" textLength="4.9" lengthAdjust="spacingAndGlyphs">1.00</text>
<line x1="581.3" y1="413.8" x2="581.3" y2="415.2" stroke="#666" stroke-width="0.5"/>
<line x1="581.3" y1="433.6" x2="581.3" y2="434.8" stroke="#555" stroke-width="0.6"/>
<text x="581.3" y="437.8" font-size="3.7" fill="#777" text-anchor="middle">0</text>
<line x1="604.6" y1="413.8" x2="604.6" y2="415.2" stroke="#666" stroke-width="0.5"/>
<line x1="604.6" y1="433.6" x2="604.6" y2="434.8" stroke="#555" stroke-width="0.6"/>
<text x="604.6" y="437.8" font-size="3.7" fill="#777" text-anchor="middle">2</text>
<line x1="627.9" y1="413.8" x2="627.9" y2="415.2" stroke="#666" stroke-width="0.5"/>
<line x1="627.9" y1="433.6" x2="627.9" y2="434.8" stroke="#555" stroke-width="0.6"/>
<text x="627.9" y="437.8" font-size="3.7" fill="#777" text-anchor="middle">4</text>
<line x1="651.2" y1="413.8" x2="651.2" y2="415.2" stroke="#666" stroke-width="0.5"/>
<line x1="651.2" y1="433.6" x2="651.2" y2="434.8" stroke="#555" stroke-width="0.6"/>
<text x="651.2" y="437.8" font-size="3.7" fill="#777" text-anchor="middle">6</text>
<line x1="674.5" y1="413.8" x2="674.5" y2="415.2" stroke="#666" stroke-width="0.5"/>
<line x1="674.5" y1="433.6" x2="674.5" y2="434.8" stroke="#555" stroke-width="0.6"/>
<text x="674.5" y="437.8" font-size="3.7" fill="#777" text-anchor="middle">8</text>
<text x="627.8" y="441.5" font-size="4.6" fill="#111" text-anchor="middle" textLength="20" lengthAdjust="spacingAndGlyphs">Time (years)</text>
<text transform="translate(550.4,363.7) rotate(-90)" font-size="3.6" fill="#3a3a3a" font-weight="bold" text-anchor="middle" textLength="43" lengthAdjust="spacingAndGlyphs">Overall survival probability</text>
<text x="574.4" y="421.6" font-size="3.8" fill="#8a8a8a" text-anchor="end" textLength="22" lengthAdjust="spacingAndGlyphs">group=High exp</text>
<text x="574.4" y="429.9" font-size="3.8" fill="#8a8a8a" text-anchor="end" textLength="21.7" lengthAdjust="spacingAndGlyphs">group=Low exp</text>
<line x1="575.2" y1="420.3" x2="576.4" y2="420.3" stroke="#666" stroke-width="0.5"/>
<line x1="575.2" y1="428.6" x2="576.4" y2="428.6" stroke="#666" stroke-width="0.5"/>
<text transform="translate(550.1,424.5) rotate(-90)" font-size="4.2" font-weight="bold" fill="#333" text-anchor="middle">C1S</text>
<path d="M581.3 318.1H582.27V330.65H583.24V336.74H584.21V342.44H585.18V347.89H586.15V351.86H587.12V354.51H588.1V357.12H589.07V359.7H590.04V362.24H591.01V363.5H591.98V367.23H592.95V373.3H593.92V379.18H594.89V382.62H595.86V385.99H596.83V389.43H597.8V392.78H598.77V396.03H599.75V397.09H600.72V398.13H601.69V399.15H602.66V400.16H603.63V402.12H605.57V403.07H607.51V403.99H609.45V404.88H611.4V405.74H613.34V406.56H620.13V407.33H628.6" fill="none" stroke="#cf5f4e" stroke-width="0.75" stroke-dasharray="1.1 1.1" opacity="0.8"/>
<path d="M581.3 318.1H582.27V319.58H583.24V322.86H584.21V326.51H585.18V330.41H586.15V333.46H587.12V335.57H588.1V337.72H589.07V339.91H590.04V342.13H591.01V343.25H591.98V346.66H592.95V352.5H593.92V358.52H594.89V362.22H595.86V365.99H596.83V369.94H597.8V373.98H598.77V378.13H599.75V379.54H600.72V380.96H601.69V382.39H602.66V383.84H603.63V386.79H605.57V388.3H607.51V389.82H609.45V391.37H611.4V392.94H613.34V394.53H620.13V396.15H620.72" fill="none" stroke="#cf5f4e" stroke-width="0.75" stroke-dasharray="1.1 1.1" opacity="0.8"/>
<path d="M581.3 318.1H582.27V328.9H583.24V335.05H584.21V339.36H585.18V344.86H586.15V346.2H587.12V347.53H588.1V348.85H589.07V351.45H590.04V352.74H591.01V356.55H591.98V357.8H592.95V360.28H593.92V367.54H594.89V373.41H595.86V377.97H596.83V381.33H597.8V383.53H598.77V385.7H599.75V387.84H601.69V388.9H602.66V389.95H603.63V392.03H604.6V393.05H606.54V394.07H607.51V395.07H608.48V396.07H609.45V397.05H610.42V398.02H611.4V398.98H612.37V399.92H613.34V400.85H615.28V401.76H618.19V402.66H620.13V403.53H624.02V404.38H624.99V405.21H626.93V406H627.9V406.76H628.87V407.48H629.84V408.7H667.51" fill="none" stroke="#3479bf" stroke-width="0.75" stroke-dasharray="1.1 1.1" opacity="0.8"/>
<path d="M581.3 318.1H582.27V318.85H583.24V321.94H584.21V324.56H585.18V328.29H586.15V329.26H587.12V330.24H588.1V331.24H589.07V333.25H590.04V334.27H591.01V337.39H591.98V338.45H592.95V340.59H593.92V347.18H594.89V352.86H595.86V357.53H596.83V361.1H597.8V363.52H598.77V365.96H599.75V368.44H601.69V369.68H602.66V370.94H603.63V373.48H604.6V374.76H606.54V376.05H607.51V377.36H608.48V378.67H609.45V379.99H610.42V381.32H611.4V382.67H612.37V384.03H613.34V385.4H615.28V386.78H618.19V388.18H620.13V389.6H624.02V391.04H624.99V392.5H626.93V393.98H627.9V395.48H628.87V397H629.84V400H630.42" fill="none" stroke="#3479bf" stroke-width="0.75" stroke-dasharray="1.1 1.1" opacity="0.8"/>
<path d="M581.3 318.1H582.27V325.3H583.24V330.1H584.21V334.9H585.18V339.7H586.15V343.3H587.12V345.74H588.1V348.19H589.07V350.63H590.04V353.08H591.01V354.3H591.98V357.97H592.95V364.08H593.92V370.19H594.89V373.86H595.86V377.52H596.83V381.34H597.8V385.15H598.77V388.96H599.75V390.23H600.72V391.5H601.69V392.78H602.66V394.05H603.63V396.59H605.57V397.86H607.51V399.13H609.45V400.4H611.4V401.67H613.34V402.94H620.13V404.22H628.6" fill="none" stroke="#cf5f4e" stroke-width="1.15"/>
<line x1="586.15" y1="342.4" x2="586.15" y2="344.2" stroke="#cf5f4e" stroke-width="0.6"/>
<line x1="595.86" y1="376.62" x2="595.86" y2="378.42" stroke="#cf5f4e" stroke-width="0.6"/>
<line x1="628.6" y1="403.32" x2="628.6" y2="405.12" stroke="#cf5f4e" stroke-width="0.6"/>
<line x1="628.6" y1="403.22" x2="628.6" y2="405.22" stroke="#cf5f4e" stroke-width="0.7"/>
<path d="M581.3 318.1H582.27V324.02H583.24V328.76H584.21V332.31H585.18V337.05H586.15V338.24H587.12V339.42H588.1V340.6H589.07V342.97H590.04V344.16H591.01V347.71H591.98V348.89H592.95V351.26H593.92V358.37H594.89V364.29H595.86V369.03H596.83V372.58H597.8V374.95H598.77V377.32H599.75V379.69H601.69V380.87H602.66V382.06H603.63V384.43H604.6V385.61H606.54V386.8H607.51V387.98H608.48V389.16H609.45V390.35H610.42V391.53H611.4V392.72H612.37V393.9H613.34V395.09H615.28V396.27H618.19V397.46H620.13V398.64H624.02V399.82H624.99V401.01H626.93V402.19H627.9V403.38H628.87V404.56H629.84V406.93H667.51" fill="none" stroke="#3479bf" stroke-width="1.15"/>
<line x1="667.51" y1="406.03" x2="667.51" y2="407.83" stroke="#3479bf" stroke-width="0.6"/>
<line x1="667.51" y1="405.93" x2="667.51" y2="407.93" stroke="#3479bf" stroke-width="0.7"/>
<line x1="649.8" y1="405.83" x2="649.8" y2="408.03" stroke="#cf5f4e" stroke-width="0.8"/>
<line x1="581.3" y1="363.7" x2="594.89" y2="363.7" stroke="#777" stroke-width="0.7" stroke-dasharray="1.1 0.9"/>
<line x1="592.95" y1="363.7" x2="592.95" y2="409.3" stroke="#222" stroke-width="0.7" stroke-dasharray="1.1 0.9"/>
<line x1="594.89" y1="363.7" x2="594.89" y2="409.3" stroke="#222" stroke-width="0.7" stroke-dasharray="1.1 0.9"/>
<text x="614.6" y="320.3" font-size="3.9" fill="#333" stroke="#333" stroke-width="0.12" text-anchor="middle" textLength="27.5" lengthAdjust="spacingAndGlyphs">Log-rank P = 0.022</text>
<text x="614.6" y="325" font-size="3.9" fill="#333" stroke="#333" stroke-width="0.12" text-anchor="middle" textLength="27.5" lengthAdjust="spacingAndGlyphs">HR(High exp) = 1.49</text>
<text x="614.6" y="329.7" font-size="3.9" fill="#333" stroke="#333" stroke-width="0.12" text-anchor="middle" textLength="27.5" lengthAdjust="spacingAndGlyphs">95%CI: 1.04 - 2.14</text>
<text x="647.8" y="317.8" font-size="3.8" fill="#666">C1S</text>
<line x1="648.3" y1="322.5" x2="653.8" y2="322.5" stroke="#cf5f4e" stroke-width="1.1"/>
<line x1="648.3" y1="328.1" x2="653.8" y2="328.1" stroke="#3479bf" stroke-width="1.1"/>
<text x="655.1" y="323.8" font-size="3.9" fill="#333" stroke="#333" stroke-width="0.1" textLength="22.2" lengthAdjust="spacingAndGlyphs">group=High exp</text>
<text x="655.1" y="329.4" font-size="3.9" fill="#333" stroke="#333" stroke-width="0.1" textLength="21.7" lengthAdjust="spacingAndGlyphs">group=Low exp</text>
<text x="581" y="410.5" font-size="3.8" fill="#d9453a" textLength="35" lengthAdjust="spacingAndGlyphs">Median time: 1 and 1.2</text>
<text x="581.3" y="421.6" font-size="3.7" fill="#444" text-anchor="middle">76</text>
<text x="604.6" y="421.6" font-size="3.7" fill="#444" text-anchor="middle">10</text>
<text x="627.9" y="421.6" font-size="3.7" fill="#444" text-anchor="middle">4</text>
<text x="651.2" y="421.6" font-size="3.7" fill="#444" text-anchor="middle">0</text>
<text x="674.5" y="421.6" font-size="3.7" fill="#444" text-anchor="middle">0</text>
<text x="581.3" y="429.9" font-size="3.7" fill="#444" text-anchor="middle">77</text>
<text x="604.6" y="429.9" font-size="3.7" fill="#444" text-anchor="middle">21</text>
<text x="627.9" y="429.9" font-size="3.7" fill="#444" text-anchor="middle">6</text>
<text x="651.2" y="429.9" font-size="3.7" fill="#444" text-anchor="middle">2</text>
<text x="674.5" y="429.9" font-size="3.7" fill="#444" text-anchor="middle">0</text></g><g font-family="Liberation Serif, serif"><line x1="36.4" y1="551.5" x2="36.4" y2="569.3" stroke="#e4e4e4" stroke-width="0.4"/>
<line x1="48.05" y1="551.5" x2="48.05" y2="569.3" stroke="#ececec" stroke-width="0.4"/>
<line x1="59.7" y1="551.5" x2="59.7" y2="569.3" stroke="#e4e4e4" stroke-width="0.4"/>
<line x1="71.35" y1="551.5" x2="71.35" y2="569.3" stroke="#ececec" stroke-width="0.4"/>
<line x1="83" y1="551.5" x2="83" y2="569.3" stroke="#e4e4e4" stroke-width="0.4"/>
<line x1="94.65" y1="551.5" x2="94.65" y2="569.3" stroke="#ececec" stroke-width="0.4"/>
<line x1="106.3" y1="551.5" x2="106.3" y2="569.3" stroke="#e4e4e4" stroke-width="0.4"/>
<line x1="117.95" y1="551.5" x2="117.95" y2="569.3" stroke="#ececec" stroke-width="0.4"/>
<line x1="129.6" y1="551.5" x2="129.6" y2="569.3" stroke="#e4e4e4" stroke-width="0.4"/>
<line x1="32.1" y1="556" x2="134.4" y2="556" stroke="#ececec" stroke-width="0.4"/>
<line x1="32.1" y1="564.3" x2="134.4" y2="564.3" stroke="#ececec" stroke-width="0.4"/>
<line x1="32.1" y1="449.5" x2="134.4" y2="449.5" stroke="#8c8c8c" stroke-width="0.8"/>
<line x1="32.1" y1="549.9" x2="134.4" y2="549.9" stroke="#e6e6e6" stroke-width="1.4"/>
<line x1="32.1" y1="449.5" x2="32.1" y2="549.9" stroke="#999" stroke-width="0.9"/>
<line x1="32.1" y1="551.5" x2="32.1" y2="569.3" stroke="#999" stroke-width="0.9"/>
<line x1="32.1" y1="569.3" x2="134.4" y2="569.3" stroke="#9a9a9a" stroke-width="0.9"/>
<line x1="30.8" y1="545" x2="32.1" y2="545" stroke="#666" stroke-width="0.5"/>
<text x="30.1" y="546.3" font-size="3.6" fill="#777" text-anchor="end" textLength="4.9" lengthAdjust="spacingAndGlyphs">0.00</text>
<line x1="30.8" y1="522.3" x2="32.1" y2="522.3" stroke="#666" stroke-width="0.5"/>
<text x="30.1" y="523.6" font-size="3.6" fill="#777" text-anchor="end" textLength="4.9" lengthAdjust="spacingAndGlyphs">0.25</text>
<line x1="30.8" y1="499.6" x2="32.1" y2="499.6" stroke="#666" stroke-width="0.5"/>
<text x="30.1" y="500.9" font-size="3.6" fill="#777" text-anchor="end" textLength="4.9" lengthAdjust="spacingAndGlyphs">0.50</text>
<line x1="30.8" y1="476.9" x2="32.1" y2="476.9" stroke="#666" stroke-width="0.5"/>
<text x="30.1" y="478.2" font-size="3.6" fill="#777" text-anchor="end" textLength="4.9" lengthAdjust="spacingAndGlyphs">0.75</text>
<line x1="30.8" y1="454.2" x2="32.1" y2="454.2" stroke="#666" stroke-width="0.5"/>
<text x="30.1" y="455.5" font-size="3.6" fill="#777" text-anchor="end" textLength="4.9" lengthAdjust="spacingAndGlyphs">1.00</text>
<line x1="36.4" y1="549.5" x2="36.4" y2="550.9" stroke="#666" stroke-width="0.5"/>
<line x1="36.4" y1="569.3" x2="36.4" y2="570.5" stroke="#555" stroke-width="0.6"/>
<text x="36.4" y="573.5" font-size="3.7" fill="#777" text-anchor="middle">0</text>
<line x1="59.7" y1="549.5" x2="59.7" y2="550.9" stroke="#666" stroke-width="0.5"/>
<line x1="59.7" y1="569.3" x2="59.7" y2="570.5" stroke="#555" stroke-width="0.6"/>
<text x="59.7" y="573.5" font-size="3.7" fill="#777" text-anchor="middle">2</text>
<line x1="83" y1="549.5" x2="83" y2="550.9" stroke="#666" stroke-width="0.5"/>
<line x1="83" y1="569.3" x2="83" y2="570.5" stroke="#555" stroke-width="0.6"/>
<text x="83" y="573.5" font-size="3.7" fill="#777" text-anchor="middle">4</text>
<line x1="106.3" y1="549.5" x2="106.3" y2="550.9" stroke="#666" stroke-width="0.5"/>
<line x1="106.3" y1="569.3" x2="106.3" y2="570.5" stroke="#555" stroke-width="0.6"/>
<text x="106.3" y="573.5" font-size="3.7" fill="#777" text-anchor="middle">6</text>
<line x1="129.6" y1="549.5" x2="129.6" y2="550.9" stroke="#666" stroke-width="0.5"/>
<line x1="129.6" y1="569.3" x2="129.6" y2="570.5" stroke="#555" stroke-width="0.6"/>
<text x="129.6" y="573.5" font-size="3.7" fill="#777" text-anchor="middle">8</text>
<text x="82.9" y="577.2" font-size="4.6" fill="#111" text-anchor="middle" textLength="20" lengthAdjust="spacingAndGlyphs">Time (years)</text>
<text transform="translate(6.1,499.6) rotate(-90)" font-size="3.6" fill="#3a3a3a" font-weight="bold" text-anchor="middle" textLength="43" lengthAdjust="spacingAndGlyphs">Overall survival probability</text>
<text x="30.1" y="557.3" font-size="3.8" fill="#8a8a8a" text-anchor="end" textLength="22" lengthAdjust="spacingAndGlyphs">group=High exp</text>
<text x="30.1" y="565.6" font-size="3.8" fill="#8a8a8a" text-anchor="end" textLength="21.7" lengthAdjust="spacingAndGlyphs">group=Low exp</text>
<line x1="30.9" y1="556" x2="32.1" y2="556" stroke="#666" stroke-width="0.5"/>
<line x1="30.9" y1="564.3" x2="32.1" y2="564.3" stroke="#666" stroke-width="0.5"/>
<text transform="translate(5.8,560.2) rotate(-90)" font-size="4.2" font-weight="bold" fill="#333" text-anchor="middle">CHI3L2</text>
<path d="M36.4 454.2H37.37V468.26H38.34V475.63H39.31V482.52H40.28V486.51H41.25V489.11H42.23V492.94H43.2V495.46H44.17V499.17H45.14V502.81H46.11V506.39H47.08V509.91H48.05V514.5H49.02V517.87H49.99V521.17H50.96V523.34H51.93V525.47H52.9V527.56H53.88V529.62H54.85V531.64H55.82V532.63H56.79V533.61H57.76V534.58H59.7V535.62H60.67V537.64H61.64V539.57H62.61V540.49H63.58V541.37H65.53V542.21H68.44V543H70.38V543.71H71.35V544.34H83.7" fill="none" stroke="#cf5f4e" stroke-width="0.75" stroke-dasharray="1.1 1.1" opacity="0.8"/>
<path d="M36.4 454.2H37.37V456.44H38.34V460.72H39.31V465.47H40.28V468.47H41.25V470.53H42.23V473.68H43.2V475.83H44.17V479.1H45.14V482.44H46.11V485.85H47.08V489.32H48.05V494.04H49.02V497.65H49.99V501.33H50.96V503.82H51.93V506.34H52.9V508.9H53.88V511.49H54.85V514.12H55.82V515.46H56.79V516.8H57.76V518.15H59.7V519.58H60.67V522.5H61.64V525.5H62.61V527.03H63.58V528.59H65.53V530.18H68.44V531.79H70.38V533.41H71.35V534.98H71.93" fill="none" stroke="#cf5f4e" stroke-width="0.75" stroke-dasharray="1.1 1.1" opacity="0.8"/>
<path d="M36.4 454.2H37.37V463.3H38.34V468.08H39.31V472.52H40.28V476.76H42.23V478.13H43.2V480.84H44.17V483.5H45.14V484.81H46.11V486.11H47.08V488.69H48.05V491.22H49.02V497.42H49.99V503.43H50.96V508.11H51.93V516.05H52.9V520.43H53.88V522.58H54.85V524.69H55.82V525.74H56.79V527.8H57.76V528.82H59.7V529.83H61.64V530.83H63.58V531.82H68.44V532.8H69.41V533.77H70.38V535.66H71.35V536.59H75.23V537.49H78.15V538.39H80.09V539.26H82.03V540.1H83V541.72H83.97V542.47H84.94V543.18H105.33V544.4H122.61" fill="none" stroke="#3479bf" stroke-width="0.75" stroke-dasharray="1.1 1.1" opacity="0.8"/>
<path d="M36.4 454.2H37.37V454.3H38.34V456.41H39.31V458.87H40.28V461.54H42.23V462.46H43.2V464.35H44.17V466.29H45.14V467.28H46.11V468.28H47.08V470.3H48.05V472.36H49.02V477.67H49.99V483.15H50.96V487.67H51.93V495.82H52.9V500.63H53.88V503.08H54.85V505.56H55.82V506.81H56.79V509.34H57.76V510.61H59.7V511.9H61.64V513.2H63.58V514.5H68.44V515.82H69.41V517.14H70.38V519.84H71.35V521.2H75.23V522.58H78.15V523.98H80.09V525.39H82.03V526.82H83V529.74H83.97V531.24H84.94V532.75H105.33V535.74H105.91" fill="none" stroke="#3479bf" stroke-width="0.75" stroke-dasharray="1.1 1.1" opacity="0.8"/>
<path d="M36.4 454.2H37.37V462.56H38.34V468.54H39.31V474.51H40.28V478.09H41.25V480.48H42.23V484.07H43.2V486.46H44.17V490.04H45.14V493.63H46.11V497.21H47.08V500.79H48.05V505.57H49.02V509.16H49.99V512.74H50.96V515.13H51.93V517.52H52.9V519.91H53.88V522.3H54.85V524.69H55.82V525.88H56.79V527.08H57.76V528.27H59.7V529.56H60.67V532.13H61.64V534.71H62.61V535.99H63.58V537.28H65.53V538.57H68.44V539.85H70.38V541.14H71.35V542.43H83.7" fill="none" stroke="#cf5f4e" stroke-width="1.15"/>
<line x1="58.73" y1="527.37" x2="58.73" y2="529.17" stroke="#cf5f4e" stroke-width="0.6"/>
<line x1="83.7" y1="541.53" x2="83.7" y2="543.33" stroke="#cf5f4e" stroke-width="0.6"/>
<line x1="83.7" y1="541.43" x2="83.7" y2="543.43" stroke="#cf5f4e" stroke-width="0.7"/>
<path d="M36.4 454.2H37.37V458.92H38.34V462.45H39.31V465.99H40.28V469.53H42.23V470.71H43.2V473.07H44.17V475.43H45.14V476.61H46.11V477.78H47.08V480.14H48.05V482.5H49.02V488.4H49.99V494.29H50.96V499.01H51.93V507.26H52.9V511.98H53.88V514.34H54.85V516.7H55.82V517.88H56.79V520.24H57.76V521.42H59.7V522.59H61.64V523.77H63.58V524.95H68.44V526.13H69.41V527.31H70.38V529.67H71.35V530.85H75.23V532.03H78.15V533.21H80.09V534.39H82.03V535.57H83V537.92H83.97V539.1H84.94V540.28H105.33V542.64H122.61" fill="none" stroke="#3479bf" stroke-width="1.15"/>
<line x1="122.61" y1="541.74" x2="122.61" y2="543.54" stroke="#3479bf" stroke-width="0.6"/>
<line x1="122.61" y1="541.64" x2="122.61" y2="543.64" stroke="#3479bf" stroke-width="0.7"/>
<line x1="36.4" y1="499.6" x2="51.93" y2="499.6" stroke="#777" stroke-width="0.7" stroke-dasharray="1.1 0.9"/>
<line x1="47.08" y1="499.6" x2="47.08" y2="545" stroke="#222" stroke-width="0.7" stroke-dasharray="1.1 0.9"/>
<line x1="51.93" y1="499.6" x2="51.93" y2="545" stroke="#222" stroke-width="0.7" stroke-dasharray="1.1 0.9"/>
<text x="69.7" y="456.4" font-size="3.9" fill="#333" stroke="#333" stroke-width="0.12" text-anchor="middle" textLength="27.5" lengthAdjust="spacingAndGlyphs">Log-rank P = 0.018</text>
<text x="69.7" y="461.1" font-size="3.9" fill="#333" stroke="#333" stroke-width="0.12" text-anchor="middle" textLength="27.5" lengthAdjust="spacingAndGlyphs">HR(High exp) = 1.65</text>
<text x="69.7" y="465.8" font-size="3.9" fill="#333" stroke="#333" stroke-width="0.12" text-anchor="middle" textLength="27.5" lengthAdjust="spacingAndGlyphs">95%CI: 1.09 - 2.46</text>
<text x="102.9" y="453.9" font-size="3.8" fill="#666">CHI3L2</text>
<line x1="103.4" y1="458.6" x2="108.9" y2="458.6" stroke="#cf5f4e" stroke-width="1.1"/>
<line x1="103.4" y1="464.2" x2="108.9" y2="464.2" stroke="#3479bf" stroke-width="1.1"/>
<text x="110.2" y="459.9" font-size="3.9" fill="#333" stroke="#333" stroke-width="0.1" textLength="22.2" lengthAdjust="spacingAndGlyphs">group=High exp</text>
<text x="110.2" y="465.5" font-size="3.9" fill="#333" stroke="#333" stroke-width="0.1" textLength="21.7" lengthAdjust="spacingAndGlyphs">group=Low exp</text>
<text x="36.1" y="546.2" font-size="3.8" fill="#d9453a" textLength="35" lengthAdjust="spacingAndGlyphs">Median time: 0.92 and 1.3</text>
<text x="36.4" y="557.3" font-size="3.7" fill="#444" text-anchor="middle">76</text>
<text x="59.7" y="557.3" font-size="3.7" fill="#444" text-anchor="middle">13</text>
<text x="83" y="557.3" font-size="3.7" fill="#444" text-anchor="middle">2</text>
<text x="106.3" y="557.3" font-size="3.7" fill="#444" text-anchor="middle">0</text>
<text x="129.6" y="557.3" font-size="3.7" fill="#444" text-anchor="middle">0</text>
<text x="36.4" y="565.6" font-size="3.7" fill="#444" text-anchor="middle">77</text>
<text x="59.7" y="565.6" font-size="3.7" fill="#444" text-anchor="middle">20</text>
<text x="83" y="565.6" font-size="3.7" fill="#444" text-anchor="middle">8</text>
<text x="106.3" y="565.6" font-size="3.7" fill="#444" text-anchor="middle">2</text>
<text x="129.6" y="565.6" font-size="3.7" fill="#444" text-anchor="middle">0</text></g><g font-family="Liberation Serif, serif"><line x1="172.7" y1="551.5" x2="172.7" y2="569.3" stroke="#e4e4e4" stroke-width="0.4"/>
<line x1="184.35" y1="551.5" x2="184.35" y2="569.3" stroke="#ececec" stroke-width="0.4"/>
<line x1="196" y1="551.5" x2="196" y2="569.3" stroke="#e4e4e4" stroke-width="0.4"/>
<line x1="207.65" y1="551.5" x2="207.65" y2="569.3" stroke="#ececec" stroke-width="0.4"/>
<line x1="219.3" y1="551.5" x2="219.3" y2="569.3" stroke="#e4e4e4" stroke-width="0.4"/>
<line x1="230.95" y1="551.5" x2="230.95" y2="569.3" stroke="#ececec" stroke-width="0.4"/>
<line x1="242.6" y1="551.5" x2="242.6" y2="569.3" stroke="#e4e4e4" stroke-width="0.4"/>
<line x1="254.25" y1="551.5" x2="254.25" y2="569.3" stroke="#ececec" stroke-width="0.4"/>
<line x1="265.9" y1="551.5" x2="265.9" y2="569.3" stroke="#e4e4e4" stroke-width="0.4"/>
<line x1="168.2" y1="556" x2="270.7" y2="556" stroke="#ececec" stroke-width="0.4"/>
<line x1="168.2" y1="564.3" x2="270.7" y2="564.3" stroke="#ececec" stroke-width="0.4"/>
<line x1="168.2" y1="449.5" x2="270.7" y2="449.5" stroke="#8c8c8c" stroke-width="0.8"/>
<line x1="168.2" y1="549.9" x2="270.7" y2="549.9" stroke="#e6e6e6" stroke-width="1.4"/>
<line x1="168.2" y1="449.5" x2="168.2" y2="549.9" stroke="#999" stroke-width="0.9"/>
<line x1="168.2" y1="551.5" x2="168.2" y2="569.3" stroke="#999" stroke-width="0.9"/>
<line x1="168.2" y1="569.3" x2="270.7" y2="569.3" stroke="#9a9a9a" stroke-width="0.9"/>
<line x1="166.9" y1="545" x2="168.2" y2="545" stroke="#666" stroke-width="0.5"/>
<text x="166.2" y="546.3" font-size="3.6" fill="#777" text-anchor="end" textLength="4.9" lengthAdjust="spacingAndGlyphs">0.00</text>
<line x1="166.9" y1="522.3" x2="168.2" y2="522.3" stroke="#666" stroke-width="0.5"/>
<text x="166.2" y="523.6" font-size="3.6" fill="#777" text-anchor="end" textLength="4.9" lengthAdjust="spacingAndGlyphs">0.25</text>
<line x1="166.9" y1="499.6" x2="168.2" y2="499.6" stroke="#666" stroke-width="0.5"/>
<text x="166.2" y="500.9" font-size="3.6" fill="#777" text-anchor="end" textLength="4.9" lengthAdjust="spacingAndGlyphs">0.50</text>
<line x1="166.9" y1="476.9" x2="168.2" y2="476.9" stroke="#666" stroke-width="0.5"/>
<text x="166.2" y="478.2" font-size="3.6" fill="#777" text-anchor="end" textLength="4.9" lengthAdjust="spacingAndGlyphs">0.75</text>
<line x1="166.9" y1="454.2" x2="168.2" y2="454.2" stroke="#666" stroke-width="0.5"/>
<text x="166.2" y="455.5" font-size="3.6" fill="#777" text-anchor="end" textLength="4.9" lengthAdjust="spacingAndGlyphs">1.00</text>
<line x1="172.7" y1="549.5" x2="172.7" y2="550.9" stroke="#666" stroke-width="0.5"/>
<line x1="172.7" y1="569.3" x2="172.7" y2="570.5" stroke="#555" stroke-width="0.6"/>
<text x="172.7" y="573.5" font-size="3.7" fill="#777" text-anchor="middle">0</text>
<line x1="196" y1="549.5" x2="196" y2="550.9" stroke="#666" stroke-width="0.5"/>
<line x1="196" y1="569.3" x2="196" y2="570.5" stroke="#555" stroke-width="0.6"/>
<text x="196" y="573.5" font-size="3.7" fill="#777" text-anchor="middle">2</text>
<line x1="219.3" y1="549.5" x2="219.3" y2="550.9" stroke="#666" stroke-width="0.5"/>
<line x1="219.3" y1="569.3" x2="219.3" y2="570.5" stroke="#555" stroke-width="0.6"/>
<text x="219.3" y="573.5" font-size="3.7" fill="#777" text-anchor="middle">4</text>
<line x1="242.6" y1="549.5" x2="242.6" y2="550.9" stroke="#666" stroke-width="0.5"/>
<line x1="242.6" y1="569.3" x2="242.6" y2="570.5" stroke="#555" stroke-width="0.6"/>
<text x="242.6" y="573.5" font-size="3.7" fill="#777" text-anchor="middle">6</text>
<line x1="265.9" y1="549.5" x2="265.9" y2="550.9" stroke="#666" stroke-width="0.5"/>
<line x1="265.9" y1="569.3" x2="265.9" y2="570.5" stroke="#555" stroke-width="0.6"/>
<text x="265.9" y="573.5" font-size="3.7" fill="#777" text-anchor="middle">8</text>
<text x="219.2" y="577.2" font-size="4.6" fill="#111" text-anchor="middle" textLength="20" lengthAdjust="spacingAndGlyphs">Time (years)</text>
<text transform="translate(142.2,499.6) rotate(-90)" font-size="3.6" fill="#3a3a3a" font-weight="bold" text-anchor="middle" textLength="43" lengthAdjust="spacingAndGlyphs">Overall survival probability</text>
<text x="166.2" y="557.3" font-size="3.8" fill="#8a8a8a" text-anchor="end" textLength="22" lengthAdjust="spacingAndGlyphs">group=High exp</text>
<text x="166.2" y="565.6" font-size="3.8" fill="#8a8a8a" text-anchor="end" textLength="21.7" lengthAdjust="spacingAndGlyphs">group=Low exp</text>
<line x1="167" y1="556" x2="168.2" y2="556" stroke="#666" stroke-width="0.5"/>
<line x1="167" y1="564.3" x2="168.2" y2="564.3" stroke="#666" stroke-width="0.5"/>
<text transform="translate(141.9,560.2) rotate(-90)" font-size="4.2" font-weight="bold" fill="#333" text-anchor="middle">MARCO</text>
<path d="M172.7 454.2H173.67V466.7H174.64V474.2H175.61V479.81H176.58V485.19H177.55V487.87H179.5V489.22H180.47V490.56H181.44V493.22H182.41V497.13H183.38V503.47H184.35V507.18H185.32V513.4H186.29V518.21H187.26V520.57H188.23V524.19H189.2V526.69H190.17V529.12H191.15V530.4H192.12V531.67H193.09V532.91H194.06V534.12H195.03V535.32H196V536.48H196.97V537.62H197.94V538.72H198.91V539.78H199.88V540.81H200.85V541.78H202.8V542.69H204.74V543.52H205.71V544.24H219.65" fill="none" stroke="#cf5f4e" stroke-width="0.75" stroke-dasharray="1.1 1.1" opacity="0.8"/>
<path d="M172.7 454.2H173.67V455.68H174.64V459.82H175.61V463.53H176.58V467.46H177.55V469.52H179.5V470.58H180.47V471.65H181.44V473.82H182.41V477.15H183.38V482.86H184.35V486.38H185.32V492.53H186.29V497.61H187.26V500.2H188.23V504.26H189.2V507.11H190.17V510.02H191.15V511.55H192.12V513.1H193.09V514.67H194.06V516.27H195.03V517.88H196V519.53H196.97V521.19H197.94V522.89H198.91V524.61H199.88V526.37H200.85V528.16H202.8V529.98H204.74V531.81H205.71V533.58H206.29" fill="none" stroke="#cf5f4e" stroke-width="0.75" stroke-dasharray="1.1 1.1" opacity="0.8"/>
<path d="M172.7 454.2H173.67V466.54H174.64V472.52H175.61V478.13H176.58V480.84H177.55V482.18H178.52V483.5H179.5V484.81H181.44V487.46H182.41V488.77H183.38V490.07H184.35V491.35H185.32V497.67H186.29V506.18H187.26V513.19H188.23V517.73H189.2V518.84H190.17V521.05H191.15V523.22H192.12V524.3H193.09V526.43H195.03V528.52H196V529.55H197.94V530.56H198.91V531.57H199.88V532.57H202.8V533.56H205.71V534.53H206.68V536.43H208.62V537.35H209.59V538.26H216.39V539.15H219.3V541.66H220.27V542.43H222.21V543.15H240.66V543.81H241.63V544.39H258.91" fill="none" stroke="#3479bf" stroke-width="0.75" stroke-dasharray="1.1 1.1" opacity="0.8"/>
<path d="M172.7 454.2H173.67V455.66H174.64V458.87H175.61V462.46H176.58V464.35H177.55V465.31H178.52V466.29H179.5V467.28H181.44V469.31H182.41V470.34H183.38V471.38H184.35V472.43H185.32V477.81H186.29V485.66H187.26V492.68H188.23V497.49H189.2V498.71H190.17V501.18H191.15V503.68H192.12V504.94H193.09V507.48H195.03V510.06H196V511.37H197.94V512.68H198.91V514.01H199.88V515.35H202.8V516.69H205.71V518.05H206.68V520.81H208.62V522.21H209.59V523.63H216.39V525.06H219.3V529.49H220.27V531.01H222.21V532.54H240.66V534.09H241.63V535.58H242.21" fill="none" stroke="#3479bf" stroke-width="0.75" stroke-dasharray="1.1 1.1" opacity="0.8"/>
<path d="M172.7 454.2H173.67V461.37H174.64V467.34H175.61V472.12H176.58V476.9H177.55V479.33H179.5V480.57H180.47V481.81H181.44V484.29H182.41V488.01H183.38V494.2H184.35V497.92H185.32V504.28H186.29V509.37H187.26V511.91H188.23V515.89H189.2V518.66H190.17V521.43H191.15V522.9H192.12V524.38H193.09V525.85H194.06V527.32H195.03V528.8H196V530.27H196.97V531.74H197.94V533.22H198.91V534.69H199.88V536.16H200.85V537.63H202.8V539.11H204.74V540.58H205.71V542.05H219.65" fill="none" stroke="#cf5f4e" stroke-width="1.15"/>
<line x1="176.58" y1="476" x2="176.58" y2="477.8" stroke="#cf5f4e" stroke-width="0.6"/>
<line x1="178.52" y1="478.43" x2="178.52" y2="480.23" stroke="#cf5f4e" stroke-width="0.6"/>
<line x1="184.35" y1="497.02" x2="184.35" y2="498.82" stroke="#cf5f4e" stroke-width="0.6"/>
<line x1="187.26" y1="511.01" x2="187.26" y2="512.81" stroke="#cf5f4e" stroke-width="0.6"/>
<line x1="188.23" y1="514.99" x2="188.23" y2="516.79" stroke="#cf5f4e" stroke-width="0.6"/>
<line x1="190.17" y1="520.53" x2="190.17" y2="522.33" stroke="#cf5f4e" stroke-width="0.6"/>
<line x1="219.65" y1="541.15" x2="219.65" y2="542.95" stroke="#cf5f4e" stroke-width="0.6"/>
<line x1="219.65" y1="541.05" x2="219.65" y2="543.05" stroke="#cf5f4e" stroke-width="0.7"/>
<path d="M172.7 454.2H173.67V461.28H174.64V465.99H175.61V470.71H176.58V473.07H177.55V474.25H178.52V475.43H179.5V476.61H181.44V479.01H182.41V480.2H183.38V481.4H184.35V482.6H185.32V488.6H186.29V497H187.26V504.2H188.23V509H189.2V510.2H190.17V512.6H191.15V515H192.12V516.2H193.09V518.6H195.03V521H196V522.2H197.94V523.4H198.91V524.6H199.88V525.8H202.8V527H205.71V528.2H206.68V530.6H208.62V531.8H209.59V533H216.39V534.2H219.3V537.8H220.27V539H222.21V540.2H240.66V541.4H241.63V542.6H258.91" fill="none" stroke="#3479bf" stroke-width="1.15"/>
<line x1="180.47" y1="475.71" x2="180.47" y2="477.51" stroke="#3479bf" stroke-width="0.6"/>
<line x1="258.91" y1="541.7" x2="258.91" y2="543.5" stroke="#3479bf" stroke-width="0.6"/>
<line x1="258.91" y1="541.6" x2="258.91" y2="543.6" stroke="#3479bf" stroke-width="0.7"/>
<line x1="172.7" y1="499.6" x2="187.26" y2="499.6" stroke="#777" stroke-width="0.7" stroke-dasharray="1.1 0.9"/>
<line x1="185.32" y1="499.6" x2="185.32" y2="545" stroke="#222" stroke-width="0.7" stroke-dasharray="1.1 0.9"/>
<line x1="187.26" y1="499.6" x2="187.26" y2="545" stroke="#222" stroke-width="0.7" stroke-dasharray="1.1 0.9"/>
<text x="206" y="456.4" font-size="3.9" fill="#333" stroke="#333" stroke-width="0.12" text-anchor="middle" textLength="27.5" lengthAdjust="spacingAndGlyphs">Log-rank P = 0.030</text>
<text x="206" y="461.1" font-size="3.9" fill="#333" stroke="#333" stroke-width="0.12" text-anchor="middle" textLength="27.5" lengthAdjust="spacingAndGlyphs">HR(High exp) = 1.56</text>
<text x="206" y="465.8" font-size="3.9" fill="#333" stroke="#333" stroke-width="0.12" text-anchor="middle" textLength="27.5" lengthAdjust="spacingAndGlyphs">95%CI: 1.04 - 2.34</text>
<text x="239.2" y="453.9" font-size="3.8" fill="#666">MARCO</text>
<line x1="239.7" y1="458.6" x2="245.2" y2="458.6" stroke="#cf5f4e" stroke-width="1.1"/>
<line x1="239.7" y1="464.2" x2="245.2" y2="464.2" stroke="#3479bf" stroke-width="1.1"/>
<text x="246.5" y="459.9" font-size="3.9" fill="#333" stroke="#333" stroke-width="0.1" textLength="22.2" lengthAdjust="spacingAndGlyphs">group=High exp</text>
<text x="246.5" y="465.5" font-size="3.9" fill="#333" stroke="#333" stroke-width="0.1" textLength="21.7" lengthAdjust="spacingAndGlyphs">group=Low exp</text>
<text x="172.4" y="546.2" font-size="3.8" fill="#d9453a" textLength="35" lengthAdjust="spacingAndGlyphs">Median time: 1.1 and 1.2</text>
<text x="172.7" y="557.3" font-size="3.7" fill="#444" text-anchor="middle">76</text>
<text x="196" y="557.3" font-size="3.7" fill="#444" text-anchor="middle">11</text>
<text x="219.3" y="557.3" font-size="3.7" fill="#444" text-anchor="middle">2</text>
<text x="242.6" y="557.3" font-size="3.7" fill="#444" text-anchor="middle">0</text>
<text x="265.9" y="557.3" font-size="3.7" fill="#444" text-anchor="middle">0</text>
<text x="172.7" y="565.6" font-size="3.7" fill="#444" text-anchor="middle">77</text>
<text x="196" y="565.6" font-size="3.7" fill="#444" text-anchor="middle">20</text>
<text x="219.3" y="565.6" font-size="3.7" fill="#444" text-anchor="middle">9</text>
<text x="242.6" y="565.6" font-size="3.7" fill="#444" text-anchor="middle">2</text>
<text x="265.9" y="565.6" font-size="3.7" fill="#444" text-anchor="middle">0</text></g><g font-family="Liberation Serif, serif"><line x1="308.7" y1="551.5" x2="308.7" y2="569.3" stroke="#e4e4e4" stroke-width="0.4"/>
<line x1="320.35" y1="551.5" x2="320.35" y2="569.3" stroke="#ececec" stroke-width="0.4"/>
<line x1="332" y1="551.5" x2="332" y2="569.3" stroke="#e4e4e4" stroke-width="0.4"/>
<line x1="343.65" y1="551.5" x2="343.65" y2="569.3" stroke="#ececec" stroke-width="0.4"/>
<line x1="355.3" y1="551.5" x2="355.3" y2="569.3" stroke="#e4e4e4" stroke-width="0.4"/>
<line x1="366.95" y1="551.5" x2="366.95" y2="569.3" stroke="#ececec" stroke-width="0.4"/>
<line x1="378.6" y1="551.5" x2="378.6" y2="569.3" stroke="#e4e4e4" stroke-width="0.4"/>
<line x1="390.25" y1="551.5" x2="390.25" y2="569.3" stroke="#ececec" stroke-width="0.4"/>
<line x1="401.9" y1="551.5" x2="401.9" y2="569.3" stroke="#e4e4e4" stroke-width="0.4"/>
<line x1="304.3" y1="556" x2="406.7" y2="556" stroke="#ececec" stroke-width="0.4"/>
<line x1="304.3" y1="564.3" x2="406.7" y2="564.3" stroke="#ececec" stroke-width="0.4"/>
<line x1="304.3" y1="449.5" x2="406.7" y2="449.5" stroke="#8c8c8c" stroke-width="0.8"/>
<line x1="304.3" y1="549.9" x2="406.7" y2="549.9" stroke="#e6e6e6" stroke-width="1.4"/>
<line x1="304.3" y1="449.5" x2="304.3" y2="549.9" stroke="#999" stroke-width="0.9"/>
<line x1="304.3" y1="551.5" x2="304.3" y2="569.3" stroke="#999" stroke-width="0.9"/>
<line x1="304.3" y1="569.3" x2="406.7" y2="569.3" stroke="#9a9a9a" stroke-width="0.9"/>
<line x1="303" y1="545" x2="304.3" y2="545" stroke="#666" stroke-width="0.5"/>
<text x="302.3" y="546.3" font-size="3.6" fill="#777" text-anchor="end" textLength="4.9" lengthAdjust="spacingAndGlyphs">0.00</text>
<line x1="303" y1="522.3" x2="304.3" y2="522.3" stroke="#666" stroke-width="0.5"/>
<text x="302.3" y="523.6" font-size="3.6" fill="#777" text-anchor="end" textLength="4.9" lengthAdjust="spacingAndGlyphs">0.25</text>
<line x1="303" y1="499.6" x2="304.3" y2="499.6" stroke="#666" stroke-width="0.5"/>
<text x="302.3" y="500.9" font-size="3.6" fill="#777" text-anchor="end" textLength="4.9" lengthAdjust="spacingAndGlyphs">0.50</text>
<line x1="303" y1="476.9" x2="304.3" y2="476.9" stroke="#666" stroke-width="0.5"/>
<text x="302.3" y="478.2" font-size="3.6" fill="#777" text-anchor="end" textLength="4.9" lengthAdjust="spacingAndGlyphs">0.75</text>
<line x1="303" y1="454.2" x2="304.3" y2="454.2" stroke="#666" stroke-width="0.5"/>
<text x="302.3" y="455.5" font-size="3.6" fill="#777" text-anchor="end" textLength="4.9" lengthAdjust="spacingAndGlyphs">1.00</text>
<line x1="308.7" y1="549.5" x2="308.7" y2="550.9" stroke="#666" stroke-width="0.5"/>
<line x1="308.7" y1="569.3" x2="308.7" y2="570.5" stroke="#555" stroke-width="0.6"/>
<text x="308.7" y="573.5" font-size="3.7" fill="#777" text-anchor="middle">0</text>
<line x1="332" y1="549.5" x2="332" y2="550.9" stroke="#666" stroke-width="0.5"/>
<line x1="332" y1="569.3" x2="332" y2="570.5" stroke="#555" stroke-width="0.6"/>
<text x="332" y="573.5" font-size="3.7" fill="#777" text-anchor="middle">2</text>
<line x1="355.3" y1="549.5" x2="355.3" y2="550.9" stroke="#666" stroke-width="0.5"/>
<line x1="355.3" y1="569.3" x2="355.3" y2="570.5" stroke="#555" stroke-width="0.6"/>
<text x="355.3" y="573.5" font-size="3.7" fill="#777" text-anchor="middle">4</text>
<line x1="378.6" y1="549.5" x2="378.6" y2="550.9" stroke="#666" stroke-width="0.5"/>
<line x1="378.6" y1="569.3" x2="378.6" y2="570.5" stroke="#555" stroke-width="0.6"/>
<text x="378.6" y="573.5" font-size="3.7" fill="#777" text-anchor="middle">6</text>
<line x1="401.9" y1="549.5" x2="401.9" y2="550.9" stroke="#666" stroke-width="0.5"/>
<line x1="401.9" y1="569.3" x2="401.9" y2="570.5" stroke="#555" stroke-width="0.6"/>
<text x="401.9" y="573.5" font-size="3.7" fill="#777" text-anchor="middle">8</text>
<text x="355.2" y="577.2" font-size="4.6" fill="#111" text-anchor="middle" textLength="20" lengthAdjust="spacingAndGlyphs">Time (years)</text>
<text transform="translate(278.3,499.6) rotate(-90)" font-size="3.6" fill="#3a3a3a" font-weight="bold" text-anchor="middle" textLength="43" lengthAdjust="spacingAndGlyphs">Overall survival probability</text>
<text x="302.3" y="557.3" font-size="3.8" fill="#8a8a8a" text-anchor="end" textLength="22" lengthAdjust="spacingAndGlyphs">group=High exp</text>
<text x="302.3" y="565.6" font-size="3.8" fill="#8a8a8a" text-anchor="end" textLength="21.7" lengthAdjust="spacingAndGlyphs">group=Low exp</text>
<line x1="303.1" y1="556" x2="304.3" y2="556" stroke="#666" stroke-width="0.5"/>
<line x1="303.1" y1="564.3" x2="304.3" y2="564.3" stroke="#666" stroke-width="0.5"/>
<text transform="translate(278,560.2) rotate(-90)" font-size="4.2" font-weight="bold" fill="#333" text-anchor="middle">AQP9</text>
<path d="M308.7 454.2H309.67V471.28H310.64V478.43H311.61V486.51H312.58V490.4H313.55V491.67H314.52V492.94H315.5V495.46H316.47V496.7H317.44V500.39H318.41V504.01H319.38V508.74H320.35V513.36H321.32V518.03H322.29V521.44H323.26V523.67H324.23V525.87H325.2V528.02H326.18V530.14H327.15V532.21H328.12V534.22H329.09V535.21H330.06V537.14H331.03V538.07H332V538.98H333.94V539.87H335.88V540.74H336.85V541.57H339.77V542.36H342.68V543.78H376.85" fill="none" stroke="#cf5f4e" stroke-width="0.75" stroke-dasharray="1.1 1.1" opacity="0.8"/>
<path d="M308.7 454.2H309.67V458.08H310.64V462.57H311.61V468.47H312.58V471.57H313.55V472.62H314.52V473.68H315.5V475.83H316.47V476.91H317.44V480.21H318.41V483.57H319.38V488.15H320.35V492.85H321.32V497.76H322.29V501.53H323.26V504.08H324.23V506.67H325.2V509.3H326.18V511.97H327.15V514.68H328.12V517.44H329.09V518.84H330.06V521.69H331.03V523.13H332V524.6H333.94V526.08H335.88V527.59H336.85V529.12H339.77V530.67H342.68V533.82H343.26" fill="none" stroke="#cf5f4e" stroke-width="0.75" stroke-dasharray="1.1 1.1" opacity="0.8"/>
<path d="M308.7 454.2H309.67V464.95H310.64V468.08H311.61V472.52H312.58V475.36H314.52V476.76H316.47V479.5H317.44V482.18H318.41V484.81H319.38V487.41H320.35V488.69H321.32V493.73H322.29V497.42H323.26V509.26H324.23V517.15H325.2V520.43H326.18V521.51H327.15V522.58H328.12V523.64H329.09V525.74H330.06V526.78H332V527.8H332.97V528.82H333.94V529.83H334.91V531.82H336.85V532.8H338.8V533.77H340.74V534.72H341.71V535.66H342.68V536.59H343.65V537.49H346.56V538.39H347.53V539.26H351.42V540.1H355.3V542.47H356.27V543.83H357.24V544.4H394.91" fill="none" stroke="#3479bf" stroke-width="0.75" stroke-dasharray="1.1 1.1" opacity="0.8"/>
<path d="M308.7 454.2H309.67V454.95H310.64V456.41H311.61V458.87H312.58V460.63H314.52V461.54H316.47V463.4H317.44V465.31H318.41V467.28H319.38V469.28H320.35V470.3H321.32V474.46H322.29V477.67H323.26V488.81H324.23V497.01H325.2V500.63H326.18V501.85H327.15V503.08H328.12V504.31H329.09V506.81H330.06V508.07H332V509.34H332.97V510.61H333.94V511.9H334.91V514.5H336.85V515.82H338.8V517.14H340.74V518.48H341.71V519.84H342.68V521.2H343.65V522.58H346.56V523.98H347.53V525.39H351.42V526.82H355.3V531.24H356.27V534.27H357.24V535.74H357.82" fill="none" stroke="#3479bf" stroke-width="0.75" stroke-dasharray="1.1 1.1" opacity="0.8"/>
<path d="M308.7 454.2H309.67V464.95H310.64V470.93H311.61V478.09H312.58V481.68H313.55V482.87H314.52V484.07H315.5V486.46H316.47V487.65H317.44V491.24H318.41V494.82H319.38V499.6H320.35V504.38H321.32V509.3H322.29V513H323.26V515.46H324.23V517.92H325.2V520.38H326.18V522.84H327.15V525.3H328.12V527.77H329.09V529H330.06V531.46H331.03V532.69H332V533.92H333.94V535.15H335.88V536.38H336.85V537.61H339.77V538.85H342.68V541.31H376.85" fill="none" stroke="#cf5f4e" stroke-width="1.15"/>
<line x1="320.35" y1="503.48" x2="320.35" y2="505.28" stroke="#cf5f4e" stroke-width="0.6"/>
<line x1="376.85" y1="540.41" x2="376.85" y2="542.21" stroke="#cf5f4e" stroke-width="0.6"/>
<line x1="376.85" y1="540.31" x2="376.85" y2="542.31" stroke="#cf5f4e" stroke-width="0.7"/>
<path d="M308.7 454.2H309.67V460.1H310.64V462.45H311.61V465.99H312.58V468.35H314.52V469.53H316.47V471.89H317.44V474.25H318.41V476.61H319.38V478.96H320.35V480.14H321.32V484.86H322.29V488.4H323.26V500.19H324.23V508.44H325.2V511.98H326.18V513.16H327.15V514.34H328.12V515.52H329.09V517.88H330.06V519.06H332V520.24H332.97V521.42H333.94V522.59H334.91V524.95H336.85V526.13H338.8V527.31H340.74V528.49H341.71V529.67H342.68V530.85H343.65V532.03H346.56V533.21H347.53V534.39H351.42V535.57H355.3V539.1H356.27V541.46H357.24V542.64H394.91" fill="none" stroke="#3479bf" stroke-width="1.15"/>
<line x1="394.91" y1="541.74" x2="394.91" y2="543.54" stroke="#3479bf" stroke-width="0.6"/>
<line x1="394.91" y1="541.64" x2="394.91" y2="543.64" stroke="#3479bf" stroke-width="0.7"/>
<line x1="308.7" y1="499.6" x2="323.26" y2="499.6" stroke="#777" stroke-width="0.7" stroke-dasharray="1.1 0.9"/>
<line x1="319.38" y1="499.6" x2="319.38" y2="545" stroke="#222" stroke-width="0.7" stroke-dasharray="1.1 0.9"/>
<line x1="323.26" y1="499.6" x2="323.26" y2="545" stroke="#222" stroke-width="0.7" stroke-dasharray="1.1 0.9"/>
<text x="342" y="456.4" font-size="3.9" fill="#333" stroke="#333" stroke-width="0.12" text-anchor="middle" textLength="27.5" lengthAdjust="spacingAndGlyphs">Log-rank P = 0.039</text>
<text x="342" y="461.1" font-size="3.9" fill="#333" stroke="#333" stroke-width="0.12" text-anchor="middle" textLength="27.5" lengthAdjust="spacingAndGlyphs">HR(High exp) = 1.55</text>
<text x="342" y="465.8" font-size="3.9" fill="#333" stroke="#333" stroke-width="0.12" text-anchor="middle" textLength="27.5" lengthAdjust="spacingAndGlyphs">95%CI: 1.03 - 2.33</text>
<text x="375.2" y="453.9" font-size="3.8" fill="#666">AQP9</text>
<line x1="375.7" y1="458.6" x2="381.2" y2="458.6" stroke="#cf5f4e" stroke-width="1.1"/>
<line x1="375.7" y1="464.2" x2="381.2" y2="464.2" stroke="#3479bf" stroke-width="1.1"/>
<text x="382.5" y="459.9" font-size="3.9" fill="#333" stroke="#333" stroke-width="0.1" textLength="22.2" lengthAdjust="spacingAndGlyphs">group=High exp</text>
<text x="382.5" y="465.5" font-size="3.9" fill="#333" stroke="#333" stroke-width="0.1" textLength="21.7" lengthAdjust="spacingAndGlyphs">group=Low exp</text>
<text x="308.4" y="546.2" font-size="3.8" fill="#d9453a" textLength="35" lengthAdjust="spacingAndGlyphs">Median time: 0.92 and 1.2</text>
<text x="308.7" y="557.3" font-size="3.7" fill="#444" text-anchor="middle">76</text>
<text x="332" y="557.3" font-size="3.7" fill="#444" text-anchor="middle">10</text>
<text x="355.3" y="557.3" font-size="3.7" fill="#444" text-anchor="middle">3</text>
<text x="378.6" y="557.3" font-size="3.7" fill="#444" text-anchor="middle">0</text>
<text x="401.9" y="557.3" font-size="3.7" fill="#444" text-anchor="middle">0</text>
<text x="308.7" y="565.6" font-size="3.7" fill="#444" text-anchor="middle">77</text>
<text x="332" y="565.6" font-size="3.7" fill="#444" text-anchor="middle">22</text>
<text x="355.3" y="565.6" font-size="3.7" fill="#444" text-anchor="middle">8</text>
<text x="378.6" y="565.6" font-size="3.7" fill="#444" text-anchor="middle">2</text>
<text x="401.9" y="565.6" font-size="3.7" fill="#444" text-anchor="middle">0</text></g><g font-family="Liberation Serif, serif"><line x1="445.2" y1="551.5" x2="445.2" y2="569.3" stroke="#e4e4e4" stroke-width="0.4"/>
<line x1="456.85" y1="551.5" x2="456.85" y2="569.3" stroke="#ececec" stroke-width="0.4"/>
<line x1="468.5" y1="551.5" x2="468.5" y2="569.3" stroke="#e4e4e4" stroke-width="0.4"/>
<line x1="480.15" y1="551.5" x2="480.15" y2="569.3" stroke="#ececec" stroke-width="0.4"/>
<line x1="491.8" y1="551.5" x2="491.8" y2="569.3" stroke="#e4e4e4" stroke-width="0.4"/>
<line x1="503.45" y1="551.5" x2="503.45" y2="569.3" stroke="#ececec" stroke-width="0.4"/>
<line x1="515.1" y1="551.5" x2="515.1" y2="569.3" stroke="#e4e4e4" stroke-width="0.4"/>
<line x1="526.75" y1="551.5" x2="526.75" y2="569.3" stroke="#ececec" stroke-width="0.4"/>
<line x1="538.4" y1="551.5" x2="538.4" y2="569.3" stroke="#e4e4e4" stroke-width="0.4"/>
<line x1="440.6" y1="556" x2="543.2" y2="556" stroke="#ececec" stroke-width="0.4"/>
<line x1="440.6" y1="564.3" x2="543.2" y2="564.3" stroke="#ececec" stroke-width="0.4"/>
<line x1="440.6" y1="449.5" x2="543.2" y2="449.5" stroke="#8c8c8c" stroke-width="0.8"/>
<line x1="440.6" y1="549.9" x2="543.2" y2="549.9" stroke="#e6e6e6" stroke-width="1.4"/>
<line x1="440.6" y1="449.5" x2="440.6" y2="549.9" stroke="#999" stroke-width="0.9"/>
<line x1="440.6" y1="551.5" x2="440.6" y2="569.3" stroke="#999" stroke-width="0.9"/>
<line x1="440.6" y1="569.3" x2="543.2" y2="569.3" stroke="#9a9a9a" stroke-width="0.9"/>
<line x1="439.3" y1="545" x2="440.6" y2="545" stroke="#666" stroke-width="0.5"/>
<text x="438.6" y="546.3" font-size="3.6" fill="#777" text-anchor="end" textLength="4.9" lengthAdjust="spacingAndGlyphs">0.00</text>
<line x1="439.3" y1="522.3" x2="440.6" y2="522.3" stroke="#666" stroke-width="0.5"/>
<text x="438.6" y="523.6" font-size="3.6" fill="#777" text-anchor="end" textLength="4.9" lengthAdjust="spacingAndGlyphs">0.25</text>
<line x1="439.3" y1="499.6" x2="440.6" y2="499.6" stroke="#666" stroke-width="0.5"/>
<text x="438.6" y="500.9" font-size="3.6" fill="#777" text-anchor="end" textLength="4.9" lengthAdjust="spacingAndGlyphs">0.50</text>
<line x1="439.3" y1="476.9" x2="440.6" y2="476.9" stroke="#666" stroke-width="0.5"/>
<text x="438.6" y="478.2" font-size="3.6" fill="#777" text-anchor="end" textLength="4.9" lengthAdjust="spacingAndGlyphs">0.75</text>
<line x1="439.3" y1="454.2" x2="440.6" y2="454.2" stroke="#666" stroke-width="0.5"/>
<text x="438.6" y="455.5" font-size="3.6" fill="#777" text-anchor="end" textLength="4.9" lengthAdjust="spacingAndGlyphs">1.00</text>
<line x1="445.2" y1="549.5" x2="445.2" y2="550.9" stroke="#666" stroke-width="0.5"/>
<line x1="445.2" y1="569.3" x2="445.2" y2="570.5" stroke="#555" stroke-width="0.6"/>
<text x="445.2" y="573.5" font-size="3.7" fill="#777" text-anchor="middle">0</text>
<line x1="468.5" y1="549.5" x2="468.5" y2="550.9" stroke="#666" stroke-width="0.5"/>
<line x1="468.5" y1="569.3" x2="468.5" y2="570.5" stroke="#555" stroke-width="0.6"/>
<text x="468.5" y="573.5" font-size="3.7" fill="#777" text-anchor="middle">2</text>
<line x1="491.8" y1="549.5" x2="491.8" y2="550.9" stroke="#666" stroke-width="0.5"/>
<line x1="491.8" y1="569.3" x2="491.8" y2="570.5" stroke="#555" stroke-width="0.6"/>
<text x="491.8" y="573.5" font-size="3.7" fill="#777" text-anchor="middle">4</text>
<line x1="515.1" y1="549.5" x2="515.1" y2="550.9" stroke="#666" stroke-width="0.5"/>
<line x1="515.1" y1="569.3" x2="515.1" y2="570.5" stroke="#555" stroke-width="0.6"/>
<text x="515.1" y="573.5" font-size="3.7" fill="#777" text-anchor="middle">6</text>
<line x1="538.4" y1="549.5" x2="538.4" y2="550.9" stroke="#666" stroke-width="0.5"/>
<line x1="538.4" y1="569.3" x2="538.4" y2="570.5" stroke="#555" stroke-width="0.6"/>
<text x="538.4" y="573.5" font-size="3.7" fill="#777" text-anchor="middle">8</text>
<text x="491.7" y="577.2" font-size="4.6" fill="#111" text-anchor="middle" textLength="20" lengthAdjust="spacingAndGlyphs">Time (years)</text>
<text transform="translate(414.6,499.6) rotate(-90)" font-size="3.6" fill="#3a3a3a" font-weight="bold" text-anchor="middle" textLength="43" lengthAdjust="spacingAndGlyphs">Overall survival probability</text>
<text x="438.6" y="557.3" font-size="3.8" fill="#8a8a8a" text-anchor="end" textLength="22" lengthAdjust="spacingAndGlyphs">group=High exp</text>
<text x="438.6" y="565.6" font-size="3.8" fill="#8a8a8a" text-anchor="end" textLength="21.7" lengthAdjust="spacingAndGlyphs">group=Low exp</text>
<line x1="439.4" y1="556" x2="440.6" y2="556" stroke="#666" stroke-width="0.5"/>
<line x1="439.4" y1="564.3" x2="440.6" y2="564.3" stroke="#666" stroke-width="0.5"/>
<text transform="translate(414.3,560.2) rotate(-90)" font-size="4.2" font-weight="bold" fill="#333" text-anchor="middle">LY96</text>
<path d="M445.2 454.2H446.17V466.7H447.14V472.75H448.11V477.04H449.08V483.86H450.05V487.81H451.02V490.4H452V492.94H452.97V494.2H453.94V496.7H454.91V499.17H455.88V502.81H456.85V507.57H457.82V513.36H458.79V518.98H459.76V523.51H460.73V526.82H461.7V530.03H462.68V532.12H463.65V534.15H464.62V535.15H465.59V537.09H466.56V538.03H467.53V538.95H468.5V539.84H471.41V540.71H473.35V541.54H476.27V542.34H478.21V543.09H480.15V543.77H484.03V544.37H492.62" fill="none" stroke="#cf5f4e" stroke-width="0.75" stroke-dasharray="1.1 1.1" opacity="0.8"/>
<path d="M445.2 454.2H446.17V455.68H447.14V458.94H448.11V461.64H449.08V466.46H450.05V469.5H451.02V471.57H452V473.68H452.97V474.75H453.94V476.91H454.91V479.1H455.88V482.44H456.85V487H457.82V492.85H458.79V498.87H459.76V503.95H460.73V507.86H461.7V511.85H462.68V514.57H463.65V517.33H464.62V518.74H465.59V521.59H466.56V523.04H467.53V524.51H468.5V526H471.41V527.51H473.35V529.05H476.27V530.61H478.21V532.18H480.15V533.77H484.03V535.3H484.62" fill="none" stroke="#cf5f4e" stroke-width="0.75" stroke-dasharray="1.1 1.1" opacity="0.8"/>
<path d="M445.2 454.2H446.17V464.95H447.14V471.07H448.11V475.36H449.08V479.5H450.05V482.18H452V483.53H453.94V486.19H454.91V487.51H455.88V490.17H456.85V492.79H457.82V494.08H458.79V504.14H459.76V510.18H460.73V517.4H461.7V519.74H462.68V522.05H463.65V524.31H464.62V525.43H465.59V526.54H467.53V527.64H469.47V528.73H470.44V529.81H471.41V530.87H472.38V531.92H473.35V532.96H475.3V533.99H479.18V537.92H490.83V538.85H491.8V542.3H492.77V543.75H493.74V544.36H531.41" fill="none" stroke="#3479bf" stroke-width="0.75" stroke-dasharray="1.1 1.1" opacity="0.8"/>
<path d="M445.2 454.2H446.17V454.95H447.14V458.02H448.11V460.63H449.08V463.4H450.05V465.31H452V466.3H453.94V468.31H454.91V469.33H455.88V471.43H456.85V473.57H457.82V474.65H458.79V483.62H459.76V489.47H460.73V496.9H461.7V499.45H462.68V502.02H463.65V504.64H464.62V505.96H465.59V507.29H467.53V508.63H469.47V509.98H470.44V511.34H471.41V512.72H472.38V514.1H473.35V515.5H475.3V516.91H479.18V522.71H490.83V524.2H491.8V530.39H492.77V533.6H493.74V535.15H494.32" fill="none" stroke="#3479bf" stroke-width="0.75" stroke-dasharray="1.1 1.1" opacity="0.8"/>
<path d="M445.2 454.2H446.17V461.37H447.14V466.15H448.11V469.73H449.08V475.71H450.05V479.29H451.02V481.68H452V484.07H452.97V485.26H453.94V487.65H454.91V490.04H455.88V493.63H456.85V498.41H457.82V504.38H458.79V510.35H459.76V515.3H460.73V519.01H461.7V522.73H462.68V525.2H463.65V527.68H464.62V528.91H465.59V531.39H466.56V532.63H467.53V533.86H468.5V535.1H471.41V536.34H473.35V537.58H476.27V538.81H478.21V540.05H480.15V541.29H484.03V542.53H492.62" fill="none" stroke="#cf5f4e" stroke-width="1.15"/>
<line x1="458.79" y1="509.45" x2="458.79" y2="511.25" stroke="#cf5f4e" stroke-width="0.6"/>
<line x1="492.62" y1="541.63" x2="492.62" y2="543.43" stroke="#cf5f4e" stroke-width="0.6"/>
<line x1="492.62" y1="541.53" x2="492.62" y2="543.53" stroke="#cf5f4e" stroke-width="0.7"/>
<path d="M445.2 454.2H446.17V460.1H447.14V464.81H448.11V468.35H449.08V471.89H450.05V474.25H452V475.45H453.94V477.84H454.91V479.04H455.88V481.49H456.85V483.93H457.82V485.15H458.79V494.92H459.76V501.03H460.73V508.57H461.7V511.08H462.68V513.59H463.65V516.1H464.62V517.36H465.59V518.62H467.53V519.87H469.47V521.13H470.44V522.39H471.41V523.64H472.38V524.9H473.35V526.16H475.3V527.41H479.18V532.44H490.83V533.69H491.8V538.72H492.77V541.23H493.74V542.49H531.41" fill="none" stroke="#3479bf" stroke-width="1.15"/>
<line x1="451.02" y1="473.35" x2="451.02" y2="475.15" stroke="#3479bf" stroke-width="0.6"/>
<line x1="454.91" y1="478.14" x2="454.91" y2="479.94" stroke="#3479bf" stroke-width="0.6"/>
<line x1="459.76" y1="500.13" x2="459.76" y2="501.93" stroke="#3479bf" stroke-width="0.6"/>
<line x1="531.41" y1="541.59" x2="531.41" y2="543.39" stroke="#3479bf" stroke-width="0.6"/>
<line x1="531.41" y1="541.49" x2="531.41" y2="543.49" stroke="#3479bf" stroke-width="0.7"/>
<line x1="512.77" y1="541.39" x2="512.77" y2="543.59" stroke="#cf5f4e" stroke-width="0.8"/>
<line x1="445.2" y1="499.6" x2="459.76" y2="499.6" stroke="#777" stroke-width="0.7" stroke-dasharray="1.1 0.9"/>
<line x1="457.82" y1="499.6" x2="457.82" y2="545" stroke="#222" stroke-width="0.7" stroke-dasharray="1.1 0.9"/>
<line x1="459.76" y1="499.6" x2="459.76" y2="545" stroke="#222" stroke-width="0.7" stroke-dasharray="1.1 0.9"/>
<text x="478.5" y="456.4" font-size="3.9" fill="#333" stroke="#333" stroke-width="0.12" text-anchor="middle" textLength="27.5" lengthAdjust="spacingAndGlyphs">Log-rank P = 0.042</text>
<text x="478.5" y="461.1" font-size="3.9" fill="#333" stroke="#333" stroke-width="0.12" text-anchor="middle" textLength="27.5" lengthAdjust="spacingAndGlyphs">HR(High exp) = 1.44</text>
<text x="478.5" y="465.8" font-size="3.9" fill="#333" stroke="#333" stroke-width="0.12" text-anchor="middle" textLength="27.5" lengthAdjust="spacingAndGlyphs">95%CI: 1.01 - 2.05</text>
<text x="511.7" y="453.9" font-size="3.8" fill="#666">LY96</text>
<line x1="512.2" y1="458.6" x2="517.7" y2="458.6" stroke="#cf5f4e" stroke-width="1.1"/>
<line x1="512.2" y1="464.2" x2="517.7" y2="464.2" stroke="#3479bf" stroke-width="1.1"/>
<text x="519" y="459.9" font-size="3.9" fill="#333" stroke="#333" stroke-width="0.1" textLength="22.2" lengthAdjust="spacingAndGlyphs">group=High exp</text>
<text x="519" y="465.5" font-size="3.9" fill="#333" stroke="#333" stroke-width="0.1" textLength="21.7" lengthAdjust="spacingAndGlyphs">group=Low exp</text>
<text x="444.9" y="546.2" font-size="3.8" fill="#d9453a" textLength="35" lengthAdjust="spacingAndGlyphs">Median time: 1.1 and 1.2</text>
<text x="445.2" y="557.3" font-size="3.7" fill="#444" text-anchor="middle">76</text>
<text x="468.5" y="557.3" font-size="3.7" fill="#444" text-anchor="middle">9</text>
<text x="491.8" y="557.3" font-size="3.7" fill="#444" text-anchor="middle">2</text>
<text x="515.1" y="557.3" font-size="3.7" fill="#444" text-anchor="middle">0</text>
<text x="538.4" y="557.3" font-size="3.7" fill="#444" text-anchor="middle">0</text>
<text x="445.2" y="565.6" font-size="3.7" fill="#444" text-anchor="middle">77</text>
<text x="468.5" y="565.6" font-size="3.7" fill="#444" text-anchor="middle">20</text>
<text x="491.8" y="565.6" font-size="3.7" fill="#444" text-anchor="middle">9</text>
<text x="515.1" y="565.6" font-size="3.7" fill="#444" text-anchor="middle">2</text>
<text x="538.4" y="565.6" font-size="3.7" fill="#444" text-anchor="middle">0</text></g><g font-family="Liberation Serif, serif"><line x1="581.3" y1="551.5" x2="581.3" y2="569.3" stroke="#e4e4e4" stroke-width="0.4"/>
<line x1="592.95" y1="551.5" x2="592.95" y2="569.3" stroke="#ececec" stroke-width="0.4"/>
<line x1="604.6" y1="551.5" x2="604.6" y2="569.3" stroke="#e4e4e4" stroke-width="0.4"/>
<line x1="616.25" y1="551.5" x2="616.25" y2="569.3" stroke="#ececec" stroke-width="0.4"/>
<line x1="627.9" y1="551.5" x2="627.9" y2="569.3" stroke="#e4e4e4" stroke-width="0.4"/>
<line x1="639.55" y1="551.5" x2="639.55" y2="569.3" stroke="#ececec" stroke-width="0.4"/>
<line x1="651.2" y1="551.5" x2="651.2" y2="569.3" stroke="#e4e4e4" stroke-width="0.4"/>
<line x1="662.85" y1="551.5" x2="662.85" y2="569.3" stroke="#ececec" stroke-width="0.4"/>
<line x1="674.5" y1="551.5" x2="674.5" y2="569.3" stroke="#e4e4e4" stroke-width="0.4"/>
<line x1="576.4" y1="556" x2="679.3" y2="556" stroke="#ececec" stroke-width="0.4"/>
<line x1="576.4" y1="564.3" x2="679.3" y2="564.3" stroke="#ececec" stroke-width="0.4"/>
<line x1="576.4" y1="449.5" x2="679.3" y2="449.5" stroke="#8c8c8c" stroke-width="0.8"/>
<line x1="576.4" y1="549.9" x2="679.3" y2="549.9" stroke="#e6e6e6" stroke-width="1.4"/>
<line x1="576.4" y1="449.5" x2="576.4" y2="549.9" stroke="#999" stroke-width="0.9"/>
<line x1="576.4" y1="551.5" x2="576.4" y2="569.3" stroke="#999" stroke-width="0.9"/>
<line x1="576.4" y1="569.3" x2="679.3" y2="569.3" stroke="#9a9a9a" stroke-width="0.9"/>
<line x1="575.1" y1="545" x2="576.4" y2="545" stroke="#666" stroke-width="0.5"/>
<text x="574.4" y="546.3" font-size="3.6" fill="#777" text-anchor="end" textLength="4.9" lengthAdjust="spacingAndGlyphs">0.00</text>
<line x1="575.1" y1="522.3" x2="576.4" y2="522.3" stroke="#666" stroke-width="0.5"/>
<text x="574.4" y="523.6" font-size="3.6" fill="#777" text-anchor="end" textLength="4.9" lengthAdjust="spacingAndGlyphs">0.25</text>
<line x1="575.1" y1="499.6" x2="576.4" y2="499.6" stroke="#666" stroke-width="0.5"/>
<text x="574.4" y="500.9" font-size="3.6" fill="#777" text-anchor="end" textLength="4.9" lengthAdjust="spacingAndGlyphs">0.50</text>
<line x1="575.1" y1="476.9" x2="576.4" y2="476.9" stroke="#666" stroke-width="0.5"/>
<text x="574.4" y="478.2" font-size="3.6" fill="#777" text-anchor="end" textLength="4.9" lengthAdjust="spacingAndGlyphs">0.75</text>
<line x1="575.1" y1="454.2" x2="576.4" y2="454.2" stroke="#666" stroke-width="0.5"/>
<text x="574.4" y="455.5" font-size="3.6" fill="#777" text-anchor="end" textLength="4.9" lengthAdjust="spacingAndGlyphs">1.00</text>
<line x1="581.3" y1="549.5" x2="581.3" y2="550.9" stroke="#666" stroke-width="0.5"/>
<line x1="581.3" y1="569.3" x2="581.3" y2="570.5" stroke="#555" stroke-width="0.6"/>
<text x="581.3" y="573.5" font-size="3.7" fill="#777" text-anchor="middle">0</text>
<line x1="604.6" y1="549.5" x2="604.6" y2="550.9" stroke="#666" stroke-width="0.5"/>
<line x1="604.6" y1="569.3" x2="604.6" y2="570.5" stroke="#555" stroke-width="0.6"/>
<text x="604.6" y="573.5" font-size="3.7" fill="#777" text-anchor="middle">2</text>
<line x1="627.9" y1="549.5" x2="627.9" y2="550.9" stroke="#666" stroke-width="0.5"/>
<line x1="627.9" y1="569.3" x2="627.9" y2="570.5" stroke="#555" stroke-width="0.6"/>
<text x="627.9" y="573.5" font-size="3.7" fill="#777" text-anchor="middle">4</text>
<line x1="651.2" y1="549.5" x2="651.2" y2="550.9" stroke="#666" stroke-width="0.5"/>
<line x1="651.2" y1="569.3" x2="651.2" y2="570.5" stroke="#555" stroke-width="0.6"/>
<text x="651.2" y="573.5" font-size="3.7" fill="#777" text-anchor="middle">6</text>
<line x1="674.5" y1="549.5" x2="674.5" y2="550.9" stroke="#666" stroke-width="0.5"/>
<line x1="674.5" y1="569.3" x2="674.5" y2="570.5" stroke="#555" stroke-width="0.6"/>
<text x="674.5" y="573.5" font-size="3.7" fill="#777" text-anchor="middle">8</text>
<text x="627.8" y="577.2" font-size="4.6" fill="#111" text-anchor="middle" textLength="20" lengthAdjust="spacingAndGlyphs">Time (years)</text>
<text transform="translate(550.4,499.6) rotate(-90)" font-size="3.6" fill="#3a3a3a" font-weight="bold" text-anchor="middle" textLength="43" lengthAdjust="spacingAndGlyphs">Overall survival probability</text>
<text x="574.4" y="557.3" font-size="3.8" fill="#8a8a8a" text-anchor="end" textLength="22" lengthAdjust="spacingAndGlyphs">group=High exp</text>
<text x="574.4" y="565.6" font-size="3.8" fill="#8a8a8a" text-anchor="end" textLength="21.7" lengthAdjust="spacingAndGlyphs">group=Low exp</text>
<line x1="575.2" y1="556" x2="576.4" y2="556" stroke="#666" stroke-width="0.5"/>
<line x1="575.2" y1="564.3" x2="576.4" y2="564.3" stroke="#666" stroke-width="0.5"/>
<text transform="translate(550.1,560.2) rotate(-90)" font-size="4.2" font-weight="bold" fill="#333" text-anchor="middle">CCL18</text>
<path d="M581.3 454.2H582.27V471.28H583.24V478.43H584.21V486.51H585.18V489.11H586.15V490.4H587.12V492.94H588.1V495.46H589.07V496.7H590.04V501.72H591.01V505.41H591.98V509.03H592.95V513.74H593.92V518.34H594.89V521.71H595.86V525.15H596.83V527.4H597.8V530.68H598.77V532.8H599.75V533.84H600.72V534.87H601.69V535.87H602.66V536.86H603.63V537.83H604.6V539.7H605.57V540.59H607.51V541.45H608.48V542.27H627.9V543.04H628.87V543.74H629.84V544.35H667.28" fill="none" stroke="#cf5f4e" stroke-width="0.75" stroke-dasharray="1.1 1.1" opacity="0.8"/>
<path d="M581.3 454.2H582.27V458.08H583.24V462.57H584.21V468.47H585.18V470.53H586.15V471.57H587.12V473.68H588.1V475.83H589.07V476.91H590.04V481.39H591.01V484.83H591.98V488.34H592.95V493.13H593.92V498.03H594.89V501.79H595.86V505.73H596.83V508.41H597.8V512.51H598.77V515.3H599.75V516.72H600.72V518.15H601.69V519.6H602.66V521.06H603.63V522.54H604.6V525.56H605.57V527.1H607.51V528.67H608.48V530.26H627.9V531.88H628.87V533.5H629.84V535.06H630.42" fill="none" stroke="#cf5f4e" stroke-width="0.75" stroke-dasharray="1.1 1.1" opacity="0.8"/>
<path d="M581.3 454.2H582.27V461.58H583.24V466.54H584.21V469.59H585.18V472.52H586.15V475.42H587.12V476.83H588.1V479.62H589.07V480.99H590.04V483.69H591.01V486.34H591.98V490.25H592.95V495.33H593.92V502.7H594.89V507.48H595.86V512.14H596.83V517.8H597.8V518.92H598.77V521.12H599.75V523.29H600.72V525.42H601.69V526.48H602.66V527.52H603.63V528.56H604.6V529.59H605.57V530.6H606.54V531.61H608.48V532.6H609.45V533.59H610.42V534.56H615.28V538.28H616.25V539.17H618.19V540.03H622.07V540.86H625.96V541.67H627.9V543.16H628.87V544.39H649.8" fill="none" stroke="#3479bf" stroke-width="0.75" stroke-dasharray="1.1 1.1" opacity="0.8"/>
<path d="M581.3 454.2H582.27V454.2H583.24V455.66H584.21V457.2H585.18V458.87H586.15V460.65H587.12V461.56H588.1V463.44H589.07V464.41H590.04V466.37H591.01V468.38H591.98V471.48H592.95V475.73H593.92V482.35H594.89V486.91H595.86V491.58H596.83V497.58H597.8V498.8H598.77V501.26H599.75V503.75H600.72V506.28H601.69V507.56H602.66V508.84H603.63V510.13H604.6V511.44H605.57V512.75H606.54V514.07H608.48V515.4H609.45V516.75H610.42V518.11H615.28V523.67H616.25V525.11H618.19V526.56H622.07V528.03H625.96V529.52H627.9V532.57H628.87V535.6H629.45" fill="none" stroke="#3479bf" stroke-width="0.75" stroke-dasharray="1.1 1.1" opacity="0.8"/>
<path d="M581.3 454.2H582.27V464.95H583.24V470.93H584.21V478.09H585.18V480.48H586.15V481.68H587.12V484.07H588.1V486.46H589.07V487.65H590.04V492.53H591.01V496.19H591.98V499.85H592.95V504.73H593.92V509.62H594.89V513.28H595.86V517.08H596.83V519.62H597.8V523.43H598.77V525.97H599.75V527.23H600.72V528.5H601.69V529.77H602.66V531.04H603.63V532.31H604.6V534.85H605.57V536.12H607.51V537.39H608.48V538.66H627.9V539.92H628.87V541.19H629.84V542.46H667.28" fill="none" stroke="#cf5f4e" stroke-width="1.15"/>
<line x1="589.07" y1="486.75" x2="589.07" y2="488.55" stroke="#cf5f4e" stroke-width="0.6"/>
<line x1="594.89" y1="512.38" x2="594.89" y2="514.18" stroke="#cf5f4e" stroke-width="0.6"/>
<line x1="667.28" y1="541.56" x2="667.28" y2="543.36" stroke="#cf5f4e" stroke-width="0.6"/>
<line x1="667.28" y1="541.46" x2="667.28" y2="543.46" stroke="#cf5f4e" stroke-width="0.7"/>
<path d="M581.3 454.2H582.27V457.74H583.24V461.28H584.21V463.63H585.18V465.99H586.15V468.39H587.12V469.58H588.1V471.98H589.07V473.17H590.04V475.57H591.01V477.96H591.98V481.55H592.95V486.34H593.92V493.53H594.89V498.31H595.86V503.1H596.83V509.09H597.8V510.28H598.77V512.68H599.75V515.07H600.72V517.47H601.69V518.66H602.66V519.86H603.63V521.06H604.6V522.26H605.57V523.45H606.54V524.65H608.48V525.85H609.45V527.04H610.42V528.24H615.28V533.03H616.25V534.23H618.19V535.42H622.07V536.62H625.96V537.82H627.9V540.21H628.87V542.61H649.8" fill="none" stroke="#3479bf" stroke-width="1.15"/>
<line x1="585.18" y1="465.09" x2="585.18" y2="466.89" stroke="#3479bf" stroke-width="0.6"/>
<line x1="649.8" y1="541.71" x2="649.8" y2="543.51" stroke="#3479bf" stroke-width="0.6"/>
<line x1="649.8" y1="541.61" x2="649.8" y2="543.61" stroke="#3479bf" stroke-width="0.7"/>
<line x1="581.3" y1="499.6" x2="595.86" y2="499.6" stroke="#777" stroke-width="0.7" stroke-dasharray="1.1 0.9"/>
<line x1="591.98" y1="499.6" x2="591.98" y2="545" stroke="#222" stroke-width="0.7" stroke-dasharray="1.1 0.9"/>
<line x1="595.86" y1="499.6" x2="595.86" y2="545" stroke="#222" stroke-width="0.7" stroke-dasharray="1.1 0.9"/>
<text x="614.6" y="456.4" font-size="3.9" fill="#333" stroke="#333" stroke-width="0.12" text-anchor="middle" textLength="27.5" lengthAdjust="spacingAndGlyphs">Log-rank P = 0.031</text>
<text x="614.6" y="461.1" font-size="3.9" fill="#333" stroke="#333" stroke-width="0.12" text-anchor="middle" textLength="27.5" lengthAdjust="spacingAndGlyphs">HR(High exp) = 1.48</text>
<text x="614.6" y="465.8" font-size="3.9" fill="#333" stroke="#333" stroke-width="0.12" text-anchor="middle" textLength="27.5" lengthAdjust="spacingAndGlyphs">95%CI: 1.03 - 2.11</text>
<text x="647.8" y="453.9" font-size="3.8" fill="#666">CCL18</text>
<line x1="648.3" y1="458.6" x2="653.8" y2="458.6" stroke="#cf5f4e" stroke-width="1.1"/>
<line x1="648.3" y1="464.2" x2="653.8" y2="464.2" stroke="#3479bf" stroke-width="1.1"/>
<text x="655.1" y="459.9" font-size="3.9" fill="#333" stroke="#333" stroke-width="0.1" textLength="22.2" lengthAdjust="spacingAndGlyphs">group=High exp</text>
<text x="655.1" y="465.5" font-size="3.9" fill="#333" stroke="#333" stroke-width="0.1" textLength="21.7" lengthAdjust="spacingAndGlyphs">group=Low exp</text>
<text x="581" y="546.2" font-size="3.8" fill="#d9453a" textLength="35" lengthAdjust="spacingAndGlyphs">Median time: 0.92 and 1.2</text>
<text x="581.3" y="557.3" font-size="3.7" fill="#444" text-anchor="middle">76</text>
<text x="604.6" y="557.3" font-size="3.7" fill="#444" text-anchor="middle">10</text>
<text x="627.9" y="557.3" font-size="3.7" fill="#444" text-anchor="middle">5</text>
<text x="651.2" y="557.3" font-size="3.7" fill="#444" text-anchor="middle">2</text>
<text x="674.5" y="557.3" font-size="3.7" fill="#444" text-anchor="middle">0</text>
<text x="581.3" y="565.6" font-size="3.7" fill="#444" text-anchor="middle">77</text>
<text x="604.6" y="565.6" font-size="3.7" fill="#444" text-anchor="middle">20</text>
<text x="627.9" y="565.6" font-size="3.7" fill="#444" text-anchor="middle">6</text>
<text x="651.2" y="565.6" font-size="3.7" fill="#444" text-anchor="middle">0</text>
<text x="674.5" y="565.6" font-size="3.7" fill="#444" text-anchor="middle">0</text></g><g font-family="Liberation Serif, serif"><line x1="227.7" y1="688.5" x2="227.7" y2="706.3" stroke="#e4e4e4" stroke-width="0.4"/>
<line x1="239.35" y1="688.5" x2="239.35" y2="706.3" stroke="#ececec" stroke-width="0.4"/>
<line x1="251" y1="688.5" x2="251" y2="706.3" stroke="#e4e4e4" stroke-width="0.4"/>
<line x1="262.65" y1="688.5" x2="262.65" y2="706.3" stroke="#ececec" stroke-width="0.4"/>
<line x1="274.3" y1="688.5" x2="274.3" y2="706.3" stroke="#e4e4e4" stroke-width="0.4"/>
<line x1="285.95" y1="688.5" x2="285.95" y2="706.3" stroke="#ececec" stroke-width="0.4"/>
<line x1="297.6" y1="688.5" x2="297.6" y2="706.3" stroke="#e4e4e4" stroke-width="0.4"/>
<line x1="309.25" y1="688.5" x2="309.25" y2="706.3" stroke="#ececec" stroke-width="0.4"/>
<line x1="320.9" y1="688.5" x2="320.9" y2="706.3" stroke="#e4e4e4" stroke-width="0.4"/>
<line x1="222.4" y1="693" x2="325.7" y2="693" stroke="#ececec" stroke-width="0.4"/>
<line x1="222.4" y1="701.3" x2="325.7" y2="701.3" stroke="#ececec" stroke-width="0.4"/>
<line x1="222.4" y1="586.7" x2="325.7" y2="586.7" stroke="#a8a8a8" stroke-width="0.8"/>
<line x1="325.7" y1="586.7" x2="325.7" y2="686.9" stroke="#a8a8a8" stroke-width="0.8"/>
<line x1="325.7" y1="688.5" x2="325.7" y2="706.3" stroke="#a8a8a8" stroke-width="0.8"/>
<line x1="222.4" y1="686.9" x2="325.7" y2="686.9" stroke="#e6e6e6" stroke-width="1.4"/>
<line x1="222.4" y1="586.7" x2="222.4" y2="686.9" stroke="#999" stroke-width="0.9"/>
<line x1="222.4" y1="688.5" x2="222.4" y2="706.3" stroke="#999" stroke-width="0.9"/>
<line x1="222.4" y1="706.3" x2="325.7" y2="706.3" stroke="#9a9a9a" stroke-width="0.9"/>
<line x1="221.1" y1="682" x2="222.4" y2="682" stroke="#666" stroke-width="0.5"/>
<text x="220.4" y="683.3" font-size="3.6" fill="#777" text-anchor="end" textLength="4.9" lengthAdjust="spacingAndGlyphs">0.00</text>
<line x1="221.1" y1="659.38" x2="222.4" y2="659.38" stroke="#666" stroke-width="0.5"/>
<text x="220.4" y="660.67" font-size="3.6" fill="#777" text-anchor="end" textLength="4.9" lengthAdjust="spacingAndGlyphs">0.25</text>
<line x1="221.1" y1="636.75" x2="222.4" y2="636.75" stroke="#666" stroke-width="0.5"/>
<text x="220.4" y="638.05" font-size="3.6" fill="#777" text-anchor="end" textLength="4.9" lengthAdjust="spacingAndGlyphs">0.50</text>
<line x1="221.1" y1="614.12" x2="222.4" y2="614.12" stroke="#666" stroke-width="0.5"/>
<text x="220.4" y="615.42" font-size="3.6" fill="#777" text-anchor="end" textLength="4.9" lengthAdjust="spacingAndGlyphs">0.75</text>
<line x1="221.1" y1="591.5" x2="222.4" y2="591.5" stroke="#666" stroke-width="0.5"/>
<text x="220.4" y="592.8" font-size="3.6" fill="#777" text-anchor="end" textLength="4.9" lengthAdjust="spacingAndGlyphs">1.00</text>
<line x1="227.7" y1="686.5" x2="227.7" y2="687.9" stroke="#666" stroke-width="0.5"/>
<line x1="227.7" y1="706.3" x2="227.7" y2="707.5" stroke="#555" stroke-width="0.6"/>
<text x="227.7" y="710.5" font-size="3.7" fill="#777" text-anchor="middle">0</text>
<line x1="251" y1="686.5" x2="251" y2="687.9" stroke="#666" stroke-width="0.5"/>
<line x1="251" y1="706.3" x2="251" y2="707.5" stroke="#555" stroke-width="0.6"/>
<text x="251" y="710.5" font-size="3.7" fill="#777" text-anchor="middle">2</text>
<line x1="274.3" y1="686.5" x2="274.3" y2="687.9" stroke="#666" stroke-width="0.5"/>
<line x1="274.3" y1="706.3" x2="274.3" y2="707.5" stroke="#555" stroke-width="0.6"/>
<text x="274.3" y="710.5" font-size="3.7" fill="#777" text-anchor="middle">4</text>
<line x1="297.6" y1="686.5" x2="297.6" y2="687.9" stroke="#666" stroke-width="0.5"/>
<line x1="297.6" y1="706.3" x2="297.6" y2="707.5" stroke="#555" stroke-width="0.6"/>
<text x="297.6" y="710.5" font-size="3.7" fill="#777" text-anchor="middle">6</text>
<line x1="320.9" y1="686.5" x2="320.9" y2="687.9" stroke="#666" stroke-width="0.5"/>
<line x1="320.9" y1="706.3" x2="320.9" y2="707.5" stroke="#555" stroke-width="0.6"/>
<text x="320.9" y="710.5" font-size="3.7" fill="#777" text-anchor="middle">8</text>
<text x="274.2" y="714.2" font-size="4.6" fill="#111" text-anchor="middle" textLength="20" lengthAdjust="spacingAndGlyphs">Time (years)</text>
<text transform="translate(196.4,636.75) rotate(-90)" font-size="3.6" fill="#3a3a3a" font-weight="bold" text-anchor="middle" textLength="43" lengthAdjust="spacingAndGlyphs">Overall survival probability</text>
<text x="220.4" y="694.3" font-size="3.8" fill="#8a8a8a" text-anchor="end" textLength="22" lengthAdjust="spacingAndGlyphs">group=High exp</text>
<text x="220.4" y="702.6" font-size="3.8" fill="#8a8a8a" text-anchor="end" textLength="21.7" lengthAdjust="spacingAndGlyphs">group=Low exp</text>
<line x1="221.2" y1="693" x2="222.4" y2="693" stroke="#666" stroke-width="0.5"/>
<line x1="221.2" y1="701.3" x2="222.4" y2="701.3" stroke="#666" stroke-width="0.5"/>
<text transform="translate(196.1,697.2) rotate(-90)" font-size="4.2" font-weight="bold" fill="#333" text-anchor="middle">FAM8IB</text>
<path d="M227.7 591.5H228.67V603.95H229.64V611.44H230.61V617.03H231.58V622.39H232.55V625H233.52V627.58H234.5V630.11H235.47V631.37H236.44V633.86H237.41V636.32H238.38V640.04H239.35V646.1H240.32V653.12H241.29V659.86H242.26V663.12H243.23V665.25H244.2V668.36H245.17V671.36H246.15V672.34H247.12V674.23H248.09V676.06H250.03V676.94H251.97V677.79H252.94V678.61H254.88V679.39H256.82V680.12H257.8V680.79H260.71V681.38H267.31" fill="none" stroke="#cf5f4e" stroke-width="0.75" stroke-dasharray="1.1 1.1" opacity="0.8"/>
<path d="M227.7 591.5H228.67V592.97H229.64V597.1H230.61V600.79H231.58V604.72H232.55V606.75H233.52V608.81H234.5V610.92H235.47V611.98H236.44V614.13H237.41V616.32H238.38V619.7H239.35V625.5H240.32V632.7H241.29V640.17H242.26V644.01H243.23V646.62H244.2V650.61H245.17V654.7H246.15V656.09H247.12V658.91H248.09V661.8H250.03V663.27H251.97V664.76H252.94V666.28H254.88V667.82H256.82V669.37H257.8V670.94H260.71V672.45H261.29" fill="none" stroke="#cf5f4e" stroke-width="0.75" stroke-dasharray="1.1 1.1" opacity="0.8"/>
<path d="M227.7 591.5H228.67V605.34H229.64V611.19H230.61V618.05H231.58V622.01H233.52V623.31H235.47V624.6H236.44V625.9H237.41V627.2H238.38V628.48H239.35V636.02H240.32V642.08H241.29V649.12H242.26V654.79H243.23V658.11H244.2V659.2H245.17V660.28H247.12V661.35H248.09V662.42H250.03V663.47H251V664.52H251.97V666.58H252.94V668.61H254.88V669.6H256.82V670.59H257.8V671.56H258.77V672.51H259.74V673.45H273.33V676.17H274.3V679.43H275.27V680.16H295.66V680.82H296.63V681.39H313.91" fill="none" stroke="#3479bf" stroke-width="0.75" stroke-dasharray="1.1 1.1" opacity="0.8"/>
<path d="M227.7 591.5H228.67V593.71H229.64V597.02H230.61V601.62H231.58V604.53H233.52V605.53H235.47V606.53H236.44V607.56H237.41V608.6H238.38V609.64H239.35V616.1H240.32V621.69H241.29V628.64H242.26V634.62H243.23V638.3H244.2V639.54H245.17V640.79H247.12V642.05H248.09V643.31H250.03V644.59H251V645.87H251.97V648.46H252.94V651.1H254.88V652.43H256.82V653.77H257.8V655.13H258.77V656.5H259.74V657.88H273.33V662.12H274.3V668.04H275.27V669.58H295.66V671.12H296.63V672.61H297.21" fill="none" stroke="#3479bf" stroke-width="0.75" stroke-dasharray="1.1 1.1" opacity="0.8"/>
<path d="M227.7 591.5H228.67V598.64H229.64V604.6H230.61V609.36H231.58V614.12H232.55V616.51H233.52V618.89H234.5V621.27H235.47V622.46H236.44V624.84H237.41V627.22H238.38V630.88H239.35V636.96H240.32V644.27H241.29V651.57H242.26V655.22H243.23V657.65H244.2V661.31H245.17V664.96H246.15V666.18H247.12V668.61H248.09V671.04H250.03V672.26H251.97V673.48H252.94V674.7H254.88V675.91H256.82V677.13H257.8V678.35H260.71V679.57H267.31" fill="none" stroke="#cf5f4e" stroke-width="1.15"/>
<line x1="237.41" y1="626.32" x2="237.41" y2="628.12" stroke="#cf5f4e" stroke-width="0.6"/>
<line x1="267.31" y1="678.67" x2="267.31" y2="680.47" stroke="#cf5f4e" stroke-width="0.6"/>
<line x1="267.31" y1="678.57" x2="267.31" y2="680.57" stroke="#cf5f4e" stroke-width="0.7"/>
<path d="M227.7 591.5H228.67V599.73H229.64V604.43H230.61V610.31H231.58V613.83H233.52V615.01H235.47V616.18H236.44V617.38H237.41V618.58H238.38V619.77H239.35V626.95H240.32V632.94H241.29V640.12H242.26V646.1H243.23V649.69H244.2V650.89H245.17V652.08H247.12V653.28H248.09V654.48H250.03V655.67H251V656.87H251.97V659.26H252.94V661.66H254.88V662.85H256.82V664.05H257.8V665.25H258.77V666.44H259.74V667.64H273.33V671.23H274.3V676.02H275.27V677.21H295.66V678.41H296.63V679.61H313.91" fill="none" stroke="#3479bf" stroke-width="1.15"/>
<line x1="235.47" y1="615.28" x2="235.47" y2="617.08" stroke="#3479bf" stroke-width="0.6"/>
<line x1="313.91" y1="678.71" x2="313.91" y2="680.51" stroke="#3479bf" stroke-width="0.6"/>
<line x1="313.91" y1="678.61" x2="313.91" y2="680.61" stroke="#3479bf" stroke-width="0.7"/>
<line x1="227.7" y1="636.75" x2="241.29" y2="636.75" stroke="#777" stroke-width="0.7" stroke-dasharray="1.1 0.9"/>
<line x1="239.35" y1="636.75" x2="239.35" y2="682" stroke="#222" stroke-width="0.7" stroke-dasharray="1.1 0.9"/>
<line x1="241.29" y1="636.75" x2="241.29" y2="682" stroke="#222" stroke-width="0.7" stroke-dasharray="1.1 0.9"/>
<text x="261" y="593.7" font-size="3.9" fill="#333" stroke="#333" stroke-width="0.12" text-anchor="middle" textLength="27.5" lengthAdjust="spacingAndGlyphs">Log-rank P = 0.025</text>
<text x="261" y="598.4" font-size="3.9" fill="#333" stroke="#333" stroke-width="0.12" text-anchor="middle" textLength="27.5" lengthAdjust="spacingAndGlyphs">HR(High exp) = 1.53</text>
<text x="261" y="603.1" font-size="3.9" fill="#333" stroke="#333" stroke-width="0.12" text-anchor="middle" textLength="27.5" lengthAdjust="spacingAndGlyphs">95%CI: 1.05 - 2.23</text>
<text x="294.2" y="591.2" font-size="3.8" fill="#666">FAM8IB</text>
<line x1="294.7" y1="595.9" x2="300.2" y2="595.9" stroke="#cf5f4e" stroke-width="1.1"/>
<line x1="294.7" y1="601.5" x2="300.2" y2="601.5" stroke="#3479bf" stroke-width="1.1"/>
<text x="301.5" y="597.2" font-size="3.9" fill="#333" stroke="#333" stroke-width="0.1" textLength="22.2" lengthAdjust="spacingAndGlyphs">group=High exp</text>
<text x="301.5" y="602.8" font-size="3.9" fill="#333" stroke="#333" stroke-width="0.1" textLength="21.7" lengthAdjust="spacingAndGlyphs">group=Low exp</text>
<text x="227.4" y="683.2" font-size="3.8" fill="#d9453a" textLength="35" lengthAdjust="spacingAndGlyphs">Median time: 1 and 1.2</text>
<text x="227.7" y="694.3" font-size="3.7" fill="#444" text-anchor="middle">76</text>
<text x="251" y="694.3" font-size="3.7" fill="#444" text-anchor="middle">8</text>
<text x="274.3" y="694.3" font-size="3.7" fill="#444" text-anchor="middle">0</text>
<text x="297.6" y="694.3" font-size="3.7" fill="#444" text-anchor="middle">0</text>
<text x="320.9" y="694.3" font-size="3.7" fill="#444" text-anchor="middle">0</text>
<text x="227.7" y="702.6" font-size="3.7" fill="#444" text-anchor="middle">77</text>
<text x="251" y="702.6" font-size="3.7" fill="#444" text-anchor="middle">22</text>
<text x="274.3" y="702.6" font-size="3.7" fill="#444" text-anchor="middle">9</text>
<text x="297.6" y="702.6" font-size="3.7" fill="#444" text-anchor="middle">2</text>
<text x="320.9" y="702.6" font-size="3.7" fill="#444" text-anchor="middle">0</text></g><g font-family="Liberation Serif, serif"><line x1="380" y1="688.5" x2="380" y2="706.3" stroke="#e4e4e4" stroke-width="0.4"/>
<line x1="391.65" y1="688.5" x2="391.65" y2="706.3" stroke="#ececec" stroke-width="0.4"/>
<line x1="403.3" y1="688.5" x2="403.3" y2="706.3" stroke="#e4e4e4" stroke-width="0.4"/>
<line x1="414.95" y1="688.5" x2="414.95" y2="706.3" stroke="#ececec" stroke-width="0.4"/>
<line x1="426.6" y1="688.5" x2="426.6" y2="706.3" stroke="#e4e4e4" stroke-width="0.4"/>
<line x1="438.25" y1="688.5" x2="438.25" y2="706.3" stroke="#ececec" stroke-width="0.4"/>
<line x1="449.9" y1="688.5" x2="449.9" y2="706.3" stroke="#e4e4e4" stroke-width="0.4"/>
<line x1="461.55" y1="688.5" x2="461.55" y2="706.3" stroke="#ececec" stroke-width="0.4"/>
<line x1="473.2" y1="688.5" x2="473.2" y2="706.3" stroke="#e4e4e4" stroke-width="0.4"/>
<line x1="375.5" y1="693" x2="478" y2="693" stroke="#ececec" stroke-width="0.4"/>
<line x1="375.5" y1="701.3" x2="478" y2="701.3" stroke="#ececec" stroke-width="0.4"/>
<line x1="375.5" y1="586.7" x2="478" y2="586.7" stroke="#a8a8a8" stroke-width="0.8"/>
<line x1="478" y1="586.7" x2="478" y2="686.9" stroke="#a8a8a8" stroke-width="0.8"/>
<line x1="478" y1="688.5" x2="478" y2="706.3" stroke="#a8a8a8" stroke-width="0.8"/>
<line x1="375.5" y1="686.9" x2="478" y2="686.9" stroke="#e6e6e6" stroke-width="1.4"/>
<line x1="375.5" y1="586.7" x2="375.5" y2="686.9" stroke="#999" stroke-width="0.9"/>
<line x1="375.5" y1="688.5" x2="375.5" y2="706.3" stroke="#999" stroke-width="0.9"/>
<line x1="375.5" y1="706.3" x2="478" y2="706.3" stroke="#9a9a9a" stroke-width="0.9"/>
<line x1="374.2" y1="682" x2="375.5" y2="682" stroke="#666" stroke-width="0.5"/>
<text x="373.5" y="683.3" font-size="3.6" fill="#777" text-anchor="end" textLength="4.9" lengthAdjust="spacingAndGlyphs">0.00</text>
<line x1="374.2" y1="659.38" x2="375.5" y2="659.38" stroke="#666" stroke-width="0.5"/>
<text x="373.5" y="660.67" font-size="3.6" fill="#777" text-anchor="end" textLength="4.9" lengthAdjust="spacingAndGlyphs">0.25</text>
<line x1="374.2" y1="636.75" x2="375.5" y2="636.75" stroke="#666" stroke-width="0.5"/>
<text x="373.5" y="638.05" font-size="3.6" fill="#777" text-anchor="end" textLength="4.9" lengthAdjust="spacingAndGlyphs">0.50</text>
<line x1="374.2" y1="614.12" x2="375.5" y2="614.12" stroke="#666" stroke-width="0.5"/>
<text x="373.5" y="615.42" font-size="3.6" fill="#777" text-anchor="end" textLength="4.9" lengthAdjust="spacingAndGlyphs">0.75</text>
<line x1="374.2" y1="591.5" x2="375.5" y2="591.5" stroke="#666" stroke-width="0.5"/>
<text x="373.5" y="592.8" font-size="3.6" fill="#777" text-anchor="end" textLength="4.9" lengthAdjust="spacingAndGlyphs">1.00</text>
<line x1="380" y1="686.5" x2="380" y2="687.9" stroke="#666" stroke-width="0.5"/>
<line x1="380" y1="706.3" x2="380" y2="707.5" stroke="#555" stroke-width="0.6"/>
<text x="380" y="710.5" font-size="3.7" fill="#777" text-anchor="middle">0</text>
<line x1="403.3" y1="686.5" x2="403.3" y2="687.9" stroke="#666" stroke-width="0.5"/>
<line x1="403.3" y1="706.3" x2="403.3" y2="707.5" stroke="#555" stroke-width="0.6"/>
<text x="403.3" y="710.5" font-size="3.7" fill="#777" text-anchor="middle">2</text>
<line x1="426.6" y1="686.5" x2="426.6" y2="687.9" stroke="#666" stroke-width="0.5"/>
<line x1="426.6" y1="706.3" x2="426.6" y2="707.5" stroke="#555" stroke-width="0.6"/>
<text x="426.6" y="710.5" font-size="3.7" fill="#777" text-anchor="middle">4</text>
<line x1="449.9" y1="686.5" x2="449.9" y2="687.9" stroke="#666" stroke-width="0.5"/>
<line x1="449.9" y1="706.3" x2="449.9" y2="707.5" stroke="#555" stroke-width="0.6"/>
<text x="449.9" y="710.5" font-size="3.7" fill="#777" text-anchor="middle">6</text>
<line x1="473.2" y1="686.5" x2="473.2" y2="687.9" stroke="#666" stroke-width="0.5"/>
<line x1="473.2" y1="706.3" x2="473.2" y2="707.5" stroke="#555" stroke-width="0.6"/>
<text x="473.2" y="710.5" font-size="3.7" fill="#777" text-anchor="middle">8</text>
<text x="426.5" y="714.2" font-size="4.6" fill="#111" text-anchor="middle" textLength="20" lengthAdjust="spacingAndGlyphs">Time (years)</text>
<text transform="translate(349.5,636.75) rotate(-90)" font-size="3.6" fill="#3a3a3a" font-weight="bold" text-anchor="middle" textLength="43" lengthAdjust="spacingAndGlyphs">Overall survival probability</text>
<text x="373.5" y="694.3" font-size="3.8" fill="#8a8a8a" text-anchor="end" textLength="22" lengthAdjust="spacingAndGlyphs">group=High exp</text>
<text x="373.5" y="702.6" font-size="3.8" fill="#8a8a8a" text-anchor="end" textLength="21.7" lengthAdjust="spacingAndGlyphs">group=Low exp</text>
<line x1="374.3" y1="693" x2="375.5" y2="693" stroke="#666" stroke-width="0.5"/>
<line x1="374.3" y1="701.3" x2="375.5" y2="701.3" stroke="#666" stroke-width="0.5"/>
<text transform="translate(349.2,697.2) rotate(-90)" font-size="4.2" font-weight="bold" fill="#333" text-anchor="middle">LOX</text>
<path d="M380 591.5H380.97V605.51H381.94V612.86H382.91V619.73H383.88V625H384.85V627.58H385.82V630.11H386.8V631.37H387.77V633.86H388.74V636.32H389.71V638.75H390.68V642.43H391.65V647.24H392.62V651.93H393.59V656.66H394.56V659.08H395.53V661.46H396.5V663.92H397.48V666.32H398.45V667.5H400.39V668.76H401.36V669.99H402.33V671.2H403.3V672.39H404.27V673.54H405.24V674.67H406.21V675.77H407.18V676.82H412.04V677.84H413.01V681.25H426.6" fill="none" stroke="#cf5f4e" stroke-width="0.75" stroke-dasharray="1.1 1.1" opacity="0.8"/>
<path d="M380 591.5H380.97V593.74H381.94V598H382.91V602.73H383.88V606.75H384.85V608.81H385.82V610.92H386.8V611.98H387.77V614.13H388.74V616.32H389.71V618.53H390.68V621.96H391.65V626.64H392.62V631.44H393.59V636.48H394.56V639.12H395.53V641.8H396.5V644.61H397.48V647.48H398.45V648.94H400.39V650.47H401.36V652.02H402.33V653.59H403.3V655.19H404.27V656.81H405.24V658.45H406.21V660.13H407.18V661.83H412.04V663.57H413.01V670.69H413.59" fill="none" stroke="#cf5f4e" stroke-width="0.75" stroke-dasharray="1.1 1.1" opacity="0.8"/>
<path d="M380 591.5H380.97V602.21H381.94V606.84H382.91V611.19H383.88V612.59H384.85V613.98H385.82V615.35H387.77V616.74H388.74V618.13H389.71V620.94H390.68V623.7H391.65V629.07H392.62V634.28H393.59V641.85H394.56V650.31H395.53V653.82H396.5V658.58H397.48V660.89H398.45V663.17H399.42V665.41H400.39V666.5H401.36V667.59H402.33V668.67H404.27V669.73H405.24V670.77H407.18V671.8H411.07V672.82H413.98V673.81H415.92V674.79H417.86V675.74H420.77V676.66H422.72V677.56H425.63V678.43H426.6V679.25H428.54V680.02H447.96V681.35H465.05" fill="none" stroke="#3479bf" stroke-width="0.75" stroke-dasharray="1.1 1.1" opacity="0.8"/>
<path d="M380 591.5H380.97V592.25H381.94V594.49H382.91V597.02H383.88V597.91H384.85V598.81H385.82V599.73H387.77V600.68H388.74V601.65H389.71V603.65H390.68V605.7H391.65V609.95H392.62V614.35H393.59V621.21H394.56V629.57H395.53V633.27H396.5V638.44H397.48V641.08H398.45V643.76H399.42V646.49H400.39V647.86H401.36V649.25H402.33V650.66H404.27V652.07H405.24V653.5H407.18V654.94H411.07V656.4H413.98V657.88H415.92V659.37H417.86V660.88H420.77V662.42H422.72V663.97H425.63V665.55H426.6V667.16H428.54V668.78H447.96V671.99H448.54" fill="none" stroke="#3479bf" stroke-width="0.75" stroke-dasharray="1.1 1.1" opacity="0.8"/>
<path d="M380 591.5H380.97V599.84H381.94V605.79H382.91V611.74H383.88V616.51H384.85V618.89H385.82V621.27H386.8V622.46H387.77V624.84H388.74V627.22H389.71V629.61H390.68V633.26H391.65V638.13H392.62V643.01H393.59V648.04H394.56V650.65H395.53V653.26H396.5V656H397.48V658.74H398.45V660.11H400.39V661.57H401.36V663.03H402.33V664.48H403.3V665.94H404.27V667.4H405.24V668.86H406.21V670.32H407.18V671.78H412.04V673.24H413.01V679.08H426.6" fill="none" stroke="#cf5f4e" stroke-width="1.15"/>
<line x1="389.71" y1="628.71" x2="389.71" y2="630.51" stroke="#cf5f4e" stroke-width="0.6"/>
<line x1="392.62" y1="642.11" x2="392.62" y2="643.91" stroke="#cf5f4e" stroke-width="0.6"/>
<line x1="393.59" y1="647.14" x2="393.59" y2="648.94" stroke="#cf5f4e" stroke-width="0.6"/>
<line x1="395.53" y1="652.36" x2="395.53" y2="654.16" stroke="#cf5f4e" stroke-width="0.6"/>
<line x1="399.42" y1="659.21" x2="399.42" y2="661.01" stroke="#cf5f4e" stroke-width="0.6"/>
<line x1="426.6" y1="678.18" x2="426.6" y2="679.98" stroke="#cf5f4e" stroke-width="0.6"/>
<line x1="426.6" y1="678.08" x2="426.6" y2="680.08" stroke="#cf5f4e" stroke-width="0.7"/>
<path d="M380 591.5H380.97V597.38H381.94V600.9H382.91V604.43H383.88V605.6H384.85V606.78H385.82V607.95H387.77V609.15H388.74V610.36H389.71V612.83H390.68V615.3H391.65V620.24H392.62V625.18H393.59V632.6H394.56V641.24H395.53V644.95H396.5V650.06H397.48V652.61H398.45V655.17H399.42V657.72H400.39V659H401.36V660.28H402.33V661.56H404.27V662.83H405.24V664.11H407.18V665.39H411.07V666.67H413.98V667.95H415.92V669.22H417.86V670.5H420.77V671.78H422.72V673.06H425.63V674.33H426.6V675.61H428.54V676.89H447.96V679.44H465.05" fill="none" stroke="#3479bf" stroke-width="1.15"/>
<line x1="386.8" y1="607.05" x2="386.8" y2="608.85" stroke="#3479bf" stroke-width="0.6"/>
<line x1="387.77" y1="608.25" x2="387.77" y2="610.05" stroke="#3479bf" stroke-width="0.6"/>
<line x1="388.74" y1="609.46" x2="388.74" y2="611.26" stroke="#3479bf" stroke-width="0.6"/>
<line x1="395.53" y1="644.05" x2="395.53" y2="645.85" stroke="#3479bf" stroke-width="0.6"/>
<line x1="465.05" y1="678.54" x2="465.05" y2="680.34" stroke="#3479bf" stroke-width="0.6"/>
<line x1="465.05" y1="678.44" x2="465.05" y2="680.44" stroke="#3479bf" stroke-width="0.7"/>
<line x1="380" y1="636.75" x2="394.56" y2="636.75" stroke="#777" stroke-width="0.7" stroke-dasharray="1.1 0.9"/>
<line x1="391.65" y1="636.75" x2="391.65" y2="682" stroke="#222" stroke-width="0.7" stroke-dasharray="1.1 0.9"/>
<line x1="394.56" y1="636.75" x2="394.56" y2="682" stroke="#222" stroke-width="0.7" stroke-dasharray="1.1 0.9"/>
<text x="413.3" y="593.7" font-size="3.9" fill="#333" stroke="#333" stroke-width="0.12" text-anchor="middle" textLength="27.5" lengthAdjust="spacingAndGlyphs">Log-rank P = 0.049</text>
<text x="413.3" y="598.4" font-size="3.9" fill="#333" stroke="#333" stroke-width="0.12" text-anchor="middle" textLength="27.5" lengthAdjust="spacingAndGlyphs">HR(High exp) = 1.46</text>
<text x="413.3" y="603.1" font-size="3.9" fill="#333" stroke="#333" stroke-width="0.12" text-anchor="middle" textLength="27.5" lengthAdjust="spacingAndGlyphs">95%CI: 1.00 - 2.13</text>
<text x="446.5" y="591.2" font-size="3.8" fill="#666">LOX</text>
<line x1="447" y1="595.9" x2="452.5" y2="595.9" stroke="#cf5f4e" stroke-width="1.1"/>
<line x1="447" y1="601.5" x2="452.5" y2="601.5" stroke="#3479bf" stroke-width="1.1"/>
<text x="453.8" y="597.2" font-size="3.9" fill="#333" stroke="#333" stroke-width="0.1" textLength="22.2" lengthAdjust="spacingAndGlyphs">group=High exp</text>
<text x="453.8" y="602.8" font-size="3.9" fill="#333" stroke="#333" stroke-width="0.1" textLength="21.7" lengthAdjust="spacingAndGlyphs">group=Low exp</text>
<text x="379.7" y="683.2" font-size="3.8" fill="#d9453a" textLength="35" lengthAdjust="spacingAndGlyphs">Median time: 1 and 1.2</text>
<text x="380" y="694.3" font-size="3.7" fill="#444" text-anchor="middle">76</text>
<text x="403.3" y="694.3" font-size="3.7" fill="#444" text-anchor="middle">12</text>
<text x="426.6" y="694.3" font-size="3.7" fill="#444" text-anchor="middle">2</text>
<text x="449.9" y="694.3" font-size="3.7" fill="#444" text-anchor="middle">0</text>
<text x="473.2" y="694.3" font-size="3.7" fill="#444" text-anchor="middle">0</text>
<text x="380" y="702.6" font-size="3.7" fill="#444" text-anchor="middle">77</text>
<text x="403.3" y="702.6" font-size="3.7" fill="#444" text-anchor="middle">16</text>
<text x="426.6" y="702.6" font-size="3.7" fill="#444" text-anchor="middle">6</text>
<text x="449.9" y="702.6" font-size="3.7" fill="#444" text-anchor="middle">2</text>
<text x="473.2" y="702.6" font-size="3.7" fill="#444" text-anchor="middle">0</text></g>
</svg>
</body></html>
